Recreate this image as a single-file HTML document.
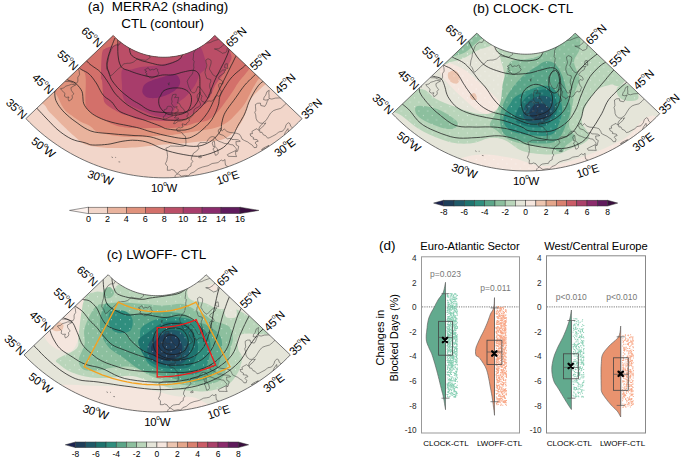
<!DOCTYPE html><html><head><meta charset="utf-8"><style>html,body{margin:0;padding:0;background:#fff;width:685px;height:461px;overflow:hidden}svg{display:block}</style></head><body>
<svg width="685" height="461" viewBox="0 0 685 461" style="font-family:'Liberation Sans',sans-serif">
<text x="158" y="10.5" text-anchor="middle" font-size="13.5" xml:space="preserve">(a)  MERRA2 (shading)</text>
<text x="162.7" y="27.6" text-anchor="middle" font-size="13.5">CTL (contour)</text>
<text x="523" y="13" text-anchor="middle" font-size="13.5">(b) CLOCK- CTL</text>
<text x="156.5" y="259.4" text-anchor="middle" font-size="13.5">(c) LWOFF- CTL</text>
<clipPath id="clipa"><path d="M113.21,35.47 L114.54,36.82 L115.90,38.14 L117.29,39.42 L118.72,40.66 L120.18,41.86 L121.68,43.02 L123.20,44.14 L124.75,45.23 L126.34,46.26 L127.95,47.26 L129.59,48.21 L131.25,49.12 L132.93,49.98 L134.64,50.79 L136.37,51.56 L138.12,52.28 L139.89,52.96 L141.68,53.59 L143.48,54.16 L145.30,54.69 L147.13,55.17 L148.97,55.60 L150.83,55.99 L152.69,56.32 L154.56,56.60 L156.44,56.83 L158.33,57.00 L160.22,57.13 L162.11,57.21 L164.00,57.23 L165.89,57.21 L167.78,57.13 L169.67,57.00 L171.56,56.83 L173.44,56.60 L175.31,56.32 L177.17,55.99 L179.03,55.60 L180.87,55.17 L182.70,54.69 L184.52,54.16 L186.32,53.59 L188.11,52.96 L189.88,52.28 L191.63,51.56 L193.36,50.79 L195.07,49.98 L196.75,49.12 L198.41,48.21 L200.05,47.26 L201.66,46.26 L203.25,45.23 L204.80,44.14 L206.32,43.02 L207.82,41.86 L209.28,40.66 L210.71,39.42 L212.10,38.14 L213.46,36.82 L214.79,35.47 L302.10,118.61 L298.50,122.29 L294.80,125.87 L291.01,129.35 L287.12,132.73 L283.15,136.00 L279.09,139.16 L274.94,142.21 L270.71,145.15 L266.41,147.97 L262.03,150.68 L257.58,153.26 L253.06,155.73 L248.47,158.07 L243.83,160.29 L239.12,162.38 L234.37,164.34 L229.56,166.18 L224.70,167.88 L219.80,169.45 L214.86,170.89 L209.88,172.20 L204.86,173.37 L199.82,174.41 L194.75,175.30 L189.66,176.07 L184.55,176.69 L179.43,177.18 L174.29,177.52 L169.15,177.73 L164.00,177.80 L158.85,177.73 L153.71,177.52 L148.57,177.18 L143.45,176.69 L138.34,176.07 L133.25,175.30 L128.18,174.41 L123.14,173.37 L118.12,172.20 L113.14,170.89 L108.20,169.45 L103.30,167.88 L98.44,166.18 L93.63,164.34 L88.88,162.38 L84.17,160.29 L79.53,158.07 L74.94,155.73 L70.42,153.26 L65.97,150.68 L61.59,147.97 L57.29,145.15 L53.06,142.21 L48.91,139.16 L44.85,136.00 L40.88,132.73 L36.99,129.35 L33.20,125.87 L29.50,122.29 L25.90,118.61Z"/></clipPath>
<g clip-path="url(#clipa)">
<path d="M113.21,35.47 L114.54,36.82 L115.90,38.14 L117.29,39.42 L118.72,40.66 L120.18,41.86 L121.68,43.02 L123.20,44.14 L124.75,45.23 L126.34,46.26 L127.95,47.26 L129.59,48.21 L131.25,49.12 L132.93,49.98 L134.64,50.79 L136.37,51.56 L138.12,52.28 L139.89,52.96 L141.68,53.59 L143.48,54.16 L145.30,54.69 L147.13,55.17 L148.97,55.60 L150.83,55.99 L152.69,56.32 L154.56,56.60 L156.44,56.83 L158.33,57.00 L160.22,57.13 L162.11,57.21 L164.00,57.23 L165.89,57.21 L167.78,57.13 L169.67,57.00 L171.56,56.83 L173.44,56.60 L175.31,56.32 L177.17,55.99 L179.03,55.60 L180.87,55.17 L182.70,54.69 L184.52,54.16 L186.32,53.59 L188.11,52.96 L189.88,52.28 L191.63,51.56 L193.36,50.79 L195.07,49.98 L196.75,49.12 L198.41,48.21 L200.05,47.26 L201.66,46.26 L203.25,45.23 L204.80,44.14 L206.32,43.02 L207.82,41.86 L209.28,40.66 L210.71,39.42 L212.10,38.14 L213.46,36.82 L214.79,35.47 L302.10,118.61 L298.50,122.29 L294.80,125.87 L291.01,129.35 L287.12,132.73 L283.15,136.00 L279.09,139.16 L274.94,142.21 L270.71,145.15 L266.41,147.97 L262.03,150.68 L257.58,153.26 L253.06,155.73 L248.47,158.07 L243.83,160.29 L239.12,162.38 L234.37,164.34 L229.56,166.18 L224.70,167.88 L219.80,169.45 L214.86,170.89 L209.88,172.20 L204.86,173.37 L199.82,174.41 L194.75,175.30 L189.66,176.07 L184.55,176.69 L179.43,177.18 L174.29,177.52 L169.15,177.73 L164.00,177.80 L158.85,177.73 L153.71,177.52 L148.57,177.18 L143.45,176.69 L138.34,176.07 L133.25,175.30 L128.18,174.41 L123.14,173.37 L118.12,172.20 L113.14,170.89 L108.20,169.45 L103.30,167.88 L98.44,166.18 L93.63,164.34 L88.88,162.38 L84.17,160.29 L79.53,158.07 L74.94,155.73 L70.42,153.26 L65.97,150.68 L61.59,147.97 L57.29,145.15 L53.06,142.21 L48.91,139.16 L44.85,136.00 L40.88,132.73 L36.99,129.35 L33.20,125.87 L29.50,122.29 L25.90,118.61Z" fill="#f2d6ca"/>
<path d="M20.0,90.0 L24.4,99.1 L28.7,103.3 L32.8,104.4 L36.6,103.7 L39.9,102.9 L42.6,103.5 L44.5,105.1 L45.8,106.5 L46.5,107.7 L47.1,108.8 L47.7,110.0 L48.7,111.3 L50.0,112.7 L51.4,114.1 L52.9,115.6 L54.4,117.1 L55.9,118.5 L57.4,120.0 L58.8,121.4 L60.3,122.9 L61.7,124.4 L63.1,125.8 L64.6,127.2 L66.0,128.6 L67.4,130.0 L68.8,131.3 L70.2,132.6 L71.7,133.9 L73.2,135.2 L74.7,136.5 L76.3,137.9 L77.8,139.3 L79.4,140.7 L81.1,142.1 L83.0,143.3 L85.0,144.3 L87.3,145.1 L89.7,145.7 L92.3,146.2 L95.0,146.6 L97.6,147.0 L100.2,147.3 L102.7,147.6 L105.1,147.8 L107.5,147.9 L109.9,148.0 L112.5,148.1 L115.3,148.1 L118.4,148.1 L121.8,148.0 L125.3,147.9 L128.8,147.7 L132.0,147.6 L135.0,147.4 L137.6,147.2 L139.9,147.0 L142.0,146.8 L144.0,146.6 L146.0,146.3 L148.1,146.1 L150.3,145.9 L152.5,145.7 L154.7,145.4 L156.9,145.2 L159.1,145.0 L161.3,144.8 L163.5,144.6 L165.7,144.5 L167.9,144.3 L170.0,144.2 L172.2,144.0 L174.4,143.9 L176.6,143.8 L178.8,143.6 L181.0,143.5 L183.2,143.3 L185.4,143.2 L187.5,143.0 L189.5,142.8 L191.4,142.5 L193.3,142.3 L195.2,142.0 L197.4,141.8 L200.0,141.5 L203.1,141.3 L206.7,141.2 L210.5,141.2 L214.3,141.0 L217.9,140.6 L221.0,140.0 L223.7,139.1 L226.1,137.9 L228.3,136.5 L230.3,135.1 L232.2,133.5 L234.0,131.9 L235.7,130.2 L237.2,128.4 L238.6,126.5 L239.8,124.6 L241.0,122.8 L242.0,121.0 L242.9,119.4 L243.6,117.8 L244.2,116.3 L244.8,114.7 L245.4,113.2 L246.0,111.5 L246.6,109.7 L247.2,107.8 L247.8,105.8 L248.4,103.9 L249.2,102.0 L250.0,100.3 L251.0,98.7 L252.0,97.3 L253.2,95.9 L254.4,94.6 L255.7,93.3 L257.0,92.0 L258.3,90.7 L259.5,89.5 L260.8,88.4 L262.2,87.1 L263.9,85.7 L266.0,84.0 L268.5,83.1 L271.2,83.3 L274.2,83.4 L277.5,82.0 L281.1,78.0 L285.0,70.0 L293.5,55.9 L307.3,36.4 L321.5,14.1 L330.9,-7.9 L330.4,-26.9 L315.0,-40.0 L277.3,-47.9 L219.8,-53.0 L152.5,-55.0 L85.2,-53.7 L27.7,-48.8 L-10.0,-40.0 L-25.5,-24.5 L-26.0,-2.0 L-16.7,24.2 L-2.6,50.5 L11.3,73.6Z" fill="#e9b39d"/>
<path d="M40.0,78.0 L43.4,86.3 L46.3,90.4 L48.7,91.5 L50.9,91.2 L52.8,90.8 L54.6,91.9 L56.2,94.2 L57.6,96.6 L58.8,99.0 L59.8,101.3 L60.8,103.4 L61.7,105.2 L62.5,106.6 L63.2,107.8 L63.9,108.8 L64.5,109.6 L65.2,110.4 L66.0,111.3 L67.0,112.2 L68.1,113.1 L69.3,114.0 L70.5,114.8 L71.8,115.6 L73.0,116.5 L74.2,117.4 L75.5,118.3 L76.8,119.2 L78.1,120.0 L79.4,120.9 L80.8,121.7 L82.3,122.5 L83.9,123.2 L85.5,123.8 L87.1,124.5 L88.6,125.2 L90.0,126.0 L91.2,126.9 L92.2,127.8 L93.1,128.8 L94.0,129.7 L95.1,130.6 L96.4,131.4 L98.0,132.1 L99.8,132.6 L101.8,133.1 L103.8,133.6 L105.8,134.0 L107.8,134.4 L109.6,134.8 L111.4,135.2 L113.2,135.5 L115.0,135.8 L117.0,136.1 L119.1,136.3 L121.5,136.5 L124.0,136.7 L126.7,136.8 L129.4,136.9 L132.2,136.9 L135.0,136.9 L137.8,136.8 L140.7,136.7 L143.7,136.5 L146.6,136.4 L149.6,136.2 L152.5,136.0 L155.5,135.9 L158.5,135.7 L161.5,135.6 L164.5,135.5 L167.3,135.3 L170.0,135.1 L172.4,134.9 L174.7,134.6 L176.8,134.3 L178.9,134.0 L181.0,133.7 L183.2,133.4 L185.4,133.0 L187.6,132.7 L189.8,132.3 L192.1,131.9 L194.5,131.4 L197.0,131.0 L199.8,130.6 L202.7,130.2 L205.8,129.7 L208.9,129.2 L211.8,128.7 L214.5,128.0 L217.0,127.2 L219.3,126.4 L221.5,125.4 L223.6,124.4 L225.6,123.3 L227.6,122.0 L229.5,120.5 L231.4,118.9 L233.2,117.1 L234.9,115.3 L236.5,113.6 L238.0,112.0 L239.3,110.6 L240.5,109.3 L241.6,108.0 L242.6,106.7 L243.5,105.4 L244.5,104.0 L245.5,102.4 L246.5,100.7 L247.5,98.9 L248.4,97.1 L249.2,95.5 L250.0,94.0 L250.6,92.8 L251.1,91.8 L251.5,90.9 L251.9,90.1 L252.4,89.1 L253.0,88.0 L253.7,86.7 L254.5,85.4 L255.3,84.0 L256.2,82.5 L257.3,80.8 L258.6,79.0 L259.9,78.0 L261.3,78.1 L262.8,78.0 L264.6,76.6 L267.0,72.7 L270.0,65.0 L277.6,51.6 L290.5,32.9 L303.8,11.6 L313.0,-9.4 L313.3,-27.5 L300.0,-40.0 L266.5,-47.4 L215.2,-52.1 L155.0,-53.9 L94.8,-52.6 L43.5,-48.0 L10.0,-40.0 L-3.3,-26.0 L-3.1,-5.6 L6.0,18.1 L19.3,42.0 L32.2,63.0Z" fill="#e0927c"/>
<path d="M68.0,55.0 L71.1,62.0 L73.5,65.6 L75.4,67.0 L76.9,67.2 L78.3,67.2 L79.7,68.1 L81.1,69.5 L82.3,70.4 L83.3,71.1 L84.2,72.1 L84.9,73.6 L85.5,76.0 L85.8,79.7 L85.8,84.6 L85.6,90.0 L85.4,95.4 L85.4,100.2 L85.5,103.9 L85.8,106.3 L86.3,107.8 L86.8,108.8 L87.4,109.5 L88.2,110.1 L89.1,111.0 L90.2,112.1 L91.6,113.2 L93.1,114.3 L94.6,115.3 L96.1,116.2 L97.4,117.0 L98.5,117.6 L99.6,118.1 L100.5,118.5 L101.5,118.9 L102.6,119.4 L104.0,120.0 L105.6,120.8 L107.4,121.7 L109.3,122.7 L111.4,123.7 L113.4,124.6 L115.3,125.3 L117.2,125.9 L119.2,126.4 L121.2,126.7 L123.1,127.1 L125.0,127.4 L126.7,127.6 L128.1,127.8 L129.2,127.9 L130.2,128.0 L131.3,128.0 L132.9,128.1 L135.0,128.1 L137.9,128.1 L141.5,128.2 L145.4,128.2 L149.4,128.1 L153.3,128.1 L156.9,128.1 L160.1,128.1 L163.2,128.1 L166.2,128.0 L169.1,128.0 L171.8,127.9 L174.4,127.7 L176.9,127.4 L179.3,127.1 L181.6,126.7 L183.7,126.3 L185.7,125.9 L187.5,125.5 L189.0,125.1 L190.2,124.7 L191.3,124.3 L192.3,123.9 L193.5,123.4 L195.0,123.0 L196.9,122.6 L199.0,122.3 L201.3,122.0 L203.7,121.6 L205.9,121.0 L208.0,120.2 L209.9,119.1 L211.8,117.7 L213.5,116.1 L215.2,114.4 L216.8,112.7 L218.4,111.0 L219.9,109.3 L221.3,107.6 L222.6,105.8 L223.8,104.1 L225.1,102.3 L226.3,100.6 L227.5,98.9 L228.7,97.3 L229.8,95.7 L230.9,94.1 L232.0,92.5 L233.0,91.0 L234.0,89.5 L234.9,88.0 L235.8,86.5 L236.6,85.1 L237.5,83.7 L238.4,82.4 L239.4,81.1 L240.3,79.9 L241.3,78.8 L242.3,77.6 L243.3,76.5 L244.3,75.3 L245.2,74.2 L246.1,73.1 L246.9,72.0 L247.8,70.9 L248.8,69.5 L250.0,68.0 L251.2,67.1 L252.3,67.1 L253.5,67.0 L255.0,65.6 L257.1,62.0 L260.0,55.0 L267.1,42.8 L279.0,25.9 L291.4,6.7 L300.1,-12.3 L301.1,-28.7 L290.0,-40.0 L261.1,-46.6 L216.4,-50.6 L164.0,-51.9 L111.6,-50.6 L66.9,-46.6 L38.0,-40.0 L26.9,-28.7 L27.8,-12.3 L36.5,6.7 L48.9,25.9 L60.8,42.8Z" fill="#d3706a"/>
<path d="M101.0,80.0 L100.9,79.0 L100.9,77.7 L100.9,76.1 L100.9,74.3 L100.9,72.2 L101.0,70.0 L101.1,67.3 L101.2,64.2 L101.4,60.8 L101.6,57.4 L101.9,54.5 L102.2,52.3 L102.6,50.9 L103.0,50.0 L103.5,49.5 L104.1,49.2 L104.7,49.0 L105.4,48.6 L106.2,48.1 L107.0,47.8 L107.9,47.4 L108.9,47.0 L109.9,46.7 L111.0,46.2 L112.2,45.8 L113.6,45.4 L115.0,45.0 L116.4,44.4 L117.8,43.6 L119.0,42.5 L119.1,40.8 L118.0,38.7 L116.9,36.3 L116.9,33.9 L119.2,31.8 L125.0,30.0 L136.0,28.3 L151.5,26.5 L169.4,25.0 L187.4,23.9 L203.3,23.8 L215.0,25.0 L222.1,28.0 L226.3,32.6 L228.5,38.1 L229.4,43.9 L229.9,49.1 L230.6,53.2 L231.4,56.0 L231.5,58.0 L231.1,59.6 L230.5,60.9 L229.7,62.2 L229.0,63.8 L228.3,65.6 L227.4,67.3 L226.4,69.1 L225.3,70.9 L224.1,72.6 L223.0,74.4 L221.8,76.2 L220.5,77.9 L219.2,79.6 L217.9,81.4 L216.6,83.2 L215.4,85.1 L214.3,87.2 L213.3,89.4 L212.3,91.7 L211.3,94.0 L210.3,96.1 L209.3,98.0 L208.3,99.6 L207.2,101.0 L206.2,102.3 L205.1,103.5 L204.0,104.6 L202.8,105.8 L201.6,107.0 L200.4,108.0 L199.2,109.1 L197.9,110.1 L196.5,111.2 L195.0,112.3 L193.3,113.5 L191.4,114.8 L189.4,116.2 L187.4,117.4 L185.3,118.5 L183.2,119.4 L181.1,120.0 L179.1,120.5 L177.0,120.7 L174.8,120.9 L172.5,121.0 L170.0,121.1 L167.3,121.1 L164.4,121.0 L161.3,120.9 L158.2,120.7 L155.3,120.5 L152.5,120.3 L149.9,120.2 L147.3,120.1 L144.9,120.1 L142.6,120.0 L140.4,119.8 L138.4,119.5 L136.7,119.1 L135.1,118.5 L133.8,117.8 L132.5,117.2 L131.3,116.5 L130.0,116.0 L128.7,115.6 L127.5,115.3 L126.2,115.0 L125.0,114.8 L123.8,114.4 L122.5,114.0 L121.2,113.4 L119.8,112.8 L118.4,112.1 L117.0,111.4 L115.6,110.6 L114.2,109.8 L112.7,108.9 L111.2,108.0 L109.6,107.0 L108.2,105.9 L106.9,104.9 L105.8,103.9 L105.0,103.0 L104.5,102.3 L104.2,101.7 L103.9,100.8 L103.7,99.6 L103.4,97.9 L103.1,95.4 L102.8,92.2 L102.6,88.6 L102.4,85.1 L102.2,82.1 L102.0,80.0 L101.8,79.1 L101.6,79.0 L101.4,79.5 L101.2,80.1 L101.1,80.4Z" fill="#bb4e67"/>
<path d="M122.0,70.0 L122.8,69.1 L124.0,68.9 L125.3,69.1 L126.8,69.5 L128.4,69.8 L130.0,69.8 L131.6,69.5 L133.2,69.0 L134.9,68.5 L136.8,68.0 L138.7,67.5 L140.9,67.1 L143.3,66.8 L146.0,66.5 L148.8,66.3 L151.7,66.0 L154.5,65.8 L157.1,65.4 L159.7,65.0 L162.2,64.4 L164.7,63.9 L167.1,63.3 L169.3,62.8 L171.3,62.2 L172.9,61.7 L174.2,61.3 L175.2,60.9 L176.3,60.4 L177.4,59.8 L178.9,59.0 L180.7,57.9 L182.8,56.5 L185.0,55.1 L187.2,53.5 L189.3,52.1 L191.1,50.8 L192.7,49.5 L194.1,48.0 L195.4,46.5 L196.7,45.4 L197.8,44.8 L199.0,45.0 L200.2,46.2 L201.3,48.4 L202.5,51.0 L203.5,53.9 L204.3,56.7 L205.0,59.0 L205.5,60.9 L205.8,62.6 L206.0,64.2 L206.0,65.7 L205.8,67.1 L205.5,68.4 L204.9,69.5 L204.1,70.4 L203.1,71.2 L202.0,72.0 L201.0,72.9 L200.0,74.1 L199.2,75.6 L198.5,77.4 L197.7,79.2 L197.0,81.2 L196.1,83.1 L195.1,85.0 L193.9,86.8 L192.5,88.7 L191.0,90.6 L189.5,92.4 L188.0,94.2 L186.5,95.8 L185.0,97.2 L183.6,98.4 L182.1,99.5 L180.6,100.6 L179.2,101.9 L177.8,103.4 L176.5,105.4 L175.3,107.7 L174.1,110.1 L172.9,112.5 L171.5,114.5 L170.0,116.0 L168.3,116.8 L166.4,117.3 L164.4,117.4 L162.3,117.2 L160.2,116.9 L158.0,116.5 L155.8,116.0 L153.6,115.3 L151.2,114.4 L148.9,113.4 L146.5,112.4 L144.0,111.3 L141.3,110.2 L138.4,109.0 L135.4,107.8 L132.6,106.5 L130.1,105.2 L128.0,104.0 L126.5,102.9 L125.4,101.8 L124.6,100.8 L124.0,99.7 L123.5,98.5 L123.0,97.0 L122.6,95.3 L122.3,93.5 L122.2,91.5 L122.1,89.4 L122.1,87.2 L122.0,85.0 L121.8,82.5 L121.6,79.7 L121.4,76.8 L121.4,74.0 L121.5,71.7Z" fill="#a83d6b"/>
<path d="M142.5,89.3 L142.7,88.4 L143.0,87.5 L143.3,86.6 L143.8,85.6 L144.4,84.7 L145.2,83.9 L146.2,83.2 L147.3,82.5 L148.6,81.8 L150.0,81.2 L151.4,80.7 L152.8,80.1 L154.2,79.6 L155.6,79.1 L157.1,78.7 L158.6,78.3 L160.0,77.8 L161.5,77.4 L163.0,76.9 L164.5,76.4 L166.0,75.9 L167.5,75.4 L168.9,75.0 L170.2,74.7 L171.4,74.5 L172.6,74.4 L173.8,74.4 L174.9,74.6 L175.8,74.8 L176.7,75.2 L177.5,75.8 L178.2,76.6 L178.8,77.6 L179.3,78.6 L179.7,79.6 L180.0,80.6 L180.1,81.5 L180.1,82.4 L180.0,83.3 L179.8,84.2 L179.4,85.1 L178.9,86.0 L178.3,86.9 L177.5,87.9 L176.6,88.8 L175.6,89.8 L174.6,90.7 L173.4,91.5 L172.1,92.3 L170.7,93.1 L169.2,93.9 L167.7,94.6 L166.2,95.2 L164.7,95.8 L163.3,96.3 L161.8,96.8 L160.4,97.2 L159.0,97.5 L157.5,97.8 L156.1,98.0 L154.6,98.1 L153.0,98.2 L151.5,98.1 L150.0,98.0 L148.6,97.8 L147.4,97.5 L146.4,97.1 L145.5,96.5 L144.7,95.8 L144.0,95.1 L143.5,94.4 L143.0,93.7 L142.7,93.0 L142.4,92.3 L142.3,91.6 L142.3,90.9 L142.4,90.1Z" fill="#8a2b6c"/>
<path d="M227.0,40.2 L225.9,41.4 L224.8,42.7 L224.0,44.0 L223.0,45.3 L222.0,46.5 L220.9,47.2 L219.8,48.0 L218.7,48.7 L217.0,48.8 L215.4,48.9 L214.4,48.9 L216.9,49.8 L221.1,52.3 L222.4,53.3 L225.1,52.7 L226.9,51.4 L227.0,48.5 L228.2,47.7 L225.3,43.6 L226.2,41.9 L227.0,40.2 M220.5,39.5 L218.4,39.3 L217.2,39.8 L215.9,40.2 L214.7,40.6 L213.4,41.0 L212.3,41.5 L211.2,42.1 L210.1,42.6 L208.8,42.8 L207.5,43.0 L205.9,42.7 L204.3,42.5 M199.7,43.6 L199.2,44.7 L198.6,45.8 L198.0,46.9 L197.3,48.1 L196.5,49.0 L195.7,49.9 L194.9,50.8 L194.2,52.0 L193.5,53.3 L193.5,56.2 L193.0,59.9 L194.2,61.2 L193.6,65.0 L193.9,67.7 L193.1,70.5 L192.7,73.1 L191.7,74.8 L190.0,76.7 L188.3,79.2 L187.2,81.2 L187.9,84.1 L188.9,87.3 L190.1,89.4 L190.8,91.3 L192.8,92.8 L194.6,92.7 L196.0,91.2 L197.0,88.4 L198.1,86.3 L198.7,87.2 L199.6,87.2 L201.5,89.3 L202.4,90.8 L204.9,94.2 L206.6,97.1 L207.4,97.5 L209.1,96.8 L208.9,94.7 L211.2,93.4 L211.3,91.5 L210.2,88.7 L209.6,86.4 L209.9,83.7 L210.8,81.7 L210.7,79.6 L206.9,78.5 L205.7,75.3 L205.0,72.7 L205.5,69.5 L206.5,67.1 L206.9,65.0 L206.2,62.8 L205.8,60.0 L208.0,58.7 L210.8,60.0 L211.2,61.7 L210.9,63.9 L210.0,66.7 L209.3,69.0 L211.8,72.9 L212.8,74.7 L215.7,76.5 L217.5,74.6 L218.7,73.5 L219.9,72.3 L221.2,71.3 L222.4,70.2 L225.9,69.7 L224.4,71.6 L224.3,72.9 L222.9,73.9 L221.5,74.8 L219.1,76.7 L218.5,77.9 L219.3,79.4 L221.1,79.9 L222.2,81.1 L223.2,82.9 L222.3,84.2 L219.8,83.3 L218.6,84.8 L218.9,86.9 L219.9,89.4 L221.5,91.6 L220.8,93.2 L220.1,95.5 L218.3,96.4 L217.4,95.3 L215.0,96.8 L214.0,99.2 L211.1,101.5 L209.9,100.9 L207.3,101.2 L205.8,102.8 L204.6,103.6 L204.2,101.9 L202.2,101.5 L201.0,99.5 L201.5,97.5 L202.1,95.9 L200.5,94.7 L200.2,92.0 L199.0,93.0 L197.4,95.0 L197.1,97.2 L197.9,100.1 L199.4,101.4 L200.5,103.9 L200.7,105.2 L198.2,107.1 L196.3,107.9 L194.2,109.5 L193.9,111.0 L193.5,113.9 L192.5,115.9 L190.7,117.6 L188.9,118.7 L189.4,121.0 L186.6,123.3 L186.3,124.4 L184.1,124.7 L183.3,123.8 L182.0,124.0 L183.1,127.0 L180.4,128.0 L178.8,127.5 L176.2,129.1 L177.2,130.4 L177.0,131.1 L180.4,131.8 L182.4,133.0 L183.4,135.0 L185.3,136.1 L185.7,138.9 L186.0,141.7 L185.8,145.3 L183.4,146.3 L179.5,146.4 L174.8,146.1 L170.4,146.0 L168.6,147.1 L165.8,148.2 L166.9,150.7 L167.2,152.8 L167.6,156.4 L166.8,160.8 L165.4,163.7 L166.3,165.2 L167.5,166.3 L167.3,170.3 L170.2,170.2 L171.7,169.4 L174.4,170.4 L175.4,172.2 L177.3,173.6 L178.4,172.4 L180.6,170.7 L184.7,170.1 L187.1,170.0 L188.3,167.6 L191.0,166.1 L191.2,163.5 L192.9,161.3 L191.2,159.4 L191.7,157.1 L193.5,153.1 L196.7,151.1 L198.9,148.4 L197.7,145.4 L199.8,142.7 L202.3,142.5 L206.4,142.6 L208.2,139.5 L210.4,137.0 L212.6,136.6 L214.7,137.1 L216.4,139.8 L218.9,141.3 L221.5,142.2 L224.9,143.6 L227.8,143.6 L230.9,144.7 L233.1,144.9 L234.7,147.0 L236.3,148.6 L236.3,151.5 L237.5,151.3 L238.1,149.1 L238.7,146.3 L236.3,145.1 L235.9,141.6 L238.6,141.6 L240.3,141.2 L238.1,139.8 L234.6,139.5 L231.9,139.5 L231.1,138.3 L227.3,138.8 L223.3,135.4 L219.6,134.2 L218.1,131.0 L219.2,129.0 L220.8,128.4 L221.2,130.1 L222.3,130.8 L224.2,128.9 L227.0,131.5 L230.0,132.5 L233.5,132.8 L236.7,133.3 L239.5,134.3 L241.2,137.0 L242.0,139.1 L244.6,140.6 L247.6,141.9 L249.8,143.6 L252.3,145.1 L254.0,147.6 L256.4,147.5 L257.0,145.0 L255.2,143.1 L255.8,141.8 L258.2,141.3 L257.2,139.7 L253.2,139.1 L253.6,137.6 L250.7,136.0 L250.1,133.8 L252.5,133.6 L251.9,131.5 L254.4,129.9 L256.9,128.7 L258.7,130.5 L259.1,128.1 L260.1,126.1 L263.1,123.3 L260.0,123.1 L257.3,121.1 L256.1,118.5 L255.7,114.8 L254.8,112.4 L255.8,110.4 L255.5,106.7 L255.4,104.5 L257.5,103.3 L260.4,103.1 L260.8,105.5 L264.8,106.4 L266.2,104.2 L267.2,101.5 L268.5,99.3 L266.0,100.2 L263.5,99.6 L264.2,97.1 L265.7,95.2 L266.9,91.7 L269.2,90.3 L268.8,93.2 L269.1,95.3 L269.0,98.4 L271.8,99.1 L275.3,98.1 L279.5,97.9 L285.9,98.4 L287.2,99.6 L286.7,102.8 L283.8,105.8 L280.7,108.4 L276.2,109.6 L273.5,110.6 L270.5,113.2 L268.3,116.8 L266.0,120.5 L263.2,122.6 L264.3,123.6 L265.8,122.9 L264.0,125.5 L261.3,127.9 L259.5,129.6 L259.9,132.3 L262.0,132.3 L263.4,134.9 L265.6,135.6 L267.7,138.2 L269.8,137.6 L272.5,136.2 L276.5,134.1 L278.6,132.0 L282.6,131.2 L285.1,128.1 L286.1,124.7 L288.3,122.7 L290.0,123.7 L290.6,126.2 L292.6,127.9 L293.7,131.0 L295.6,134.9 M173.5,123.6 L175.0,123.7 L176.7,122.3 L178.3,121.3 L181.4,120.9 L183.2,120.2 L186.0,119.7 L188.3,117.9 L187.1,117.1 L186.9,115.9 L188.1,114.7 L188.1,112.9 L187.0,111.9 L185.0,112.3 L184.3,110.5 L183.2,108.6 L181.2,107.2 L180.1,105.0 L179.0,103.1 L177.1,103.0 L177.8,101.9 L178.3,99.1 L178.7,97.4 L175.6,97.4 L174.6,97.8 L176.1,95.3 L176.1,94.2 L174.4,94.4 L172.7,94.7 L172.3,96.0 L171.6,99.1 L172.1,101.8 L171.5,103.5 L172.6,105.4 L173.7,107.0 L175.3,107.2 L177.2,106.5 L176.5,108.1 L178.1,109.7 L178.1,111.7 L176.0,112.4 L174.8,113.4 L176.4,115.0 L176.1,116.0 L174.3,117.7 L176.5,118.0 L178.9,118.1 L177.9,119.3 L176.4,119.8 L175.4,120.5 L173.5,123.6 M172.3,116.3 L172.0,113.6 L171.6,111.6 L172.9,109.1 L171.7,106.8 L170.2,106.3 L168.6,106.3 L167.3,106.7 L166.6,109.1 L164.0,109.8 L164.2,112.2 L166.0,113.2 L165.4,115.2 L163.2,116.9 L163.6,118.6 L165.1,119.0 L167.2,118.2 L169.2,117.2 L171.5,116.4 L172.3,116.3 M146.6,75.9 L145.8,74.9 L147.2,74.1 L145.2,72.0 L146.8,71.4 L144.6,69.9 L146.7,68.6 L148.2,67.6 L149.8,70.2 L152.3,69.3 L153.9,69.8 L156.1,68.4 L157.9,69.6 L157.4,70.9 L159.0,73.0 L157.6,75.5 L156.1,76.1 L154.2,77.0 L152.2,78.0 L150.0,78.0 L148.0,76.1 L146.6,75.9 M168.2,83.6 L169.2,82.6 L168.9,85.2 L168.2,83.6 M150.8,54.3 L149.4,55.7 L150.2,57.5 L148.8,58.5 L147.4,59.4 L145.9,60.3 L144.7,60.2 L143.5,60.0 L142.3,59.8 L141.1,59.6 L139.8,59.4 L138.7,59.1 L137.5,58.8 L135.5,60.5 L133.4,62.1 L131.8,62.7 L130.1,63.2 L128.6,63.3 L127.1,63.3 L125.4,63.6 L123.7,63.8 L121.5,66.4 L118.6,68.6 L114.8,72.2 L112.5,74.6 L110.6,75.8 L109.7,74.5 L108.7,71.5 L107.6,70.2 L106.5,68.8 L107.1,63.9 L108.3,59.9 L108.6,57.1 L109.8,53.4 L111.3,49.5 L113.1,46.7 L116.0,44.8 L117.5,45.0 L118.9,45.1 L121.5,40.8 M85.0,53.6 L83.1,57.7 L81.3,62.0 L79.8,65.3 L78.3,68.7 L79.2,71.1 L79.5,74.7 L77.8,77.3 L77.9,81.1 L76.8,83.2 L73.5,83.0 L70.1,81.6 L65.6,81.5 L63.1,79.3 L61.1,77.3 L59.2,75.4 M71.7,99.3 L68.9,101.1 L68.0,98.9 L69.0,97.0 L66.2,97.4 L64.4,96.2 L65.0,93.4 L63.3,91.8 L61.6,90.2 L60.5,88.6 L63.8,88.0 L65.5,86.2 L68.5,85.4 L71.4,84.3 L75.9,84.8 L73.4,86.2 L70.9,87.7 L71.3,90.3 L73.8,93.9 L72.1,95.6 L72.4,97.7 L71.7,99.3 M55.4,91.9 L56.5,88.5 L54.7,88.6 L51.6,89.8 L51.4,91.7 L49.2,90.3 M227.3,154.7 L229.6,153.4 L232.6,152.0 L235.6,150.6 L235.7,154.5 L236.6,156.6 L234.0,156.5 L228.3,156.3 L227.3,154.7 M215.4,155.3 L217.1,154.8 L218.3,153.2 L217.5,148.9 L215.4,147.0 L212.9,148.9 L214.1,150.8 L215.4,155.3 M213.4,146.8 L214.9,146.4 L214.4,141.3 L213.7,140.7 L212.2,143.1 L213.4,146.8 M261.5,149.7 L263.9,147.8 L269.0,145.4 L266.0,148.2 L261.5,149.7 M284.2,135.1 L285.4,132.2 L287.9,128.6 L288.5,132.1 L286.9,134.9 L284.2,135.1 M198.5,157.3 L200.7,155.8 L201.4,157.5 L199.8,157.8 L198.5,157.3 M174.5,178.3 L175.3,175.6 L176.4,174.4 L178.2,173.9 L181.4,176.2 L185.7,175.4 L188.5,175.8 L190.6,173.3 L194.1,172.0 L198.1,168.7 L202.3,167.1 L205.2,166.4 L208.1,165.7 L212.1,163.5 L215.0,163.1 L218.0,162.6 L221.2,160.0 L223.0,161.0 L225.0,159.5 L225.1,162.2 L225.5,165.2 L227.4,166.2 L226.3,170.5 M118.5,161.8 L120.2,162.0 M115.2,157.4 L116.1,157.5 M111.5,156.9 L113.0,157.7 M224.5,67.5 L225.0,64.2 L227.2,63.6 L227.9,68.6 L224.5,67.5" fill="none" stroke="#333" stroke-width="0.5" stroke-linejoin="round"/>
<path d="M28.0,100.0 L29.1,101.0 L30.7,102.4 L32.5,104.1 L34.4,105.9 L36.3,107.7 L38.1,109.6 L40.0,111.6 L41.9,113.6 L43.9,115.8 L46.0,118.0 L48.2,120.3 L50.6,122.8 L53.0,125.3 L55.5,127.8 L58.0,130.0 L60.6,132.1 L63.3,134.1 L66.0,135.9 L68.8,137.6 L71.5,139.0 L74.3,140.1 L77.2,141.0 L80.0,141.6 L82.7,142.2 L85.0,142.8 L86.8,143.4 L88.1,143.9 L89.3,144.4 L90.7,144.8 L92.6,145.0 L95.2,145.1 L98.1,145.0 L101.4,144.9 L104.6,144.6 L107.8,144.3 L110.9,143.8 L114.0,143.1 L117.1,142.4 L120.1,141.7 L122.9,141.2 L125.5,140.8 L127.9,140.5 L130.2,140.3 L132.6,140.2 L135.0,140.3 L137.5,140.4 L139.9,140.7 L142.4,141.0 L145.1,141.6 L148.1,142.5 L151.5,143.8 L155.1,145.5 L158.9,147.4 L163.1,149.2 L167.5,150.8 L172.5,152.2 L178.1,153.5 L183.8,154.6 L189.2,155.5 L193.8,156.1 L197.4,156.3 L200.2,156.1 L202.7,155.7 L205.1,155.1 L207.8,154.3 L211.0,153.3 L214.3,152.0 L217.7,150.6 L220.9,149.0 L223.6,147.3 L225.8,145.4 L227.8,143.4 L229.4,141.2 L230.9,139.0 L232.3,136.8 L233.6,134.7 L234.6,132.7 L235.5,130.6 L236.5,128.5 L237.6,126.3 L238.9,124.0 L240.4,121.6 L241.8,119.1 L243.3,116.6 L244.6,114.0 L245.7,111.3 L246.7,108.6 L247.6,105.7 L248.6,102.9 L249.9,100.0 L251.4,97.0 L253.1,93.8 L254.9,90.7 L256.8,87.8 L258.6,85.3 L260.6,83.2 L262.8,81.5 L264.9,80.0 L266.7,78.9 L268.0,78.0 M48.0,84.0 L48.9,84.7 L50.2,85.7 L51.6,86.9 L53.0,88.2 L54.0,89.8 L54.5,91.6 L54.8,93.7 L54.9,95.9 L55.2,98.1 L55.8,100.3 L56.8,102.4 L58.0,104.5 L59.4,106.6 L61.0,108.7 L62.8,110.8 L64.8,112.9 L67.1,115.0 L69.6,117.2 L72.2,119.3 L75.0,121.3 L77.9,123.4 L80.9,125.6 L84.1,127.7 L87.4,129.5 L90.8,131.0 L94.4,132.0 L98.2,132.6 L102.1,133.0 L106.1,133.3 L110.1,133.6 L114.2,134.0 L118.5,134.4 L122.8,134.7 L127.0,135.0 L131.1,135.3 L135.0,135.6 L138.9,135.7 L142.6,135.9 L146.3,136.3 L150.0,136.8 L153.4,137.6 L156.7,138.7 L159.9,139.8 L163.5,141.0 L167.5,142.0 L172.4,143.1 L177.9,144.2 L183.6,145.3 L189.1,146.1 L193.8,146.4 L197.7,146.2 L201.1,145.6 L204.2,144.6 L206.9,143.4 L209.6,142.0 L212.2,140.3 L214.6,138.2 L216.8,135.9 L218.6,133.6 L220.1,131.5 L221.0,129.7 L221.3,128.0 L221.4,126.3 L221.5,124.6 L221.8,122.8 L222.3,120.9 L222.7,118.9 L223.3,116.9 L224.1,114.7 L225.3,112.3 L227.0,109.6 L229.1,106.6 L231.4,103.5 L233.7,100.5 L235.8,97.6 L237.6,95.0 L239.4,92.4 L241.0,90.0 L242.8,87.6 L244.6,85.3 L246.6,83.0 L248.9,80.8 L251.1,78.6 L253.2,76.6 L255.1,74.8 L256.8,73.1 L258.5,71.5 L259.9,70.1 L261.1,68.9 L262.0,68.0 M62.0,76.0 L62.8,76.6 L63.9,77.4 L65.2,78.4 L66.6,79.3 L68.0,80.1 L69.3,80.6 L70.7,81.0 L72.2,81.4 L73.6,81.9 L75.0,82.8 L76.5,84.1 L78.0,85.7 L79.6,87.5 L80.9,89.4 L82.0,91.5 L82.6,93.8 L82.8,96.3 L83.0,99.0 L83.2,101.5 L83.8,103.8 L84.8,105.8 L86.1,107.7 L87.5,109.4 L89.1,111.1 L90.8,112.6 L92.6,114.0 L94.6,115.3 L96.7,116.5 L98.9,117.6 L101.3,118.7 L103.8,119.7 L106.3,120.6 L109.0,121.4 L112.0,122.3 L115.3,123.1 L119.2,124.0 L123.6,124.8 L128.2,125.7 L132.5,126.6 L136.4,127.4 L139.5,128.2 L142.2,129.0 L144.6,129.8 L147.2,130.7 L150.0,131.5 L153.3,132.4 L156.7,133.3 L160.3,134.3 L163.9,135.1 L167.5,135.9 L171.1,136.6 L174.8,137.4 L178.5,138.0 L181.9,138.4 L185.0,138.5 L187.5,138.3 L189.7,137.8 L191.6,137.1 L193.5,136.1 L195.5,135.0 L197.7,133.6 L199.9,131.9 L202.1,130.0 L204.2,128.1 L206.1,126.3 L207.8,124.6 L209.2,123.0 L210.6,121.3 L211.9,119.5 L213.1,117.5 L214.3,115.2 L215.5,112.7 L216.6,110.1 L217.5,107.6 L218.3,105.3 L218.8,103.3 L219.0,101.4 L219.2,99.7 L219.5,97.8 L220.1,95.8 L221.2,93.5 L222.5,90.9 L224.1,88.3 L225.6,85.8 L227.1,83.5 L228.4,81.5 L229.7,79.8 L231.0,78.1 L232.5,76.5 L234.1,74.8 L236.1,73.0 L238.3,71.2 L240.6,69.3 L242.8,67.6 L244.6,66.0 L246.1,64.5 L247.4,63.1 L248.5,61.8 L249.3,60.8 L250.0,60.0 M76.0,64.0 L76.5,64.6 L77.2,65.6 L78.0,66.6 L79.1,67.7 L80.3,68.8 L81.8,69.8 L83.6,70.7 L85.5,71.6 L87.4,72.7 L89.1,74.0 L90.6,75.5 L92.0,77.1 L93.4,78.9 L94.7,80.8 L96.1,82.8 L97.5,85.1 L98.8,87.7 L100.2,90.3 L101.6,92.8 L103.1,95.0 L104.8,96.7 L106.5,98.1 L108.4,99.3 L110.1,100.6 L111.8,102.0 L113.2,103.7 L114.5,105.6 L115.7,107.4 L117.1,109.2 L118.8,110.8 L120.9,112.1 L123.3,113.2 L125.8,114.2 L128.4,115.2 L131.1,116.1 L133.8,117.0 L136.5,117.8 L139.4,118.6 L142.2,119.5 L145.1,120.4 L148.1,121.5 L151.4,122.7 L154.5,123.9 L157.5,125.0 L160.0,126.0 L161.8,126.8 L163.1,127.5 L164.1,128.1 L165.5,128.6 L167.5,129.0 L170.4,129.4 L174.0,129.9 L177.9,130.2 L181.7,130.2 L185.0,130.0 L187.8,129.4 L190.4,128.6 L192.8,127.5 L195.0,126.1 L197.3,124.5 L199.6,122.5 L201.8,120.1 L204.0,117.5 L206.0,114.9 L207.8,112.3 L209.3,109.8 L210.6,107.3 L211.8,104.8 L212.9,102.3 L214.0,100.0 L215.1,97.9 L216.1,95.8 L217.1,93.9 L218.0,92.0 L219.0,90.0 L220.0,88.0 L221.0,86.0 L222.0,84.0 L223.0,82.0 L224.0,80.0 L225.0,78.0 L226.0,76.0 L227.0,74.0 L228.0,72.0 L229.0,70.0 L230.0,68.0 L231.0,65.9 L232.1,63.9 L233.1,61.9 L234.0,60.0 L234.9,58.1 L235.9,56.3 L236.7,54.5 L237.5,53.1 L238.0,52.0 M80.0,54.0 L80.7,54.7 L81.6,55.6 L82.8,56.7 L83.9,57.9 L85.0,59.0 L85.9,60.0 L86.7,61.0 L87.6,62.0 L88.7,63.1 L90.0,64.3 L91.8,65.6 L93.9,67.1 L96.2,68.6 L98.4,70.2 L100.4,72.0 L102.1,73.9 L103.8,76.0 L105.3,78.2 L106.8,80.4 L108.2,82.5 L109.5,84.6 L110.7,86.7 L111.9,88.8 L113.2,90.9 L114.7,93.0 L116.5,95.1 L118.5,97.2 L120.6,99.2 L122.8,101.2 L125.0,103.0 L127.1,104.6 L129.3,106.1 L131.5,107.4 L133.7,108.7 L136.0,110.0 L138.4,111.3 L141.0,112.6 L143.6,113.9 L146.1,115.0 L148.6,116.0 L151.0,116.7 L153.4,117.3 L155.8,117.7 L158.0,118.1 L160.0,118.5 L161.6,118.9 L162.8,119.3 L164.0,119.7 L165.4,119.9 L167.5,120.1 L170.5,120.2 L174.1,120.3 L178.0,120.2 L181.8,119.9 L185.0,119.3 L187.6,118.3 L189.9,116.9 L191.9,115.4 L193.7,113.8 L195.5,112.3 L197.2,110.9 L198.7,109.5 L200.1,108.1 L201.4,106.7 L202.6,105.3 L203.8,103.9 L204.9,102.4 L206.0,101.0 L206.9,99.5 L207.8,98.0 L208.6,96.5 L209.2,94.9 L209.8,93.4 L210.3,91.7 L211.0,90.0 L211.7,88.1 L212.5,86.1 L213.3,84.1 L214.1,82.0 L215.0,80.0 L215.9,78.0 L216.9,76.0 L218.0,74.0 L219.0,72.0 L220.0,70.0 L221.0,68.0 L222.0,66.0 L223.1,64.0 L224.1,62.0 L225.0,60.0 L225.9,58.0 L226.8,56.0 L227.6,54.0 L228.3,52.0 L229.0,50.0 L229.6,47.8 L230.0,45.5 L230.4,43.3 L230.8,41.4 L231.0,40.0 M118.0,36.0 L117.9,38.7 L117.8,42.6 L117.8,47.0 L117.8,51.4 L118.0,55.0 L118.4,58.0 L118.8,60.7 L119.5,63.1 L120.3,65.1 L121.3,66.9 L122.6,68.2 L124.2,69.1 L125.9,69.7 L127.7,70.2 L129.5,70.8 L131.2,71.5 L133.0,72.2 L134.8,72.8 L136.8,73.5 L138.9,74.1 L141.3,74.8 L144.0,75.5 L146.7,76.2 L149.4,76.7 L151.9,77.0 L154.1,76.9 L156.2,76.5 L158.3,75.9 L160.3,75.4 L162.3,75.0 L164.4,74.9 L166.5,74.9 L168.6,75.0 L170.7,75.0 L172.8,74.8 L174.9,74.4 L177.0,73.8 L179.1,73.2 L181.2,72.5 L183.3,72.0 L185.5,71.5 L187.7,71.0 L190.0,70.6 L192.0,70.3 L193.8,70.4 L195.3,70.8 L196.5,71.5 L197.6,72.4 L198.4,73.5 L199.1,74.8 L199.6,76.2 L199.8,77.8 L199.9,79.6 L199.9,81.5 L199.9,83.5 L199.9,85.8 L200.0,88.4 L199.9,91.0 L199.8,93.5 L199.5,95.8 L199.0,97.7 L198.4,99.5 L197.7,101.1 L196.9,102.6 L196.0,104.0 L195.0,105.4 L194.0,106.7 L192.8,107.9 L191.5,109.0 L190.0,110.0 L188.4,110.8 L186.6,111.6 L184.6,112.2 L182.4,112.7 L180.0,113.0 L177.2,113.1 L173.9,113.1 L170.5,113.0 L167.2,112.8 L164.0,112.5 L161.0,112.3 L158.1,112.0 L155.2,111.7 L152.5,111.2 L150.0,110.5 L147.7,109.5 L145.7,108.4 L143.7,107.1 L141.9,105.7 L140.0,104.5 L138.2,103.4 L136.4,102.4 L134.6,101.4 L132.8,100.3 L131.0,99.0 L129.0,97.6 L127.0,96.0 L124.9,94.4 L122.9,92.7 L121.0,91.0 L119.2,89.2 L117.4,87.4 L115.8,85.5 L114.3,83.7 L113.0,82.0 L112.0,80.5 L111.2,79.2 L110.6,77.9 L110.1,76.4 L109.5,74.7 L108.8,72.7 L108.1,70.5 L107.4,68.1 L107.0,65.6 L106.9,63.0 L107.3,60.2 L108.0,57.3 L108.9,54.2 L109.9,51.3 L110.8,48.6 L111.7,46.1 L112.7,43.6 L113.6,41.3 L114.4,39.4 L115.0,38.0 M129.1,45.0 L129.3,46.4 L129.4,48.3 L129.7,50.6 L130.2,52.7 L131.0,54.5 L132.2,55.9 L133.7,57.0 L135.4,58.0 L137.1,58.9 L138.9,59.7 L140.6,60.4 L142.3,60.9 L144.1,61.4 L146.0,61.8 L148.0,62.3 L150.2,62.9 L152.7,63.5 L155.2,64.2 L157.6,64.7 L159.7,65.0 L161.4,65.2 L162.9,65.2 L164.2,65.1 L165.7,64.8 L167.5,64.3 L169.8,63.6 L172.5,62.7 L175.2,61.6 L177.8,60.4 L179.8,59.0 L181.2,57.3 L182.3,55.2 L183.0,53.1 L183.6,51.3 L184.0,50.0 M160.5,95.8 L161.0,94.8 L161.5,93.7 L162.1,92.6 L162.9,91.5 L164.0,90.6 L165.4,89.9 L167.1,89.2 L168.9,88.7 L170.8,88.3 L172.8,88.0 L174.8,87.9 L177.0,87.9 L179.3,88.0 L181.4,88.3 L183.3,88.8 L185.0,89.5 L186.6,90.4 L188.1,91.5 L189.3,92.8 L190.3,94.1 L191.0,95.6 L191.4,97.3 L191.5,99.1 L191.5,101.0 L191.2,102.8 L190.8,104.6 L190.1,106.6 L189.3,108.5 L188.2,110.2 L186.8,111.6 L185.1,112.7 L183.0,113.6 L180.8,114.3 L178.5,114.8 L176.3,115.1 L174.1,115.2 L171.9,115.0 L169.7,114.6 L167.6,114.1 L165.8,113.3 L164.2,112.2 L162.8,110.9 L161.5,109.3 L160.4,107.8 L159.6,106.3 L159.1,104.8 L158.8,103.3 L158.7,101.8 L158.7,100.5 L158.8,99.3 L159.0,98.4 L159.2,97.7 L159.6,97.2 L160.0,96.6Z" fill="none" stroke="#1e1e1e" stroke-width="0.75" stroke-linejoin="round"/>

</g>
<path d="M113.21,35.47 L114.54,36.82 L115.90,38.14 L117.29,39.42 L118.72,40.66 L120.18,41.86 L121.68,43.02 L123.20,44.14 L124.75,45.23 L126.34,46.26 L127.95,47.26 L129.59,48.21 L131.25,49.12 L132.93,49.98 L134.64,50.79 L136.37,51.56 L138.12,52.28 L139.89,52.96 L141.68,53.59 L143.48,54.16 L145.30,54.69 L147.13,55.17 L148.97,55.60 L150.83,55.99 L152.69,56.32 L154.56,56.60 L156.44,56.83 L158.33,57.00 L160.22,57.13 L162.11,57.21 L164.00,57.23 L165.89,57.21 L167.78,57.13 L169.67,57.00 L171.56,56.83 L173.44,56.60 L175.31,56.32 L177.17,55.99 L179.03,55.60 L180.87,55.17 L182.70,54.69 L184.52,54.16 L186.32,53.59 L188.11,52.96 L189.88,52.28 L191.63,51.56 L193.36,50.79 L195.07,49.98 L196.75,49.12 L198.41,48.21 L200.05,47.26 L201.66,46.26 L203.25,45.23 L204.80,44.14 L206.32,43.02 L207.82,41.86 L209.28,40.66 L210.71,39.42 L212.10,38.14 L213.46,36.82 L214.79,35.47 L302.10,118.61 L298.50,122.29 L294.80,125.87 L291.01,129.35 L287.12,132.73 L283.15,136.00 L279.09,139.16 L274.94,142.21 L270.71,145.15 L266.41,147.97 L262.03,150.68 L257.58,153.26 L253.06,155.73 L248.47,158.07 L243.83,160.29 L239.12,162.38 L234.37,164.34 L229.56,166.18 L224.70,167.88 L219.80,169.45 L214.86,170.89 L209.88,172.20 L204.86,173.37 L199.82,174.41 L194.75,175.30 L189.66,176.07 L184.55,176.69 L179.43,177.18 L174.29,177.52 L169.15,177.73 L164.00,177.80 L158.85,177.73 L153.71,177.52 L148.57,177.18 L143.45,176.69 L138.34,176.07 L133.25,175.30 L128.18,174.41 L123.14,173.37 L118.12,172.20 L113.14,170.89 L108.20,169.45 L103.30,167.88 L98.44,166.18 L93.63,164.34 L88.88,162.38 L84.17,160.29 L79.53,158.07 L74.94,155.73 L70.42,153.26 L65.97,150.68 L61.59,147.97 L57.29,145.15 L53.06,142.21 L48.91,139.16 L44.85,136.00 L40.88,132.73 L36.99,129.35 L33.20,125.87 L29.50,122.29 L25.90,118.61Z" fill="none" stroke="#444" stroke-width="0.75"/>
<text x="16.6" y="108.8" transform="rotate(43.6 16.6 108.8)" text-anchor="middle" dominant-baseline="central" font-size="11.4" letter-spacing="-0.25">35<tspan font-size="6.5" dy="-4.6">o</tspan><tspan dy="4.6">N</tspan></text>
<text x="311.4" y="108.8" transform="rotate(-43.6 311.4 108.8)" text-anchor="middle" dominant-baseline="central" font-size="11.4" letter-spacing="-0.25">35<tspan font-size="6.5" dy="-4.6">o</tspan><tspan dy="4.6">N</tspan></text>
<text x="42.9" y="83.8" transform="rotate(43.6 42.9 83.8)" text-anchor="middle" dominant-baseline="central" font-size="11.4" letter-spacing="-0.25">45<tspan font-size="6.5" dy="-4.6">o</tspan><tspan dy="4.6">N</tspan></text>
<text x="285.1" y="83.8" transform="rotate(-43.6 285.1 83.8)" text-anchor="middle" dominant-baseline="central" font-size="11.4" letter-spacing="-0.25">45<tspan font-size="6.5" dy="-4.6">o</tspan><tspan dy="4.6">N</tspan></text>
<text x="67.8" y="60.1" transform="rotate(43.6 67.8 60.1)" text-anchor="middle" dominant-baseline="central" font-size="11.4" letter-spacing="-0.25">55<tspan font-size="6.5" dy="-4.6">o</tspan><tspan dy="4.6">N</tspan></text>
<text x="260.2" y="60.1" transform="rotate(-43.6 260.2 60.1)" text-anchor="middle" dominant-baseline="central" font-size="11.4" letter-spacing="-0.25">55<tspan font-size="6.5" dy="-4.6">o</tspan><tspan dy="4.6">N</tspan></text>
<text x="91.9" y="37.1" transform="rotate(43.6 91.9 37.1)" text-anchor="middle" dominant-baseline="central" font-size="11.4" letter-spacing="-0.25">65<tspan font-size="6.5" dy="-4.6">o</tspan><tspan dy="4.6">N</tspan></text>
<text x="236.1" y="37.1" transform="rotate(-43.6 236.1 37.1)" text-anchor="middle" dominant-baseline="central" font-size="11.4" letter-spacing="-0.25">65<tspan font-size="6.5" dy="-4.6">o</tspan><tspan dy="4.6">N</tspan></text>
<text x="43.3" y="147.5" transform="rotate(37.0 43.3 147.5)" text-anchor="middle" dominant-baseline="central" font-size="11.4" letter-spacing="-0.25">50<tspan font-size="6.5" dy="-4.6">o</tspan><tspan dy="4.6">W</tspan></text>
<text x="100.4" y="177.5" transform="rotate(18.5 100.4 177.5)" text-anchor="middle" dominant-baseline="central" font-size="11.4" letter-spacing="-0.25">30<tspan font-size="6.5" dy="-4.6">o</tspan><tspan dy="4.6">W</tspan></text>
<text x="164.0" y="187.8" transform="rotate(-0.0 164.0 187.8)" text-anchor="middle" dominant-baseline="central" font-size="11.4" letter-spacing="-0.25">10<tspan font-size="6.5" dy="-4.6">o</tspan><tspan dy="4.6">W</tspan></text>
<text x="227.6" y="177.5" transform="rotate(-18.5 227.6 177.5)" text-anchor="middle" dominant-baseline="central" font-size="11.4" letter-spacing="-0.25">10<tspan font-size="6.5" dy="-4.6">o</tspan><tspan dy="4.6">E</tspan></text>
<text x="284.7" y="147.5" transform="rotate(-37.0 284.7 147.5)" text-anchor="middle" dominant-baseline="central" font-size="11.4" letter-spacing="-0.25">30<tspan font-size="6.5" dy="-4.6">o</tspan><tspan dy="4.6">E</tspan></text>
<clipPath id="clipb"><path d="M476.81,33.14 L478.10,34.45 L479.41,35.73 L480.76,36.96 L482.15,38.17 L483.56,39.33 L485.01,40.46 L486.49,41.54 L487.99,42.59 L489.53,43.60 L491.09,44.56 L492.67,45.48 L494.28,46.36 L495.91,47.19 L497.57,47.98 L499.24,48.73 L500.94,49.43 L502.65,50.08 L504.38,50.69 L506.13,51.25 L507.89,51.76 L509.66,52.23 L511.45,52.64 L513.24,53.01 L515.05,53.33 L516.86,53.60 L518.68,53.82 L520.51,54.00 L522.33,54.12 L524.17,54.20 L526.00,54.22 L527.83,54.20 L529.67,54.12 L531.49,54.00 L533.32,53.82 L535.14,53.60 L536.95,53.33 L538.76,53.01 L540.55,52.64 L542.34,52.23 L544.11,51.76 L545.87,51.25 L547.62,50.69 L549.35,50.08 L551.06,49.43 L552.76,48.73 L554.43,47.98 L556.09,47.19 L557.72,46.36 L559.33,45.48 L560.91,44.56 L562.47,43.60 L564.01,42.59 L565.51,41.54 L566.99,40.46 L568.44,39.33 L569.85,38.17 L571.24,36.96 L572.59,35.73 L573.90,34.45 L575.19,33.14 L659.74,113.66 L656.26,117.22 L652.67,120.69 L649.00,124.06 L645.24,127.33 L641.39,130.50 L637.45,133.56 L633.44,136.52 L629.34,139.36 L625.18,142.09 L620.93,144.71 L616.62,147.22 L612.25,149.61 L607.81,151.88 L603.31,154.02 L598.75,156.05 L594.15,157.95 L589.49,159.73 L584.78,161.38 L580.04,162.90 L575.25,164.29 L570.43,165.56 L565.57,166.69 L560.69,167.70 L555.78,168.57 L550.85,169.30 L545.90,169.91 L540.94,170.38 L535.97,170.71 L530.98,170.92 L526.00,170.98 L521.02,170.92 L516.03,170.71 L511.06,170.38 L506.10,169.91 L501.15,169.30 L496.22,168.57 L491.31,167.70 L486.43,166.69 L481.57,165.56 L476.75,164.29 L471.96,162.90 L467.22,161.38 L462.51,159.73 L457.85,157.95 L453.25,156.05 L448.69,154.02 L444.19,151.88 L439.75,149.61 L435.38,147.22 L431.07,144.71 L426.82,142.09 L422.66,139.36 L418.56,136.52 L414.55,133.56 L410.61,130.50 L406.76,127.33 L403.00,124.06 L399.33,120.69 L395.74,117.22 L392.26,113.66Z"/></clipPath>
<g clip-path="url(#clipb)">
<path d="M476.81,33.14 L478.10,34.45 L479.41,35.73 L480.76,36.96 L482.15,38.17 L483.56,39.33 L485.01,40.46 L486.49,41.54 L487.99,42.59 L489.53,43.60 L491.09,44.56 L492.67,45.48 L494.28,46.36 L495.91,47.19 L497.57,47.98 L499.24,48.73 L500.94,49.43 L502.65,50.08 L504.38,50.69 L506.13,51.25 L507.89,51.76 L509.66,52.23 L511.45,52.64 L513.24,53.01 L515.05,53.33 L516.86,53.60 L518.68,53.82 L520.51,54.00 L522.33,54.12 L524.17,54.20 L526.00,54.22 L527.83,54.20 L529.67,54.12 L531.49,54.00 L533.32,53.82 L535.14,53.60 L536.95,53.33 L538.76,53.01 L540.55,52.64 L542.34,52.23 L544.11,51.76 L545.87,51.25 L547.62,50.69 L549.35,50.08 L551.06,49.43 L552.76,48.73 L554.43,47.98 L556.09,47.19 L557.72,46.36 L559.33,45.48 L560.91,44.56 L562.47,43.60 L564.01,42.59 L565.51,41.54 L566.99,40.46 L568.44,39.33 L569.85,38.17 L571.24,36.96 L572.59,35.73 L573.90,34.45 L575.19,33.14 L659.74,113.66 L656.26,117.22 L652.67,120.69 L649.00,124.06 L645.24,127.33 L641.39,130.50 L637.45,133.56 L633.44,136.52 L629.34,139.36 L625.18,142.09 L620.93,144.71 L616.62,147.22 L612.25,149.61 L607.81,151.88 L603.31,154.02 L598.75,156.05 L594.15,157.95 L589.49,159.73 L584.78,161.38 L580.04,162.90 L575.25,164.29 L570.43,165.56 L565.57,166.69 L560.69,167.70 L555.78,168.57 L550.85,169.30 L545.90,169.91 L540.94,170.38 L535.97,170.71 L530.98,170.92 L526.00,170.98 L521.02,170.92 L516.03,170.71 L511.06,170.38 L506.10,169.91 L501.15,169.30 L496.22,168.57 L491.31,167.70 L486.43,166.69 L481.57,165.56 L476.75,164.29 L471.96,162.90 L467.22,161.38 L462.51,159.73 L457.85,157.95 L453.25,156.05 L448.69,154.02 L444.19,151.88 L439.75,149.61 L435.38,147.22 L431.07,144.71 L426.82,142.09 L422.66,139.36 L418.56,136.52 L414.55,133.56 L410.61,130.50 L406.76,127.33 L403.00,124.06 L399.33,120.69 L395.74,117.22 L392.26,113.66Z" fill="#e5e5d9"/>
<path d="M440.3,72.3 L440.1,70.5 L440.1,68.4 L440.3,66.4 L440.9,64.6 L442.0,63.2 L443.6,62.5 L445.9,62.5 L448.9,63.1 L452.3,64.1 L456.0,65.5 L459.7,67.2 L463.1,69.0 L466.4,71.1 L469.7,73.7 L473.1,76.5 L476.3,79.5 L479.5,82.5 L482.6,85.3 L485.7,88.1 L489.0,90.9 L492.2,93.7 L495.0,96.4 L497.4,99.1 L498.9,101.6 L499.6,104.1 L499.7,106.8 L499.3,109.3 L498.4,111.6 L497.1,113.4 L495.6,114.6 L493.6,115.1 L491.2,115.1 L488.3,114.6 L485.3,113.8 L482.3,112.7 L479.4,111.4 L476.7,109.8 L474.0,107.9 L471.3,105.7 L468.5,103.3 L465.8,100.8 L463.1,98.3 L460.3,95.7 L457.3,92.9 L454.3,90.0 L451.5,87.1 L448.9,84.5 L446.8,82.1 L445.0,80.1 L443.5,78.4 L442.3,76.8 L441.4,75.3 L440.7,73.9Z" fill="#f5e6de"/>
<path d="M440.0,170.0 L446.1,165.3 L452.0,161.7 L457.7,159.2 L463.4,157.4 L469.1,156.1 L475.0,155.0 L481.1,154.4 L487.3,154.5 L493.6,155.1 L499.9,156.0 L506.0,157.0 L512.0,158.0 L517.7,159.3 L523.0,161.0 L528.3,162.8 L533.6,164.5 L539.1,165.7 L545.0,166.0 L551.3,165.5 L557.9,164.3 L564.6,162.6 L571.5,160.5 L578.3,158.3 L585.0,156.0 L591.6,153.6 L598.2,151.0 L604.8,148.2 L611.3,145.2 L617.7,142.1 L624.0,139.0 L629.9,134.5 L635.3,128.5 L640.7,122.3 L646.3,117.5 L652.6,115.6 L660.0,118.0 L673.0,126.4 L692.3,140.0 L712.2,156.4 L727.3,173.4 L731.7,188.7 L720.0,200.0 L684.5,207.7 L628.1,213.9 L561.2,218.2 L494.1,220.8 L436.9,221.4 L400.0,220.0 L385.9,215.3 L386.9,207.2 L397.8,197.2 L413.7,186.7 L429.5,177.1Z" fill="#f5e6de"/>
<path d="M449.0,72.0 L449.9,71.5 L451.0,71.1 L452.3,70.8 L453.7,70.6 L454.9,70.7 L456.0,71.0 L456.9,71.7 L457.8,72.8 L458.6,74.1 L459.3,75.5 L459.8,76.8 L460.0,78.0 L459.9,79.1 L459.6,80.2 L459.1,81.3 L458.5,82.2 L457.8,83.0 L457.0,83.5 L456.1,83.7 L455.1,83.6 L454.0,83.4 L452.9,83.0 L451.9,82.5 L451.0,82.0 L450.3,81.4 L449.6,80.6 L449.1,79.7 L448.6,78.8 L448.2,77.9 L448.0,77.0 L447.9,76.1 L447.8,75.2 L447.9,74.2 L448.1,73.4 L448.4,72.6Z" fill="#ecc5b0"/>
<path d="M471.0,94.0 L471.5,93.7 L472.2,93.4 L472.9,93.2 L473.7,93.1 L474.4,93.2 L475.0,93.5 L475.5,94.1 L476.0,95.1 L476.5,96.2 L476.9,97.3 L477.0,98.3 L477.0,99.0 L476.7,99.5 L476.1,99.8 L475.3,100.0 L474.5,100.1 L473.7,100.1 L473.0,100.0 L472.4,99.7 L471.8,99.3 L471.2,98.8 L470.7,98.1 L470.3,97.5 L470.0,97.0 L469.9,96.5 L469.9,95.9 L470.1,95.3 L470.3,94.8 L470.6,94.4Z" fill="#ecc5b0"/>
<path d="M385.0,105.0 L388.0,102.4 L393.4,99.1 L400.2,95.7 L407.5,92.6 L414.2,90.2 L419.5,89.0 L423.2,89.2 L425.9,90.4 L428.2,92.3 L430.4,94.6 L432.9,97.0 L436.1,99.0 L440.2,100.9 L444.9,102.9 L450.0,104.9 L455.0,106.8 L459.7,108.6 L463.8,110.0 L467.2,111.1 L470.2,112.1 L472.8,112.8 L475.2,113.4 L477.6,113.8 L480.0,114.0 L482.5,114.1 L484.9,114.1 L487.3,113.9 L489.5,113.6 L491.6,112.9 L493.5,112.0 L495.1,110.8 L496.6,109.4 L497.9,107.8 L499.0,105.9 L500.1,103.6 L501.0,100.9 L501.9,97.6 L502.8,93.7 L503.5,89.5 L504.1,85.2 L504.4,80.9 L504.5,77.0 L504.2,73.4 L503.5,69.9 L502.7,66.6 L501.7,63.3 L500.8,60.1 L500.0,57.0 L499.1,54.3 L497.9,52.0 L496.8,49.8 L496.0,47.3 L496.0,44.1 L497.0,40.0 L498.7,34.2 L500.6,26.9 L503.3,18.9 L507.1,11.2 L512.6,4.6 L520.0,0.0 L530.4,-2.7 L543.6,-4.1 L558.3,-4.4 L573.4,-3.7 L587.7,-2.2 L600.0,0.0 L610.9,3.0 L621.7,7.0 L631.6,11.8 L640.0,17.3 L646.4,23.4 L650.0,30.0 L650.0,37.9 L646.6,47.4 L641.2,57.5 L634.9,67.3 L628.9,75.7 L624.4,81.7 L621.4,85.0 L618.9,86.2 L616.7,86.1 L614.7,85.4 L612.7,84.6 L610.7,84.6 L608.6,85.2 L606.5,85.7 L604.4,86.3 L602.5,86.9 L600.7,87.6 L599.0,88.5 L597.6,89.5 L596.4,90.5 L595.3,91.6 L594.2,92.9 L593.2,94.3 L592.0,96.0 L590.7,97.9 L589.2,100.2 L587.7,102.6 L586.3,105.0 L585.0,107.5 L584.0,109.8 L583.2,112.0 L582.6,114.2 L582.1,116.3 L581.8,118.4 L581.8,120.6 L582.1,122.7 L582.9,124.9 L584.4,127.2 L586.0,129.5 L587.6,131.7 L588.9,133.8 L589.5,135.6 L589.4,137.2 L588.9,138.5 L588.0,139.8 L586.9,140.9 L585.5,141.9 L584.0,143.0 L582.3,144.0 L580.3,145.0 L578.0,145.9 L575.7,146.7 L573.3,147.6 L571.1,148.5 L569.0,149.5 L566.9,150.5 L564.9,151.6 L562.8,152.6 L560.5,153.4 L558.0,154.0 L555.2,154.4 L552.3,154.5 L549.1,154.6 L545.9,154.5 L542.7,154.3 L539.6,154.0 L536.5,153.7 L533.4,153.3 L530.2,152.9 L527.1,152.2 L524.1,151.4 L521.1,150.4 L518.2,149.0 L515.3,147.1 L512.6,145.1 L509.8,143.1 L507.1,141.3 L504.5,140.0 L502.0,139.1 L499.6,138.5 L497.3,138.0 L494.9,137.8 L492.5,137.8 L490.0,138.0 L487.3,138.5 L484.6,139.3 L481.7,140.4 L478.9,141.4 L475.9,142.4 L473.0,143.0 L470.0,143.4 L467.0,143.6 L463.9,143.7 L460.8,143.6 L457.7,143.4 L454.6,143.0 L451.5,142.4 L448.4,141.7 L445.4,140.8 L442.3,139.7 L439.2,138.6 L436.1,137.4 L433.0,136.1 L429.9,134.7 L426.8,133.3 L423.7,131.7 L420.7,130.0 L417.7,128.2 L414.8,126.2 L412.0,124.1 L409.2,121.8 L406.5,119.5 L403.7,117.3 L401.0,115.3 L397.7,113.5 L393.7,111.9 L389.8,110.3 L386.6,108.8 L384.7,107.0Z" fill="#b9d5ba"/>
<path d="M440.0,63.0 L442.3,64.3 L444.2,64.6 L445.9,64.2 L447.5,63.4 L449.1,62.6 L450.9,62.0 L452.9,61.6 L455.0,61.0 L457.1,60.4 L459.3,59.7 L461.5,58.9 L463.8,58.0 L466.2,56.9 L468.7,55.5 L471.3,54.0 L473.8,52.5 L476.3,51.1 L478.6,50.0 L480.7,49.1 L482.7,48.4 L484.6,47.9 L486.4,47.3 L488.2,46.7 L490.0,46.0 L492.2,45.3 L494.9,44.7 L497.6,44.0 L499.7,43.1 L500.7,41.8 L500.0,40.0 L497.5,37.0 L493.7,32.9 L488.8,28.4 L483.0,24.2 L476.6,21.2 L470.0,20.0 L462.0,21.0 L452.2,23.6 L441.9,27.3 L432.2,31.6 L424.5,36.0 L420.0,40.0 L419.4,43.9 L421.8,48.3 L426.2,52.8 L431.4,57.0 L436.4,60.5Z" fill="#b9d5ba"/>
<path d="M617.0,88.0 L617.9,86.9 L619.1,85.9 L620.8,85.1 L622.5,84.4 L624.3,84.0 L626.0,84.0 L627.7,84.4 L629.6,85.1 L631.4,86.2 L633.2,87.4 L634.8,88.7 L636.0,90.0 L636.9,91.4 L637.7,93.0 L638.2,94.8 L638.5,96.4 L638.5,97.9 L638.0,99.0 L637.0,99.8 L635.5,100.4 L633.7,100.8 L631.7,101.0 L629.7,101.1 L628.0,101.0 L626.4,100.7 L624.7,100.3 L623.0,99.7 L621.4,98.9 L620.1,98.0 L619.0,97.0 L618.1,95.7 L617.4,94.2 L616.9,92.5 L616.6,90.8 L616.6,89.3Z" fill="#b9d5ba"/>
<path d="M440.0,61.0 L440.6,62.9 L442.0,63.0 L444.1,61.8 L446.4,60.0 L448.8,58.2 L451.0,57.0 L453.1,56.4 L455.3,55.7 L457.6,55.1 L459.9,54.4 L462.0,53.8 L463.8,53.0 L465.3,52.2 L466.7,51.3 L467.8,50.4 L468.9,49.5 L470.0,48.5 L471.2,47.5 L472.4,46.5 L473.5,45.6 L474.6,44.6 L475.8,43.5 L477.1,42.4 L478.6,41.0 L480.9,39.4 L484.0,37.6 L487.3,35.7 L489.9,33.8 L491.0,31.8 L490.0,30.0 L486.0,27.7 L479.4,24.7 L471.3,21.8 L463.0,19.5 L455.5,18.7 L450.0,20.0 L446.4,24.4 L443.7,31.6 L441.8,40.1 L440.7,48.8 L440.1,56.2Z" fill="#8cbf9e"/>
<path d="M417.7,106.0 L419.9,105.8 L422.8,105.9 L426.2,106.3 L429.9,107.0 L433.6,107.9 L437.0,109.0 L440.5,110.5 L444.2,112.4 L448.0,114.6 L451.5,116.9 L454.4,119.0 L456.4,120.8 L457.4,122.4 L457.7,123.9 L457.4,125.2 L456.7,126.4 L455.7,127.4 L454.6,128.2 L453.4,128.7 L451.9,129.0 L450.1,129.1 L448.1,129.0 L445.9,128.7 L443.5,128.2 L440.7,127.4 L437.5,126.3 L434.1,125.1 L430.7,123.7 L427.6,122.3 L425.0,121.0 L422.8,119.8 L420.9,118.5 L419.2,117.3 L417.9,116.0 L416.8,114.8 L416.0,113.5 L415.5,112.1 L415.1,110.6 L415.1,109.1 L415.4,107.7 L416.3,106.6Z" fill="#8cbf9e"/>
<path d="M545.1,51.1 L545.8,48.2 L545.5,44.5 L544.8,40.4 L544.6,36.3 L545.4,32.7 L548.0,30.0 L553.3,28.1 L561.0,26.6 L569.7,25.6 L578.3,25.0 L585.5,24.8 L590.0,25.0 L591.4,25.6 L590.7,26.7 L588.5,28.2 L585.7,29.9 L583.1,31.9 L581.5,33.9 L580.8,36.1 L580.5,38.7 L580.3,41.5 L580.2,44.3 L580.0,47.0 L579.5,49.5 L578.7,51.7 L577.5,53.7 L576.3,55.7 L575.1,57.6 L574.3,59.7 L574.0,62.0 L574.4,64.6 L575.4,67.4 L576.7,70.4 L578.0,73.3 L579.0,76.2 L579.5,78.8 L579.3,81.1 L578.7,83.2 L577.8,85.1 L576.8,87.1 L575.8,89.4 L575.0,92.0 L574.3,95.2 L573.5,98.9 L572.8,102.8 L572.2,106.7 L571.5,110.3 L571.0,113.5 L570.5,116.2 L570.0,118.5 L569.5,120.6 L569.2,122.6 L569.0,124.5 L569.2,126.4 L569.9,128.4 L571.1,130.3 L572.5,132.2 L573.8,134.0 L574.6,135.7 L574.8,137.4 L574.0,139.0 L572.6,140.5 L570.7,142.0 L568.7,143.4 L566.9,144.7 L565.5,146.0 L564.7,147.3 L564.2,148.6 L563.8,149.9 L563.4,151.0 L562.8,151.8 L561.7,152.2 L560.2,152.0 L558.4,151.4 L556.4,150.5 L554.1,149.4 L551.6,148.4 L548.8,147.6 L545.6,147.1 L542.0,146.6 L538.1,146.3 L534.1,145.9 L530.3,145.4 L526.7,144.8 L523.3,144.1 L520.0,143.3 L516.8,142.5 L513.8,141.5 L510.9,140.5 L508.2,139.3 L505.7,137.9 L503.4,136.3 L501.3,134.6 L499.4,132.9 L497.6,131.3 L496.0,130.0 L494.5,129.0 L493.1,128.2 L491.8,127.6 L490.8,127.0 L490.1,126.1 L489.8,125.0 L490.0,123.5 L490.8,121.8 L491.8,119.9 L493.0,117.9 L494.2,115.8 L495.3,113.8 L496.3,111.8 L497.3,109.8 L498.3,107.7 L499.2,105.5 L500.1,103.3 L500.8,100.9 L501.3,98.3 L501.6,95.6 L501.8,92.7 L502.0,89.8 L502.3,87.0 L502.7,84.3 L503.3,81.7 L503.9,79.2 L504.7,76.7 L505.4,74.3 L506.2,72.0 L507.0,70.0 L507.6,68.1 L508.1,66.4 L508.6,64.8 L509.3,63.3 L510.4,62.1 L512.0,61.0 L514.3,60.3 L517.3,59.9 L520.6,59.6 L524.0,59.5 L527.4,59.1 L530.4,58.5 L533.2,57.7 L536.0,56.9 L538.7,56.0 L541.2,54.8 L543.4,53.2Z" fill="#8cbf9e"/>
<path d="M535.9,67.0 L537.6,65.9 L539.2,64.7 L540.7,63.6 L542.1,62.7 L543.6,62.0 L545.1,61.5 L546.7,61.3 L548.2,61.2 L549.8,61.4 L551.4,61.7 L552.9,62.4 L554.3,63.3 L555.7,64.6 L557.0,66.2 L558.3,68.1 L559.5,70.1 L560.7,72.2 L561.7,74.4 L562.6,76.6 L563.4,78.8 L564.0,81.2 L564.7,83.7 L565.3,86.3 L566.0,89.0 L566.8,92.0 L567.8,95.2 L568.8,98.6 L569.6,102.0 L570.3,105.2 L570.5,108.3 L570.3,111.1 L569.9,113.8 L569.1,116.4 L568.2,118.9 L567.3,121.3 L566.3,123.8 L565.3,126.3 L564.3,129.0 L563.1,131.5 L561.9,134.0 L560.6,136.2 L559.2,138.0 L557.8,139.5 L556.4,140.6 L555.0,141.5 L553.3,142.3 L551.3,142.8 L548.8,143.2 L545.7,143.5 L542.1,143.5 L538.1,143.4 L534.0,143.2 L530.0,142.8 L526.4,142.3 L522.9,141.7 L519.5,140.8 L516.1,139.9 L513.0,138.9 L510.2,137.8 L507.9,136.7 L506.1,135.7 L504.7,134.6 L503.7,133.6 L502.9,132.4 L502.2,131.0 L501.6,129.4 L501.0,127.4 L500.6,125.2 L500.2,122.8 L500.1,120.3 L500.0,117.7 L500.2,115.3 L500.5,113.0 L501.1,110.6 L501.7,108.2 L502.5,105.9 L503.5,103.5 L504.5,101.2 L505.6,98.8 L506.9,96.4 L508.3,94.0 L509.8,91.7 L511.4,89.3 L513.0,87.1 L514.7,84.9 L516.4,82.8 L518.3,80.7 L520.2,78.7 L522.1,76.8 L524.0,75.0 L526.0,73.4 L528.0,71.9 L530.1,70.6 L532.1,69.3 L534.1,68.1Z" fill="#5ba689"/>
<path d="M516.2,96.2 L518.7,94.8 L521.8,93.2 L525.2,91.6 L528.8,90.1 L532.3,88.7 L535.3,87.7 L538.0,86.9 L540.5,86.3 L542.9,85.8 L545.2,85.7 L547.4,85.8 L549.4,86.3 L551.4,87.2 L553.2,88.6 L555.0,90.3 L556.6,92.2 L558.0,94.2 L559.2,96.2 L560.1,98.3 L560.9,100.6 L561.4,103.1 L561.8,105.5 L562.0,108.0 L562.1,110.3 L562.0,112.5 L561.7,114.7 L561.3,116.8 L560.7,118.9 L560.0,121.0 L559.2,123.0 L558.4,125.1 L557.5,127.2 L556.6,129.3 L555.4,131.2 L554.0,132.9 L552.2,134.2 L550.0,135.1 L547.5,135.6 L544.8,135.9 L541.8,135.9 L538.6,135.8 L535.3,135.6 L531.6,135.3 L527.4,134.8 L523.1,134.2 L518.8,133.4 L515.0,132.5 L511.9,131.4 L509.5,130.1 L507.6,128.6 L506.1,126.9 L504.9,125.1 L504.1,123.3 L503.5,121.5 L503.3,119.7 L503.6,117.7 L504.1,115.7 L504.8,113.8 L505.6,111.9 L506.3,110.3 L506.9,108.9 L507.5,107.6 L508.2,106.5 L508.9,105.4 L509.7,104.3 L510.5,103.2 L511.2,102.0 L511.8,100.9 L512.4,99.8 L513.3,98.6 L514.5,97.5Z" fill="#2f8e7e"/>
<path d="M525.8,97.6 L527.7,96.0 L529.7,94.6 L531.9,93.3 L534.1,92.1 L536.3,91.2 L538.5,90.5 L540.7,89.9 L543.0,89.5 L545.3,89.3 L547.5,89.3 L549.5,89.7 L551.2,90.5 L552.6,91.9 L553.9,93.8 L554.9,96.1 L555.7,98.5 L556.4,100.9 L556.8,103.2 L557.1,105.3 L557.2,107.5 L557.1,109.7 L556.8,111.9 L556.2,113.9 L555.4,115.9 L554.3,117.8 L552.9,119.7 L551.2,121.6 L549.4,123.2 L547.5,124.7 L545.5,125.8 L543.4,126.6 L541.2,127.2 L538.8,127.5 L536.4,127.6 L533.9,127.5 L531.4,127.2 L528.7,126.7 L525.7,126.0 L522.7,125.1 L519.9,124.1 L517.5,122.9 L515.9,121.5 L515.1,120.0 L514.9,118.2 L515.1,116.3 L515.7,114.3 L516.5,112.3 L517.3,110.3 L518.3,108.2 L519.5,106.0 L520.8,103.7 L522.4,101.5 L524.1,99.4Z" fill="#1e746f"/>
<path d="M527.2,103.2 L528.7,101.8 L530.4,100.3 L532.4,99.0 L534.5,97.8 L536.5,96.8 L538.5,96.2 L540.5,95.8 L542.5,95.7 L544.6,95.8 L546.6,96.2 L548.3,96.8 L549.8,97.6 L551.0,98.7 L552.0,100.2 L552.8,102.0 L553.4,103.8 L553.8,105.7 L554.0,107.4 L554.0,109.1 L553.8,110.8 L553.5,112.6 L552.9,114.3 L552.2,115.9 L551.2,117.3 L550.0,118.6 L548.6,119.8 L547.0,120.9 L545.2,121.8 L543.3,122.5 L541.3,123.0 L539.1,123.2 L536.5,123.3 L533.9,123.1 L531.3,122.8 L529.0,122.2 L527.2,121.5 L525.8,120.5 L524.8,119.3 L524.0,117.8 L523.4,116.3 L523.1,114.7 L523.0,113.1 L523.1,111.5 L523.5,109.8 L524.1,108.1 L525.0,106.3 L526.0,104.7Z" fill="#1f5a69"/>
<path d="M530.0,109.9 L530.6,108.9 L531.4,107.8 L532.3,106.7 L533.4,105.7 L534.5,104.8 L535.7,104.2 L537.0,103.8 L538.4,103.5 L539.9,103.4 L541.4,103.5 L542.8,103.7 L544.1,104.2 L545.3,105.0 L546.6,106.0 L547.7,107.3 L548.7,108.7 L549.5,110.0 L549.8,111.3 L549.7,112.5 L549.3,113.8 L548.6,115.2 L547.7,116.4 L546.7,117.5 L545.5,118.3 L544.1,118.9 L542.5,119.4 L540.7,119.7 L538.9,119.9 L537.2,119.9 L535.7,119.7 L534.4,119.3 L533.3,118.8 L532.2,118.0 L531.3,117.2 L530.6,116.3 L530.0,115.5 L529.6,114.6 L529.4,113.7 L529.3,112.8 L529.4,111.8 L529.6,110.9Z" fill="#1e3e5a"/>
<pattern id="dotb" patternUnits="userSpaceOnUse" width="8.8" height="8.8" x="0.5" y="0.5"><rect x="0" y="0" width="0.85" height="1.1" fill="#fff" fill-opacity="0.55"/><rect x="4.4" y="4.4" width="0.85" height="1.1" fill="#fff" fill-opacity="0.55"/></pattern>
<path d="M385.0,105.0 L388.0,102.4 L393.4,99.1 L400.2,95.7 L407.5,92.6 L414.2,90.2 L419.5,89.0 L423.2,89.2 L425.9,90.4 L428.2,92.3 L430.4,94.6 L432.9,97.0 L436.1,99.0 L440.2,100.9 L444.9,102.9 L450.0,104.9 L455.0,106.8 L459.7,108.6 L463.8,110.0 L467.2,111.1 L470.2,112.1 L472.8,112.8 L475.2,113.4 L477.6,113.8 L480.0,114.0 L482.5,114.1 L484.9,114.1 L487.3,113.9 L489.5,113.6 L491.6,112.9 L493.5,112.0 L495.1,110.8 L496.6,109.4 L497.9,107.8 L499.0,105.9 L500.1,103.6 L501.0,100.9 L501.9,97.6 L502.8,93.7 L503.5,89.5 L504.1,85.2 L504.4,80.9 L504.5,77.0 L504.2,73.4 L503.5,69.9 L502.7,66.6 L501.7,63.3 L500.8,60.1 L500.0,57.0 L499.1,54.3 L497.9,52.0 L496.8,49.8 L496.0,47.3 L496.0,44.1 L497.0,40.0 L498.7,34.2 L500.6,26.9 L503.3,18.9 L507.1,11.2 L512.6,4.6 L520.0,0.0 L530.4,-2.7 L543.6,-4.1 L558.3,-4.4 L573.4,-3.7 L587.7,-2.2 L600.0,0.0 L610.9,3.0 L621.7,7.0 L631.6,11.8 L640.0,17.3 L646.4,23.4 L650.0,30.0 L650.0,37.9 L646.6,47.4 L641.2,57.5 L634.9,67.3 L628.9,75.7 L624.4,81.7 L621.4,85.0 L618.9,86.2 L616.7,86.1 L614.7,85.4 L612.7,84.6 L610.7,84.6 L608.6,85.2 L606.5,85.7 L604.4,86.3 L602.5,86.9 L600.7,87.6 L599.0,88.5 L597.6,89.5 L596.4,90.5 L595.3,91.6 L594.2,92.9 L593.2,94.3 L592.0,96.0 L590.7,97.9 L589.2,100.2 L587.7,102.6 L586.3,105.0 L585.0,107.5 L584.0,109.8 L583.2,112.0 L582.6,114.2 L582.1,116.3 L581.8,118.4 L581.8,120.6 L582.1,122.7 L582.9,124.9 L584.4,127.2 L586.0,129.5 L587.6,131.7 L588.9,133.8 L589.5,135.6 L589.4,137.2 L588.9,138.5 L588.0,139.8 L586.9,140.9 L585.5,141.9 L584.0,143.0 L582.3,144.0 L580.3,145.0 L578.0,145.9 L575.7,146.7 L573.3,147.6 L571.1,148.5 L569.0,149.5 L566.9,150.5 L564.9,151.6 L562.8,152.6 L560.5,153.4 L558.0,154.0 L555.2,154.4 L552.3,154.5 L549.1,154.6 L545.9,154.5 L542.7,154.3 L539.6,154.0 L536.5,153.7 L533.4,153.3 L530.2,152.9 L527.1,152.2 L524.1,151.4 L521.1,150.4 L518.2,149.0 L515.3,147.1 L512.6,145.1 L509.8,143.1 L507.1,141.3 L504.5,140.0 L502.0,139.1 L499.6,138.5 L497.3,138.0 L494.9,137.8 L492.5,137.8 L490.0,138.0 L487.3,138.5 L484.6,139.3 L481.7,140.4 L478.9,141.4 L475.9,142.4 L473.0,143.0 L470.0,143.4 L467.0,143.6 L463.9,143.7 L460.8,143.6 L457.7,143.4 L454.6,143.0 L451.5,142.4 L448.4,141.7 L445.4,140.8 L442.3,139.7 L439.2,138.6 L436.1,137.4 L433.0,136.1 L429.9,134.7 L426.8,133.3 L423.7,131.7 L420.7,130.0 L417.7,128.2 L414.8,126.2 L412.0,124.1 L409.2,121.8 L406.5,119.5 L403.7,117.3 L401.0,115.3 L397.7,113.5 L393.7,111.9 L389.8,110.3 L386.6,108.8 L384.7,107.0Z" fill="url(#dotb)"/>
<path d="M440.0,63.0 L442.3,64.3 L444.2,64.6 L445.9,64.2 L447.5,63.4 L449.1,62.6 L450.9,62.0 L452.9,61.6 L455.0,61.0 L457.1,60.4 L459.3,59.7 L461.5,58.9 L463.8,58.0 L466.2,56.9 L468.7,55.5 L471.3,54.0 L473.8,52.5 L476.3,51.1 L478.6,50.0 L480.7,49.1 L482.7,48.4 L484.6,47.9 L486.4,47.3 L488.2,46.7 L490.0,46.0 L492.2,45.3 L494.9,44.7 L497.6,44.0 L499.7,43.1 L500.7,41.8 L500.0,40.0 L497.5,37.0 L493.7,32.9 L488.8,28.4 L483.0,24.2 L476.6,21.2 L470.0,20.0 L462.0,21.0 L452.2,23.6 L441.9,27.3 L432.2,31.6 L424.5,36.0 L420.0,40.0 L419.4,43.9 L421.8,48.3 L426.2,52.8 L431.4,57.0 L436.4,60.5Z" fill="url(#dotb)"/>
<path d="M617.0,88.0 L617.9,86.9 L619.1,85.9 L620.8,85.1 L622.5,84.4 L624.3,84.0 L626.0,84.0 L627.7,84.4 L629.6,85.1 L631.4,86.2 L633.2,87.4 L634.8,88.7 L636.0,90.0 L636.9,91.4 L637.7,93.0 L638.2,94.8 L638.5,96.4 L638.5,97.9 L638.0,99.0 L637.0,99.8 L635.5,100.4 L633.7,100.8 L631.7,101.0 L629.7,101.1 L628.0,101.0 L626.4,100.7 L624.7,100.3 L623.0,99.7 L621.4,98.9 L620.1,98.0 L619.0,97.0 L618.1,95.7 L617.4,94.2 L616.9,92.5 L616.6,90.8 L616.6,89.3Z" fill="url(#dotb)"/>
<path d="M440.0,170.0 L446.1,165.3 L452.0,161.7 L457.7,159.2 L463.4,157.4 L469.1,156.1 L475.0,155.0 L481.1,154.4 L487.3,154.5 L493.6,155.1 L499.9,156.0 L506.0,157.0 L512.0,158.0 L517.7,159.3 L523.0,161.0 L528.3,162.8 L533.6,164.5 L539.1,165.7 L545.0,166.0 L551.3,165.5 L557.9,164.3 L564.6,162.6 L571.5,160.5 L578.3,158.3 L585.0,156.0 L591.6,153.6 L598.2,151.0 L604.8,148.2 L611.3,145.2 L617.7,142.1 L624.0,139.0 L629.9,134.5 L635.3,128.5 L640.7,122.3 L646.3,117.5 L652.6,115.6 L660.0,118.0 L673.0,126.4 L692.3,140.0 L712.2,156.4 L727.3,173.4 L731.7,188.7 L720.0,200.0 L684.5,207.7 L628.1,213.9 L561.2,218.2 L494.1,220.8 L436.9,221.4 L400.0,220.0 L385.9,215.3 L386.9,207.2 L397.8,197.2 L413.7,186.7 L429.5,177.1Z" fill="url(#dotb)"/>
<path d="M440.0,45.0 L444.1,42.2 L448.9,39.1 L454.1,35.9 L459.4,33.1 L464.8,31.1 L470.0,30.0 L475.3,29.9 L480.9,30.4 L486.6,31.6 L491.9,33.5 L496.4,36.3 L500.0,40.0 L502.4,45.0 L503.9,51.4 L504.7,58.6 L505.0,66.1 L505.0,73.4 L505.0,80.0 L504.9,86.2 L504.6,92.4 L504.1,98.4 L503.1,103.9 L501.8,108.6 L500.0,112.0 L497.6,114.1 L494.6,115.1 L491.2,115.3 L487.6,114.9 L483.8,114.0 L480.0,113.0 L476.1,111.7 L472.0,110.0 L467.7,107.9 L463.4,105.5 L459.1,102.8 L455.0,100.0 L450.9,96.8 L446.6,93.2 L442.4,89.3 L438.4,85.4 L434.9,81.5 L432.0,78.0 L429.7,74.7 L427.7,71.6 L426.1,68.6 L425.1,65.6 L424.7,62.8 L425.0,60.0 L426.1,57.3 L427.8,54.8 L430.2,52.3 L433.1,49.9 L436.4,47.5Z" fill="url(#dotb)"/>
<path d="M587.0,37.7 L586.0,38.9 L584.9,40.1 L584.1,41.4 L583.1,42.6 L582.2,43.8 L581.1,44.5 L580.0,45.3 L578.9,46.0 L577.3,46.1 L575.8,46.2 L574.8,46.1 L577.3,47.0 L581.3,49.4 L582.6,50.5 L585.2,49.8 L586.9,48.6 L587.0,45.8 L588.2,45.0 L585.3,41.0 L586.2,39.4 L587.0,37.7 M580.7,37.1 L578.7,36.9 L577.5,37.3 L576.3,37.7 L575.1,38.1 L573.8,38.5 L572.8,39.0 L571.7,39.5 L570.6,40.0 L569.4,40.2 L568.1,40.4 L566.5,40.2 L565.0,39.9 M560.6,41.0 L560.1,42.1 L559.5,43.2 L558.9,44.3 L558.3,45.3 L557.5,46.2 L556.7,47.1 L555.9,48.0 L555.3,49.2 L554.6,50.4 L554.5,53.2 L554.1,56.8 L555.3,58.1 L554.7,61.8 L554.9,64.4 L554.2,67.1 L553.8,69.5 L552.9,71.2 L551.2,73.1 L549.5,75.5 L548.5,77.4 L549.2,80.2 L550.1,83.3 L551.3,85.4 L551.9,87.2 L553.9,88.7 L555.6,88.5 L557.0,87.1 L557.9,84.4 L559.0,82.4 L559.6,83.2 L560.5,83.2 L562.3,85.3 L563.2,86.7 L565.6,90.0 L567.2,92.8 L568.0,93.2 L569.7,92.6 L569.5,90.5 L571.7,89.2 L571.8,87.4 L570.8,84.6 L570.2,82.4 L570.4,79.8 L571.4,77.9 L571.2,75.8 L567.5,74.8 L566.4,71.7 L565.7,69.2 L566.2,66.1 L567.2,63.8 L567.5,61.8 L566.8,59.6 L566.5,56.9 L568.6,55.6 L571.4,56.9 L571.8,58.6 L571.4,60.7 L570.6,63.4 L569.8,65.6 L572.3,69.4 L573.2,71.1 L576.0,72.9 L577.8,71.1 L579.0,70.0 L580.1,68.8 L581.4,67.8 L582.6,66.8 L586.0,66.3 L584.5,68.1 L584.4,69.4 L583.1,70.3 L581.7,71.2 L579.4,73.1 L578.8,74.3 L579.6,75.6 L581.3,76.1 L582.4,77.3 L583.3,79.1 L582.4,80.4 L580.1,79.5 L578.9,80.9 L579.2,83.0 L580.1,85.4 L581.7,87.5 L581.0,89.0 L580.3,91.3 L578.6,92.1 L577.7,91.1 L575.4,92.6 L574.4,94.8 L571.6,97.1 L570.5,96.5 L567.9,96.8 L566.5,98.4 L565.3,99.1 L565.0,97.5 L563.0,97.1 L561.8,95.1 L562.3,93.2 L562.9,91.7 L561.4,90.5 L561.0,87.8 L559.9,88.9 L558.3,90.8 L558.0,92.9 L558.9,95.7 L560.2,97.0 L561.4,99.4 L561.6,100.7 L559.1,102.5 L557.3,103.3 L555.2,104.8 L555.0,106.3 L554.6,109.1 L553.6,111.0 L551.8,112.7 L550.1,113.7 L550.6,116.0 L547.9,118.2 L547.6,119.2 L545.5,119.6 L544.7,118.7 L543.4,118.8 L544.5,121.7 L541.9,122.7 L540.3,122.2 L537.8,123.8 L538.8,125.1 L538.6,125.8 L541.9,126.5 L543.9,127.6 L544.8,129.5 L546.6,130.6 L547.0,133.3 L547.3,136.0 L547.1,139.5 L544.7,140.5 L541.0,140.6 L536.4,140.3 L532.2,140.2 L530.5,141.2 L527.8,142.3 L528.8,144.7 L529.1,146.8 L529.4,150.3 L528.7,154.5 L527.4,157.3 L528.2,158.8 L529.4,159.8 L529.1,163.7 L532.0,163.7 L533.4,162.9 L536.0,163.8 L537.0,165.6 L538.8,166.9 L539.9,165.7 L542.1,164.1 L546.1,163.5 L548.4,163.4 L549.5,161.1 L552.2,159.7 L552.4,157.1 L554.0,155.0 L552.3,153.2 L552.8,151.0 L554.6,147.1 L557.7,145.1 L559.8,142.5 L558.6,139.6 L560.6,137.0 L563.1,136.8 L567.0,136.8 L568.8,133.9 L570.9,131.4 L573.1,131.1 L575.1,131.5 L576.8,134.2 L579.1,135.6 L581.6,136.5 L584.9,137.9 L587.8,137.9 L590.8,138.9 L592.9,139.1 L594.4,141.1 L596.0,142.7 L596.0,145.5 L597.2,145.3 L597.7,143.1 L598.3,140.5 L596.0,139.3 L595.6,136.0 L598.2,135.9 L599.8,135.5 L597.7,134.2 L594.4,133.9 L591.8,133.9 L591.0,132.7 L587.3,133.2 L583.5,129.9 L579.8,128.7 L578.4,125.6 L579.5,123.8 L581.0,123.1 L581.4,124.8 L582.5,125.5 L584.3,123.6 L587.0,126.2 L589.9,127.2 L593.3,127.4 L596.4,127.9 L599.1,128.8 L600.8,131.5 L601.5,133.5 L604.1,134.9 L606.9,136.2 L609.1,137.8 L611.5,139.3 L613.2,141.7 L615.5,141.6 L616.0,139.2 L614.3,137.4 L614.9,136.2 L617.2,135.6 L616.3,134.1 L612.4,133.5 L612.8,132.1 L610.0,130.5 L609.4,128.4 L611.7,128.2 L611.1,126.1 L613.6,124.6 L616.0,123.4 L617.8,125.2 L618.1,122.9 L619.1,120.9 L622.0,118.2 L618.9,118.0 L616.3,116.1 L615.1,113.5 L614.8,110.0 L614.0,107.6 L614.9,105.7 L614.6,102.1 L614.5,100.0 L616.5,98.8 L619.4,98.7 L619.8,101.0 L623.6,101.8 L625.0,99.7 L625.9,97.1 L627.2,95.0 L624.8,95.8 L622.4,95.3 L623.0,92.8 L624.5,91.0 L625.6,87.6 L627.9,86.3 L627.5,89.1 L627.8,91.1 L627.7,94.1 L630.4,94.8 L633.8,93.8 L637.9,93.6 L644.0,94.1 L645.3,95.3 L644.8,98.4 L642.0,101.2 L639.0,103.8 L634.7,104.9 L632.1,105.9 L629.2,108.4 L627.0,111.9 L624.8,115.5 L622.1,117.5 L623.1,118.5 L624.6,117.8 L622.9,120.4 L620.3,122.7 L618.5,124.3 L618.9,127.0 L620.9,126.9 L622.2,129.4 L624.4,130.1 L626.4,132.6 L628.5,132.1 L631.0,130.7 L634.9,128.7 L637.0,126.6 L640.8,125.8 L643.3,122.8 L644.3,119.6 L646.4,117.7 L648.0,118.6 L648.6,121.0 L650.6,122.7 L651.6,125.6 L653.4,129.4 M535.2,118.5 L536.7,118.6 L538.3,117.2 L539.9,116.3 L542.8,115.9 L544.6,115.2 L547.3,114.7 L549.6,113.0 L548.4,112.2 L548.2,111.1 L549.4,109.8 L549.4,108.2 L548.3,107.2 L546.3,107.5 L545.6,105.8 L544.6,104.0 L542.6,102.6 L541.6,100.5 L540.6,98.6 L538.7,98.5 L539.3,97.5 L539.9,94.8 L540.2,93.1 L537.2,93.1 L536.2,93.6 L537.7,91.1 L537.8,90.0 L536.1,90.2 L534.4,90.5 L534.0,91.8 L533.4,94.8 L533.9,97.3 L533.3,99.0 L534.3,100.9 L535.4,102.5 L536.9,102.6 L538.7,102.0 L538.1,103.5 L539.7,105.0 L539.7,107.0 L537.6,107.7 L536.5,108.6 L538.0,110.1 L537.7,111.1 L536.0,112.8 L538.1,113.1 L540.4,113.2 L539.5,114.3 L538.1,114.8 L537.1,115.5 L535.2,118.5 M534.1,111.4 L533.7,108.8 L533.4,106.9 L534.6,104.5 L533.5,102.3 L532.0,101.7 L530.5,101.8 L529.2,102.1 L528.5,104.4 L526.0,105.1 L526.2,107.4 L528.0,108.4 L527.4,110.4 L525.2,112.0 L525.6,113.7 L527.0,114.0 L529.1,113.3 L531.1,112.3 L533.3,111.5 L534.1,111.4 M509.2,72.3 L508.3,71.3 L509.8,70.6 L507.8,68.6 L509.3,67.9 L507.2,66.4 L509.2,65.3 L510.7,64.3 L512.2,66.8 L514.6,65.9 L516.3,66.4 L518.4,65.1 L520.1,66.2 L519.6,67.4 L521.2,69.4 L519.8,71.9 L518.3,72.4 L516.5,73.4 L514.6,74.3 L512.4,74.3 L510.5,72.5 L509.2,72.3 M530.1,79.8 L531.1,78.7 L530.8,81.3 L530.1,79.8 M513.2,51.4 L511.9,52.7 L512.6,54.5 L511.3,55.4 L509.9,56.3 L508.5,57.2 L507.3,57.1 L506.1,56.9 L505.0,56.7 L503.8,56.6 L502.6,56.3 L501.4,56.0 L500.3,55.7 L498.4,57.4 L496.4,59.0 L494.8,59.5 L493.1,60.0 L491.7,60.1 L490.2,60.1 L488.6,60.4 L487.0,60.6 L484.9,63.1 L482.1,65.2 L478.4,68.7 L476.1,71.1 L474.3,72.2 L473.4,70.9 L472.4,68.0 L471.4,66.7 L470.3,65.5 L470.9,60.7 L472.1,56.8 L472.3,54.1 L473.5,50.5 L474.9,46.7 L476.7,44.1 L479.5,42.2 L480.9,42.3 L482.3,42.4 L484.9,38.3 M449.5,50.7 L447.6,54.7 L445.9,58.8 L444.4,62.0 L443.1,65.3 L443.9,67.6 L444.2,71.1 L442.5,73.6 L442.6,77.3 L441.5,79.4 L438.4,79.2 L435.1,77.8 L430.7,77.7 L428.3,75.6 L426.4,73.7 L424.5,71.8 M436.6,95.0 L433.9,96.7 L433.0,94.6 L434.0,92.8 L431.3,93.1 L429.5,91.9 L430.1,89.3 L428.4,87.7 L426.8,86.1 L425.8,84.6 L429.0,84.0 L430.6,82.3 L433.5,81.5 L436.3,80.4 L440.7,80.9 L438.3,82.3 L435.9,83.7 L436.2,86.2 L438.6,89.7 L437.0,91.3 L437.3,93.4 L436.6,95.0 M420.9,87.8 L421.9,84.5 L420.2,84.6 L417.1,85.8 L416.9,87.6 L414.8,86.3 M587.3,148.6 L589.6,147.4 L592.5,146.0 L595.3,144.6 L595.5,148.4 L596.3,150.4 L593.8,150.3 L588.2,150.2 L587.3,148.6 M575.8,149.2 L577.4,148.7 L578.6,147.2 L577.8,143.0 L575.8,141.1 L573.4,143.0 L574.5,144.8 L575.8,149.2 M573.8,141.0 L575.3,140.5 L574.8,135.6 L574.1,135.1 L572.7,137.4 L573.8,141.0 M620.4,143.7 L622.8,141.9 L627.6,139.6 L624.8,142.3 L620.4,143.7 M642.4,129.7 L643.6,126.8 L646.0,123.3 L646.6,126.7 L645.0,129.4 L642.4,129.7 M559.4,151.2 L561.6,149.6 L562.2,151.3 L560.6,151.6 L559.4,151.2 M536.2,171.4 L536.9,168.8 L538.0,167.7 L539.7,167.2 L542.9,169.5 L547.0,168.7 L549.7,169.1 L551.8,166.6 L555.1,165.4 L559.0,162.1 L563.1,160.6 L565.9,160.0 L568.7,159.3 L572.6,157.2 L575.4,156.7 L578.3,156.3 L581.4,153.8 L583.2,154.7 L585.1,153.3 L585.1,155.9 L585.5,158.8 L587.4,159.7 L586.3,163.9 M481.9,155.4 L483.6,155.7 M478.7,151.3 L479.6,151.3 M475.1,150.7 L476.6,151.6 M584.6,64.1 L585.0,60.9 L587.2,60.4 L587.8,65.3 L584.6,64.1" fill="none" stroke="#333" stroke-width="0.5" stroke-linejoin="round"/>
<path d="M398.0,100.0 L398.5,100.5 L399.3,101.2 L400.2,102.1 L401.2,103.0 L402.3,104.0 L403.5,105.0 L404.7,106.0 L406.1,107.1 L407.6,108.4 L409.3,110.1 L411.2,112.3 L413.2,114.9 L415.3,117.7 L417.6,120.4 L420.0,122.7 L422.5,124.6 L425.0,126.2 L427.7,127.7 L430.7,129.2 L434.0,130.6 L437.8,132.2 L441.9,133.8 L446.3,135.3 L450.7,136.7 L455.0,137.6 L459.2,138.1 L463.4,138.2 L467.5,138.1 L471.8,137.8 L476.1,137.6 L480.6,137.3 L485.3,136.8 L490.0,136.2 L494.6,135.8 L498.8,135.8 L502.7,136.1 L506.4,136.7 L509.9,137.5 L513.2,138.4 L516.4,139.3 L519.1,140.3 L521.3,141.5 L523.5,142.8 L526.2,144.0 L530.0,145.0 L535.3,146.0 L541.8,147.1 L548.8,148.0 L555.6,148.6 L561.5,148.6 L566.6,148.0 L571.2,146.9 L575.4,145.4 L579.2,143.6 L582.6,141.6 L585.4,139.2 L587.6,136.5 L589.5,133.5 L591.3,130.5 L593.1,127.6 L595.0,124.8 L596.8,122.0 L598.5,119.1 L600.2,116.3 L601.8,113.5 L603.2,110.7 L604.4,107.9 L605.6,105.1 L607.0,102.3 L608.8,99.5 L611.3,96.6 L614.3,93.5 L617.4,90.5 L620.4,87.8 L622.9,85.5 L624.9,83.8 L626.6,82.4 L628.0,81.4 L629.1,80.6 L630.0,80.0 M414.0,82.0 L414.7,82.6 L415.8,83.3 L417.0,84.3 L418.1,85.3 L418.9,86.4 L419.3,87.5 L419.3,88.7 L419.3,90.0 L419.5,91.4 L420.0,92.9 L421.0,94.6 L422.2,96.5 L423.7,98.4 L425.3,100.5 L427.0,102.5 L428.8,104.5 L430.6,106.5 L432.6,108.6 L434.9,110.8 L437.5,113.0 L440.6,115.5 L444.0,118.3 L447.7,121.1 L451.4,123.5 L455.0,125.3 L458.5,126.3 L461.9,126.8 L465.3,127.0 L468.9,126.9 L472.6,127.0 L476.6,127.1 L480.9,127.0 L485.3,126.9 L489.6,126.9 L493.6,127.0 L497.3,127.3 L500.9,127.8 L504.3,128.3 L507.7,129.0 L511.1,129.7 L514.7,130.6 L518.4,131.7 L522.0,132.8 L525.5,133.9 L528.6,134.9 L531.2,135.8 L533.4,136.6 L535.4,137.3 L537.5,138.0 L540.0,138.5 L543.0,139.0 L546.2,139.6 L549.6,140.0 L553.0,140.1 L556.3,139.8 L559.6,139.0 L563.0,137.9 L566.2,136.5 L569.3,134.8 L572.0,132.8 L574.3,130.4 L576.3,127.6 L578.0,124.6 L579.5,121.6 L580.8,118.8 L581.8,116.2 L582.3,113.8 L582.8,111.3 L583.3,108.9 L584.3,106.5 L585.7,104.1 L587.4,101.6 L589.2,99.2 L591.1,96.7 L593.1,94.3 L595.1,91.8 L597.3,89.3 L599.5,86.8 L601.6,84.3 L603.6,82.0 L605.5,79.8 L607.2,77.6 L608.9,75.6 L610.5,73.7 L612.0,72.0 L613.4,70.4 L614.9,69.0 L616.1,67.8 L617.2,66.8 L618.0,66.0 M428.0,72.0 L428.5,72.6 L429.1,73.3 L429.9,74.2 L430.8,75.1 L432.0,75.9 L433.5,76.4 L435.4,76.8 L437.4,77.2 L439.3,77.7 L440.8,78.5 L441.9,79.5 L442.6,80.7 L443.2,82.1 L443.8,83.6 L444.4,85.3 L445.0,87.3 L445.6,89.5 L446.1,91.9 L446.9,94.3 L447.9,96.6 L449.3,98.8 L450.9,101.1 L452.7,103.3 L454.6,105.4 L456.7,107.2 L458.9,108.7 L461.1,110.1 L463.5,111.2 L466.2,112.3 L469.0,113.3 L472.2,114.3 L475.6,115.2 L479.3,116.1 L482.9,116.8 L486.5,117.6 L490.0,118.2 L493.5,118.8 L497.0,119.3 L500.5,119.9 L504.0,120.7 L507.7,121.8 L511.5,123.1 L515.2,124.5 L518.7,125.8 L521.6,127.0 L523.7,128.0 L525.0,129.0 L526.2,129.8 L527.7,130.5 L530.0,131.0 L533.5,131.4 L537.7,131.7 L542.4,131.9 L546.9,131.7 L551.0,131.1 L554.6,130.0 L558.0,128.4 L561.2,126.5 L564.2,124.4 L566.8,122.3 L569.0,120.1 L571.0,117.7 L572.6,115.2 L574.1,112.6 L575.5,110.0 L576.8,107.3 L577.9,104.4 L578.8,101.6 L579.8,98.7 L580.8,96.0 L581.9,93.4 L582.9,90.8 L584.0,88.3 L585.0,86.0 L586.1,83.8 L587.1,81.8 L588.0,80.0 L589.0,78.4 L590.0,76.7 L591.3,75.0 L592.9,73.1 L594.7,71.2 L596.5,69.2 L598.4,67.5 L600.0,66.0 L601.5,64.8 L602.9,63.8 L604.2,63.1 L605.2,62.5 L606.0,62.0 M440.0,62.0 L440.5,62.5 L441.3,63.1 L442.2,63.9 L443.2,64.7 L444.3,65.4 L445.5,66.1 L446.9,66.7 L448.4,67.3 L449.9,68.0 L451.3,68.9 L452.7,69.9 L454.2,71.0 L455.6,72.2 L457.0,73.6 L458.3,75.0 L459.4,76.6 L460.5,78.3 L461.4,80.0 L462.5,81.9 L463.6,83.8 L464.9,85.7 L466.2,87.8 L467.7,89.8 L469.1,91.9 L470.7,94.0 L472.3,96.1 L474.0,98.3 L475.7,100.5 L477.6,102.6 L479.5,104.5 L481.6,106.2 L483.7,107.7 L486.0,109.1 L488.4,110.4 L490.8,111.5 L493.4,112.4 L496.1,113.2 L498.8,113.8 L501.5,114.4 L504.0,115.0 L506.2,115.7 L508.2,116.3 L510.1,117.0 L512.2,117.7 L514.6,118.5 L517.3,119.6 L520.3,120.9 L523.5,122.2 L526.7,123.3 L530.0,124.0 L533.4,124.2 L537.0,124.2 L540.7,123.8 L544.2,123.2 L547.5,122.3 L550.6,121.0 L553.7,119.5 L556.6,117.6 L559.2,115.6 L561.5,113.5 L563.4,111.3 L565.0,109.0 L566.3,106.6 L567.4,104.0 L568.5,101.3 L569.4,98.3 L570.1,95.0 L570.7,91.6 L571.3,88.4 L572.0,85.5 L572.7,83.1 L573.4,80.9 L574.1,78.9 L574.9,77.0 L576.0,75.0 L577.3,72.9 L578.9,70.8 L580.6,68.8 L582.3,66.8 L584.0,65.0 L585.6,63.4 L587.2,61.9 L588.8,60.6 L590.4,59.3 L592.0,58.0 L593.7,56.6 L595.6,55.2 L597.4,53.9 L598.9,52.8 L600.0,52.0 M450.0,54.0 L450.3,54.4 L450.7,55.1 L451.2,55.8 L452.0,56.6 L453.1,57.5 L454.8,58.4 L456.9,59.3 L459.2,60.3 L461.5,61.5 L463.6,62.8 L465.5,64.3 L467.4,66.1 L469.1,67.9 L470.8,69.8 L472.3,71.5 L473.6,73.1 L474.7,74.5 L475.7,75.9 L476.8,77.4 L478.0,79.0 L479.5,80.7 L481.1,82.4 L482.7,84.2 L484.4,86.0 L486.0,88.0 L487.5,90.1 L489.0,92.3 L490.4,94.6 L491.9,96.9 L493.5,99.0 L495.1,101.0 L496.8,102.8 L498.5,104.7 L500.5,106.5 L502.7,108.3 L505.3,110.3 L508.3,112.3 L511.4,114.3 L514.5,116.1 L517.4,117.5 L520.0,118.5 L522.5,119.2 L524.9,119.7 L527.4,119.9 L530.0,120.0 L533.0,119.9 L536.1,119.5 L539.4,119.0 L542.4,118.3 L545.1,117.5 L547.4,116.7 L549.4,115.8 L551.2,114.7 L552.8,113.5 L554.3,112.0 L555.7,110.2 L557.0,108.1 L558.2,105.9 L559.1,103.4 L559.9,100.9 L560.4,98.1 L560.7,95.2 L560.9,92.1 L560.9,89.0 L560.8,86.1 L560.7,83.3 L560.5,80.4 L560.2,77.7 L559.7,75.3 L559.0,73.2 L558.1,71.5 L557.0,70.1 L555.8,69.0 L554.3,68.2 L552.5,67.7 L550.3,67.7 L547.7,68.2 L544.9,68.9 L542.2,69.7 L539.6,70.4 L537.4,71.0 L535.3,71.6 L533.2,72.2 L531.0,72.8 L528.5,73.2 L525.5,73.6 L522.1,73.9 L518.6,74.1 L515.2,74.2 L512.0,74.1 L509.2,73.8 L506.5,73.4 L504.0,72.8 L501.5,72.2 L499.0,71.4 L496.3,70.5 L493.6,69.6 L490.8,68.5 L488.3,67.3 L486.0,66.0 L484.0,64.6 L482.3,63.1 L480.8,61.5 L479.4,59.8 L478.0,58.0 L476.6,56.1 L475.4,54.0 L474.2,52.0 L473.0,49.9 L472.0,48.0 L471.0,46.1 L470.1,44.3 L469.2,42.5 L468.5,41.1 L468.0,40.0 M494.0,44.0 L494.4,45.1 L494.8,46.8 L495.4,48.6 L496.3,50.4 L497.5,52.0 L499.1,53.3 L500.9,54.4 L503.1,55.4 L505.4,56.4 L508.0,57.3 L510.8,58.2 L514.0,59.1 L517.4,59.9 L520.7,60.5 L523.8,60.8 L526.9,60.9 L529.9,60.7 L532.9,60.3 L535.6,59.8 L537.8,59.0 L539.5,57.9 L540.7,56.6 L541.6,55.1 L542.4,53.5 L543.1,52.0 L543.7,50.3 L544.2,48.5 L544.5,46.7 L544.8,45.1 L545.0,44.0 M521.1,100.9 L521.2,98.5 L521.7,96.1 L522.4,93.8 L523.5,91.6 L524.8,89.8 L526.5,88.2 L528.6,86.7 L531.0,85.4 L533.4,84.6 L535.9,84.3 L538.5,84.6 L541.4,85.5 L544.2,86.8 L546.8,88.3 L548.8,89.8 L550.2,91.4 L551.3,93.1 L552.0,95.0 L552.4,97.0 L552.5,99.0 L552.4,101.2 L552.0,103.6 L551.3,106.0 L550.2,108.2 L548.8,110.1 L546.8,111.7 L544.2,113.1 L541.4,114.2 L538.5,115.1 L535.9,115.6 L533.4,115.9 L531.0,115.9 L528.6,115.7 L526.5,115.0 L524.8,113.8 L523.5,111.9 L522.4,109.4 L521.7,106.5 L521.2,103.5Z M549.0,80.0 L549.3,78.2 L549.9,76.4 L550.5,74.6 L551.2,73.1 L552.0,72.0 L552.9,71.3 L554.0,70.8 L555.1,70.7 L556.1,70.9 L557.0,71.5 L557.7,72.6 L558.3,74.2 L558.9,76.1 L559.3,78.1 L559.5,80.0 L559.6,82.0 L559.5,84.2 L559.3,86.4 L559.0,88.4 L558.5,90.0 L557.8,91.2 L557.0,92.0 L556.0,92.6 L555.0,93.0 L554.0,93.0 L553.0,92.7 L552.0,92.1 L551.0,91.3 L550.1,90.2 L549.5,89.0 L549.1,87.5 L548.8,85.7 L548.8,83.8 L548.8,81.8Z" fill="none" stroke="#1e1e1e" stroke-width="0.75" stroke-linejoin="round"/>

</g>
<path d="M476.81,33.14 L478.10,34.45 L479.41,35.73 L480.76,36.96 L482.15,38.17 L483.56,39.33 L485.01,40.46 L486.49,41.54 L487.99,42.59 L489.53,43.60 L491.09,44.56 L492.67,45.48 L494.28,46.36 L495.91,47.19 L497.57,47.98 L499.24,48.73 L500.94,49.43 L502.65,50.08 L504.38,50.69 L506.13,51.25 L507.89,51.76 L509.66,52.23 L511.45,52.64 L513.24,53.01 L515.05,53.33 L516.86,53.60 L518.68,53.82 L520.51,54.00 L522.33,54.12 L524.17,54.20 L526.00,54.22 L527.83,54.20 L529.67,54.12 L531.49,54.00 L533.32,53.82 L535.14,53.60 L536.95,53.33 L538.76,53.01 L540.55,52.64 L542.34,52.23 L544.11,51.76 L545.87,51.25 L547.62,50.69 L549.35,50.08 L551.06,49.43 L552.76,48.73 L554.43,47.98 L556.09,47.19 L557.72,46.36 L559.33,45.48 L560.91,44.56 L562.47,43.60 L564.01,42.59 L565.51,41.54 L566.99,40.46 L568.44,39.33 L569.85,38.17 L571.24,36.96 L572.59,35.73 L573.90,34.45 L575.19,33.14 L659.74,113.66 L656.26,117.22 L652.67,120.69 L649.00,124.06 L645.24,127.33 L641.39,130.50 L637.45,133.56 L633.44,136.52 L629.34,139.36 L625.18,142.09 L620.93,144.71 L616.62,147.22 L612.25,149.61 L607.81,151.88 L603.31,154.02 L598.75,156.05 L594.15,157.95 L589.49,159.73 L584.78,161.38 L580.04,162.90 L575.25,164.29 L570.43,165.56 L565.57,166.69 L560.69,167.70 L555.78,168.57 L550.85,169.30 L545.90,169.91 L540.94,170.38 L535.97,170.71 L530.98,170.92 L526.00,170.98 L521.02,170.92 L516.03,170.71 L511.06,170.38 L506.10,169.91 L501.15,169.30 L496.22,168.57 L491.31,167.70 L486.43,166.69 L481.57,165.56 L476.75,164.29 L471.96,162.90 L467.22,161.38 L462.51,159.73 L457.85,157.95 L453.25,156.05 L448.69,154.02 L444.19,151.88 L439.75,149.61 L435.38,147.22 L431.07,144.71 L426.82,142.09 L422.66,139.36 L418.56,136.52 L414.55,133.56 L410.61,130.50 L406.76,127.33 L403.00,124.06 L399.33,120.69 L395.74,117.22 L392.26,113.66Z" fill="none" stroke="#444" stroke-width="0.75"/>
<text x="382.9" y="103.9" transform="rotate(43.6 382.9 103.9)" text-anchor="middle" dominant-baseline="central" font-size="11.4" letter-spacing="-0.25">35<tspan font-size="6.5" dy="-4.6">o</tspan><tspan dy="4.6">N</tspan></text>
<text x="669.1" y="103.9" transform="rotate(-43.6 669.1 103.9)" text-anchor="middle" dominant-baseline="central" font-size="11.4" letter-spacing="-0.25">35<tspan font-size="6.5" dy="-4.6">o</tspan><tspan dy="4.6">N</tspan></text>
<text x="408.4" y="79.6" transform="rotate(43.6 408.4 79.6)" text-anchor="middle" dominant-baseline="central" font-size="11.4" letter-spacing="-0.25">45<tspan font-size="6.5" dy="-4.6">o</tspan><tspan dy="4.6">N</tspan></text>
<text x="643.6" y="79.6" transform="rotate(-43.6 643.6 79.6)" text-anchor="middle" dominant-baseline="central" font-size="11.4" letter-spacing="-0.25">45<tspan font-size="6.5" dy="-4.6">o</tspan><tspan dy="4.6">N</tspan></text>
<text x="432.5" y="56.7" transform="rotate(43.6 432.5 56.7)" text-anchor="middle" dominant-baseline="central" font-size="11.4" letter-spacing="-0.25">55<tspan font-size="6.5" dy="-4.6">o</tspan><tspan dy="4.6">N</tspan></text>
<text x="619.5" y="56.7" transform="rotate(-43.6 619.5 56.7)" text-anchor="middle" dominant-baseline="central" font-size="11.4" letter-spacing="-0.25">55<tspan font-size="6.5" dy="-4.6">o</tspan><tspan dy="4.6">N</tspan></text>
<text x="455.9" y="34.4" transform="rotate(43.6 455.9 34.4)" text-anchor="middle" dominant-baseline="central" font-size="11.4" letter-spacing="-0.25">65<tspan font-size="6.5" dy="-4.6">o</tspan><tspan dy="4.6">N</tspan></text>
<text x="596.1" y="34.4" transform="rotate(-43.6 596.1 34.4)" text-anchor="middle" dominant-baseline="central" font-size="11.4" letter-spacing="-0.25">65<tspan font-size="6.5" dy="-4.6">o</tspan><tspan dy="4.6">N</tspan></text>
<text x="408.9" y="141.9" transform="rotate(37.0 408.9 141.9)" text-anchor="middle" dominant-baseline="central" font-size="11.4" letter-spacing="-0.25">50<tspan font-size="6.5" dy="-4.6">o</tspan><tspan dy="4.6">W</tspan></text>
<text x="464.3" y="170.9" transform="rotate(18.5 464.3 170.9)" text-anchor="middle" dominant-baseline="central" font-size="11.4" letter-spacing="-0.25">30<tspan font-size="6.5" dy="-4.6">o</tspan><tspan dy="4.6">W</tspan></text>
<text x="526.0" y="181.0" transform="rotate(-0.0 526.0 181.0)" text-anchor="middle" dominant-baseline="central" font-size="11.4" letter-spacing="-0.25">10<tspan font-size="6.5" dy="-4.6">o</tspan><tspan dy="4.6">W</tspan></text>
<text x="587.7" y="170.9" transform="rotate(-18.5 587.7 170.9)" text-anchor="middle" dominant-baseline="central" font-size="11.4" letter-spacing="-0.25">10<tspan font-size="6.5" dy="-4.6">o</tspan><tspan dy="4.6">E</tspan></text>
<text x="643.1" y="141.9" transform="rotate(-37.0 643.1 141.9)" text-anchor="middle" dominant-baseline="central" font-size="11.4" letter-spacing="-0.25">30<tspan font-size="6.5" dy="-4.6">o</tspan><tspan dy="4.6">E</tspan></text>
<clipPath id="clipc"><path d="M108.18,274.73 L109.46,276.04 L110.77,277.31 L112.12,278.54 L113.49,279.74 L114.90,280.90 L116.34,282.02 L117.81,283.10 L119.31,284.14 L120.84,285.14 L122.39,286.10 L123.97,287.02 L125.57,287.89 L127.20,288.72 L128.84,289.51 L130.51,290.25 L132.20,290.95 L133.90,291.60 L135.63,292.20 L137.37,292.76 L139.12,293.27 L140.88,293.73 L142.66,294.15 L144.45,294.52 L146.25,294.83 L148.05,295.10 L149.86,295.32 L151.68,295.50 L153.50,295.62 L155.32,295.69 L157.15,295.72 L158.98,295.69 L160.80,295.62 L162.62,295.50 L164.44,295.32 L166.25,295.10 L168.05,294.83 L169.85,294.52 L171.64,294.15 L173.42,293.73 L175.18,293.27 L176.93,292.76 L178.67,292.20 L180.40,291.60 L182.10,290.95 L183.79,290.25 L185.46,289.51 L187.10,288.72 L188.73,287.89 L190.33,287.02 L191.91,286.10 L193.46,285.14 L194.99,284.14 L196.49,283.10 L197.96,282.02 L199.40,280.90 L200.81,279.74 L202.18,278.54 L203.53,277.31 L204.84,276.04 L206.12,274.73 L290.30,354.90 L286.83,358.44 L283.26,361.90 L279.60,365.25 L275.86,368.51 L272.03,371.66 L268.11,374.71 L264.11,377.65 L260.04,380.48 L255.89,383.20 L251.66,385.81 L247.37,388.30 L243.01,390.68 L238.59,392.94 L234.12,395.08 L229.58,397.09 L224.99,398.99 L220.36,400.76 L215.67,402.40 L210.95,403.92 L206.18,405.30 L201.38,406.56 L196.55,407.69 L191.69,408.69 L186.80,409.56 L181.89,410.29 L176.96,410.89 L172.02,411.36 L167.07,411.69 L162.11,411.90 L157.15,411.96 L152.19,411.90 L147.23,411.69 L142.28,411.36 L137.34,410.89 L132.41,410.29 L127.50,409.56 L122.61,408.69 L117.75,407.69 L112.92,406.56 L108.12,405.30 L103.35,403.92 L98.63,402.40 L93.94,400.76 L89.31,398.99 L84.72,397.09 L80.18,395.08 L75.71,392.94 L71.29,390.68 L66.93,388.30 L62.64,385.81 L58.41,383.20 L54.26,380.48 L50.19,377.65 L46.19,374.71 L42.27,371.66 L38.44,368.51 L34.70,365.25 L31.04,361.90 L27.47,358.44 L24.00,354.90Z"/></clipPath>
<g clip-path="url(#clipc)">
<path d="M108.18,274.73 L109.46,276.04 L110.77,277.31 L112.12,278.54 L113.49,279.74 L114.90,280.90 L116.34,282.02 L117.81,283.10 L119.31,284.14 L120.84,285.14 L122.39,286.10 L123.97,287.02 L125.57,287.89 L127.20,288.72 L128.84,289.51 L130.51,290.25 L132.20,290.95 L133.90,291.60 L135.63,292.20 L137.37,292.76 L139.12,293.27 L140.88,293.73 L142.66,294.15 L144.45,294.52 L146.25,294.83 L148.05,295.10 L149.86,295.32 L151.68,295.50 L153.50,295.62 L155.32,295.69 L157.15,295.72 L158.98,295.69 L160.80,295.62 L162.62,295.50 L164.44,295.32 L166.25,295.10 L168.05,294.83 L169.85,294.52 L171.64,294.15 L173.42,293.73 L175.18,293.27 L176.93,292.76 L178.67,292.20 L180.40,291.60 L182.10,290.95 L183.79,290.25 L185.46,289.51 L187.10,288.72 L188.73,287.89 L190.33,287.02 L191.91,286.10 L193.46,285.14 L194.99,284.14 L196.49,283.10 L197.96,282.02 L199.40,280.90 L200.81,279.74 L202.18,278.54 L203.53,277.31 L204.84,276.04 L206.12,274.73 L290.30,354.90 L286.83,358.44 L283.26,361.90 L279.60,365.25 L275.86,368.51 L272.03,371.66 L268.11,374.71 L264.11,377.65 L260.04,380.48 L255.89,383.20 L251.66,385.81 L247.37,388.30 L243.01,390.68 L238.59,392.94 L234.12,395.08 L229.58,397.09 L224.99,398.99 L220.36,400.76 L215.67,402.40 L210.95,403.92 L206.18,405.30 L201.38,406.56 L196.55,407.69 L191.69,408.69 L186.80,409.56 L181.89,410.29 L176.96,410.89 L172.02,411.36 L167.07,411.69 L162.11,411.90 L157.15,411.96 L152.19,411.90 L147.23,411.69 L142.28,411.36 L137.34,410.89 L132.41,410.29 L127.50,409.56 L122.61,408.69 L117.75,407.69 L112.92,406.56 L108.12,405.30 L103.35,403.92 L98.63,402.40 L93.94,400.76 L89.31,398.99 L84.72,397.09 L80.18,395.08 L75.71,392.94 L71.29,390.68 L66.93,388.30 L62.64,385.81 L58.41,383.20 L54.26,380.48 L50.19,377.65 L46.19,374.71 L42.27,371.66 L38.44,368.51 L34.70,365.25 L31.04,361.90 L27.47,358.44 L24.00,354.90Z" fill="#e5e5d9"/>
<path d="M40.0,320.0 L41.8,317.3 L44.6,314.6 L48.2,311.9 L52.1,309.4 L56.1,307.1 L60.0,305.0 L64.0,303.0 L68.5,301.1 L73.2,299.3 L77.6,297.8 L81.5,296.7 L84.5,296.0 L86.7,295.8 L88.2,295.9 L89.3,296.3 L89.9,297.1 L90.1,298.4 L90.0,300.0 L89.4,302.1 L88.2,304.8 L86.6,307.9 L84.9,311.2 L83.3,314.6 L82.0,318.0 L81.1,321.6 L80.5,325.4 L80.0,329.4 L79.5,333.3 L78.9,336.9 L78.0,340.0 L77.0,342.8 L75.9,345.3 L74.7,347.6 L73.3,349.6 L71.8,351.0 L70.0,352.0 L67.8,352.3 L65.3,352.1 L62.6,351.4 L59.9,350.4 L57.3,349.2 L55.0,348.0 L53.0,346.8 L51.1,345.4 L49.4,343.9 L47.8,342.1 L46.3,340.2 L45.0,338.0 L43.6,335.4 L42.0,332.5 L40.6,329.3 L39.6,326.1 L39.3,322.9Z" fill="#f5e6de"/>
<path d="M40.0,392.0 L43.0,388.9 L45.6,387.1 L48.2,386.1 L51.1,385.6 L54.6,385.3 L59.0,385.0 L64.7,384.7 L71.3,384.7 L78.6,385.0 L86.1,385.4 L93.4,385.7 L100.0,386.0 L106.1,386.1 L111.9,386.2 L117.5,386.3 L122.9,386.4 L128.0,386.7 L132.7,387.0 L137.0,387.5 L140.9,388.1 L144.5,388.8 L148.0,389.5 L151.3,390.2 L154.8,391.0 L158.2,391.8 L161.5,392.6 L164.7,393.5 L168.0,394.4 L171.4,395.2 L175.0,396.0 L178.9,396.5 L183.2,396.6 L187.5,396.8 L191.9,397.1 L196.1,398.1 L200.0,400.0 L206.2,403.2 L215.2,407.5 L224.1,412.4 L229.8,417.4 L229.5,421.7 L220.0,425.0 L196.9,427.5 L161.5,429.7 L120.0,431.4 L78.5,432.3 L43.1,431.9 L20.0,430.0 L10.6,425.8 L10.4,419.4 L16.3,411.8 L25.3,404.0 L34.2,397.0Z" fill="#f5e6de"/>
<path d="M208.0,286.0 L208.4,285.4 L209.3,284.9 L210.4,284.4 L211.7,284.1 L213.0,284.0 L214.0,284.0 L214.9,284.3 L215.8,284.9 L216.7,285.7 L217.4,286.5 L217.9,287.3 L218.0,288.0 L217.7,288.7 L217.0,289.4 L216.1,290.1 L215.0,290.6 L213.9,291.0 L213.0,291.0 L212.0,290.6 L210.9,289.8 L209.8,288.8 L208.9,287.7 L208.2,286.8Z" fill="#f5e6de"/>
<path d="M50.0,327.0 L50.4,326.1 L51.1,325.1 L52.2,324.1 L53.5,323.2 L54.8,322.4 L56.0,322.0 L57.2,321.9 L58.6,322.0 L59.9,322.3 L61.2,322.8 L62.3,323.4 L63.0,324.0 L63.4,324.8 L63.5,325.9 L63.4,327.1 L63.1,328.2 L62.6,329.2 L62.0,330.0 L61.2,330.5 L60.0,330.9 L58.8,331.1 L57.4,331.2 L56.1,331.2 L55.0,331.0 L53.9,330.6 L52.8,330.1 L51.7,329.4 L50.8,328.6 L50.2,327.8Z" fill="#ecc5b0"/>
<path d="M84.0,300.0 L85.5,297.0 L87.1,295.1 L88.9,293.8 L90.8,293.1 L92.9,292.6 L95.0,292.0 L97.3,291.6 L100.0,291.7 L102.7,291.9 L105.4,292.2 L107.9,292.3 L110.0,292.0 L111.6,291.3 L112.7,290.5 L113.6,289.4 L114.6,288.2 L115.9,286.7 L118.0,285.0 L120.6,282.8 L123.4,280.0 L126.7,277.1 L130.4,274.2 L134.8,271.7 L140.0,270.0 L146.7,268.8 L154.9,267.9 L163.7,267.4 L172.3,267.4 L179.7,268.3 L185.0,270.0 L187.8,273.2 L188.6,277.8 L188.2,283.1 L187.5,288.6 L187.2,293.4 L188.0,297.0 L190.1,299.2 L192.7,300.6 L195.8,301.3 L199.0,301.8 L202.2,302.2 L205.0,303.0 L207.5,304.1 L209.9,305.2 L212.2,306.4 L214.5,307.4 L216.9,308.3 L219.3,309.0 L221.8,309.2 L224.3,309.1 L226.9,308.8 L229.5,308.5 L232.2,308.5 L234.9,309.0 L237.8,310.1 L240.8,311.5 L243.9,313.3 L247.0,315.2 L249.9,317.1 L252.5,318.8 L254.9,320.5 L257.1,322.2 L259.2,323.9 L261.1,325.6 L262.8,327.1 L264.2,328.5 L265.7,329.8 L267.2,331.0 L268.5,332.1 L269.3,333.0 L269.3,333.8 L268.0,334.4 L265.0,334.6 L260.3,334.3 L254.8,333.9 L249.1,333.6 L244.2,333.7 L240.7,334.4 L238.7,335.9 L237.7,338.1 L237.4,340.6 L237.5,343.3 L237.8,345.9 L238.0,348.1 L238.4,349.9 L239.1,351.4 L240.1,352.8 L241.0,354.3 L241.7,355.9 L242.0,357.7 L241.9,359.9 L241.5,362.3 L240.9,364.8 L240.2,367.4 L239.2,370.0 L238.0,372.4 L236.6,374.8 L235.1,377.1 L233.4,379.5 L231.4,381.7 L229.3,383.7 L226.9,385.4 L224.2,386.8 L221.2,388.0 L218.1,389.0 L214.8,389.8 L211.6,390.4 L208.5,390.9 L205.6,391.2 L202.8,391.4 L200.0,391.4 L197.2,391.2 L194.5,391.1 L191.7,390.9 L189.0,390.7 L186.3,390.5 L183.6,390.3 L180.9,390.0 L178.1,389.5 L175.1,389.0 L172.0,388.3 L168.7,387.5 L165.3,386.6 L161.8,385.6 L158.3,384.6 L154.8,383.5 L151.3,382.3 L147.7,380.8 L144.0,379.3 L140.3,377.9 L136.6,376.7 L132.7,376.0 L128.7,375.8 L124.4,376.1 L120.1,376.6 L115.9,377.2 L111.8,377.7 L107.9,378.0 L104.3,378.1 L100.9,378.0 L97.7,377.9 L94.6,377.7 L91.5,377.4 L88.4,377.0 L85.3,376.4 L82.2,375.7 L79.1,374.9 L76.2,374.0 L73.4,373.1 L70.8,372.0 L68.4,370.8 L66.1,369.4 L63.9,368.0 L62.0,366.5 L60.3,365.2 L59.0,364.0 L57.9,363.1 L56.8,362.4 L56.1,361.8 L55.8,361.1 L56.1,360.3 L57.1,359.2 L59.3,357.8 L62.7,356.1 L66.6,354.3 L70.6,352.4 L74.1,350.4 L76.6,348.4 L77.9,346.5 L78.4,344.9 L78.5,343.1 L78.3,341.0 L78.3,338.3 L78.6,334.8 L79.2,329.9 L79.9,323.8 L80.7,317.1 L81.7,310.4 L82.7,304.5Z" fill="#b9d5ba"/>
<path d="M225.0,307.0 L226.1,306.3 L227.9,305.9 L229.9,305.8 L231.9,305.9 L233.7,306.3 L235.0,307.0 L235.8,308.2 L236.4,310.0 L236.8,312.0 L236.8,314.0 L236.6,315.8 L236.0,317.0 L234.9,317.7 L233.1,318.1 L231.1,318.2 L229.1,318.1 L227.3,317.7 L226.0,317.0 L225.2,315.8 L224.6,314.0 L224.2,312.0 L224.2,310.0 L224.4,308.2Z" fill="#e5e5d9"/>
<path d="M92.3,311.0 L93.4,309.3 L94.3,308.0 L95.2,307.0 L96.1,306.2 L97.0,305.6 L98.0,305.0 L99.0,304.5 L99.9,304.3 L100.9,304.2 L102.0,304.2 L103.3,304.1 L105.0,304.0 L107.0,303.7 L109.3,303.4 L111.8,303.1 L114.5,302.8 L117.4,302.6 L120.6,302.5 L124.1,302.6 L128.0,302.8 L132.1,303.1 L136.2,303.4 L140.2,303.7 L144.0,304.0 L147.5,304.3 L150.8,304.6 L154.0,304.9 L157.2,305.2 L160.4,305.4 L163.6,305.5 L166.9,305.3 L170.3,304.9 L173.7,304.4 L177.0,304.0 L180.2,303.8 L183.1,304.0 L185.8,304.7 L188.3,305.8 L190.7,307.2 L192.9,308.6 L194.9,309.9 L196.8,311.0 L198.5,311.8 L199.9,312.5 L201.2,313.1 L202.5,313.7 L203.7,314.3 L205.0,315.0 L206.3,315.8 L207.5,316.8 L208.7,317.7 L210.1,318.7 L211.6,319.7 L213.4,320.7 L215.7,321.6 L218.5,322.4 L221.5,323.3 L224.4,324.2 L227.0,325.3 L229.0,326.6 L230.4,328.2 L231.4,330.1 L232.1,332.2 L232.5,334.3 L232.7,336.4 L232.9,338.3 L232.9,340.0 L232.6,341.5 L232.2,343.0 L231.7,344.5 L231.1,346.3 L230.6,348.5 L230.1,351.1 L229.7,354.2 L229.2,357.4 L228.6,360.7 L227.9,363.9 L226.9,366.9 L225.9,369.7 L224.9,372.5 L223.8,375.2 L222.3,377.7 L220.4,379.9 L217.7,381.7 L214.1,383.0 L209.6,384.0 L204.5,384.7 L199.4,385.1 L194.4,385.3 L190.0,385.4 L186.2,385.2 L182.6,384.8 L179.2,384.1 L176.0,383.3 L172.8,382.5 L169.6,381.7 L166.4,380.9 L163.3,380.1 L160.2,379.2 L157.2,378.3 L154.2,377.3 L151.1,376.1 L148.1,374.7 L145.1,372.9 L142.2,371.1 L139.1,369.3 L136.0,367.9 L132.7,366.9 L129.0,366.5 L124.9,366.5 L120.7,366.7 L116.6,367.2 L113.0,367.6 L110.0,368.0 L107.9,368.3 L106.6,368.7 L105.7,369.1 L104.8,369.5 L103.7,369.8 L102.0,370.0 L99.5,370.2 L96.4,370.5 L93.1,370.7 L89.8,370.7 L86.9,370.5 L84.5,369.9 L82.7,368.9 L81.2,367.6 L80.1,366.0 L79.3,364.2 L78.8,362.3 L78.6,360.2 L79.0,357.9 L79.9,355.4 L81.2,352.7 L82.5,350.0 L83.7,347.2 L84.5,344.5 L84.8,341.9 L84.6,339.3 L84.4,336.7 L84.1,334.0 L84.1,331.4 L84.5,328.6 L85.4,325.6 L86.6,322.4 L88.0,319.2 L89.6,316.1 L91.0,313.3Z" fill="#8cbf9e"/>
<path d="M104.0,290.0 L104.7,289.2 L105.6,288.4 L106.8,287.7 L107.9,287.2 L109.0,286.9 L110.0,287.0 L110.9,287.5 L111.8,288.4 L112.6,289.5 L113.3,290.7 L113.8,292.0 L114.0,293.0 L113.8,294.0 L113.3,295.0 L112.6,295.9 L111.8,296.8 L110.9,297.5 L110.0,298.0 L109.0,298.2 L107.9,298.3 L106.8,298.2 L105.6,298.0 L104.7,297.6 L104.0,297.0 L103.6,296.1 L103.3,295.0 L103.2,293.6 L103.3,292.3 L103.6,291.0Z" fill="#8cbf9e"/>
<path d="M105.9,303.2 L107.3,303.1 L108.9,304.2 L110.6,305.9 L112.4,307.8 L114.4,309.7 L116.7,311.0 L119.1,311.8 L121.6,312.5 L124.3,313.1 L127.3,313.5 L130.6,313.8 L134.3,314.0 L138.6,313.9 L143.6,313.6 L148.8,313.1 L154.1,312.6 L159.1,312.2 L163.6,312.0 L167.5,312.0 L171.0,312.1 L174.3,312.4 L177.4,312.7 L180.3,313.3 L183.1,314.0 L185.8,315.0 L188.3,316.4 L190.6,318.0 L192.8,319.5 L194.9,320.9 L196.8,322.0 L198.5,322.7 L199.9,323.0 L201.2,323.2 L202.5,323.4 L203.9,323.8 L205.6,324.6 L207.7,325.8 L210.2,327.2 L212.8,328.8 L215.4,330.6 L217.6,332.5 L219.3,334.4 L220.5,336.4 L221.3,338.5 L221.8,340.7 L222.0,343.0 L222.1,345.5 L222.0,348.1 L221.7,351.0 L221.3,354.3 L220.6,357.7 L219.8,361.0 L218.8,364.2 L217.7,366.9 L216.6,369.3 L215.3,371.4 L214.0,373.4 L212.4,375.1 L210.6,376.7 L208.5,378.0 L206.0,379.2 L203.3,380.1 L200.3,380.9 L197.1,381.4 L193.6,381.7 L190.0,381.7 L186.1,381.3 L181.7,380.5 L177.2,379.5 L172.7,378.3 L168.2,377.1 L164.0,376.1 L160.0,375.3 L156.2,374.5 L152.5,373.8 L148.8,373.0 L145.3,371.9 L141.9,370.6 L138.6,368.8 L135.3,366.7 L132.2,364.4 L129.1,362.0 L126.3,359.7 L123.5,357.7 L120.9,356.0 L118.4,354.4 L116.0,353.0 L113.8,351.6 L111.7,350.1 L109.8,348.4 L108.1,346.6 L106.5,344.6 L105.2,342.6 L103.9,340.5 L102.9,338.3 L102.0,336.0 L101.3,333.6 L100.6,331.0 L100.2,328.3 L99.9,325.5 L99.9,322.8 L100.1,320.0 L100.6,317.0 L101.3,313.5 L102.2,310.1 L103.3,307.0 L104.6,304.6Z" fill="#5ba689"/>
<path d="M110.0,312.0 L111.7,310.9 L114.0,310.3 L116.8,310.1 L119.6,310.2 L122.3,310.5 L124.5,311.0 L126.3,311.7 L128.0,312.8 L129.4,314.1 L130.7,315.6 L131.6,317.2 L132.3,318.8 L132.7,320.6 L132.7,322.8 L132.6,325.0 L132.1,327.1 L131.4,329.0 L130.4,330.5 L129.0,331.5 L127.1,332.3 L125.0,332.9 L122.7,333.1 L120.6,333.2 L118.7,333.0 L117.0,332.6 L115.3,332.0 L113.6,331.1 L112.1,330.0 L110.9,328.6 L110.0,327.0 L109.3,324.9 L108.8,322.1 L108.5,319.2 L108.6,316.3 L109.1,313.8Z" fill="#2f8e7e"/>
<path d="M140.0,332.0 L140.5,329.5 L141.6,327.6 L142.9,326.2 L144.6,325.0 L146.3,324.0 L148.0,323.0 L149.8,322.0 L151.7,321.1 L153.7,320.3 L155.7,319.6 L157.9,319.0 L160.0,318.5 L162.1,318.0 L164.2,317.6 L166.4,317.3 L168.6,317.0 L170.9,316.9 L173.4,316.9 L176.2,317.0 L179.3,317.3 L182.5,317.7 L185.6,318.2 L188.5,318.8 L191.0,319.5 L193.0,320.3 L194.7,321.3 L196.1,322.4 L197.4,323.5 L198.7,324.8 L200.0,326.0 L201.4,327.2 L202.8,328.5 L204.2,329.8 L205.5,331.1 L206.6,332.7 L207.6,334.4 L208.4,336.3 L209.2,338.4 L209.8,340.6 L210.3,343.0 L210.5,345.5 L210.5,348.1 L210.2,351.1 L209.8,354.4 L209.1,357.9 L208.2,361.3 L207.2,364.4 L206.0,366.9 L204.6,368.8 L203.0,370.4 L201.2,371.6 L199.4,372.6 L197.6,373.3 L196.0,374.0 L194.7,374.5 L193.6,374.7 L192.5,374.7 L191.4,374.6 L189.9,374.5 L188.0,374.3 L185.5,374.1 L182.5,373.9 L179.2,373.6 L175.8,373.3 L172.6,372.9 L169.6,372.4 L166.9,371.9 L164.3,371.3 L161.8,370.7 L159.4,370.0 L157.1,369.1 L155.0,368.0 L153.0,366.8 L151.1,365.7 L149.4,364.4 L147.8,362.7 L146.3,360.7 L145.0,358.0 L143.7,354.4 L142.5,349.9 L141.4,344.9 L140.5,340.0 L140.0,335.5Z" fill="#2f8e7e"/>
<path d="M138.2,341.1 L138.8,339.2 L140.0,337.7 L141.7,336.4 L143.7,335.2 L145.8,333.9 L148.0,332.5 L150.2,330.8 L152.6,329.0 L155.2,327.1 L157.9,325.3 L160.7,323.8 L163.6,322.7 L166.7,322.0 L170.2,321.6 L173.7,321.5 L177.2,321.6 L180.4,322.0 L183.1,322.7 L185.3,323.7 L187.3,325.0 L188.9,326.6 L190.3,328.4 L191.7,330.4 L192.9,332.5 L194.2,334.7 L195.4,337.2 L196.5,339.8 L197.3,342.6 L197.9,345.4 L198.0,348.1 L197.7,351.0 L197.0,354.2 L196.0,357.4 L194.7,360.4 L193.3,363.0 L191.7,365.1 L190.0,366.5 L188.1,367.5 L186.0,368.1 L183.8,368.4 L181.3,368.6 L178.8,368.7 L176.0,368.8 L172.9,368.8 L169.7,368.6 L166.5,368.2 L163.3,367.7 L160.4,366.9 L157.6,365.9 L154.9,364.7 L152.3,363.2 L149.9,361.6 L147.6,359.7 L145.6,357.7 L143.7,355.3 L141.9,352.4 L140.4,349.4 L139.1,346.3 L138.4,343.5Z" fill="#1e746f"/>
<path d="M151.8,338.9 L153.3,337.3 L155.0,335.7 L157.0,334.2 L159.0,333.0 L161.2,331.9 L163.5,331.1 L166.0,330.5 L168.7,330.2 L171.6,330.0 L174.4,330.1 L177.0,330.4 L179.2,331.1 L181.0,332.2 L182.6,333.6 L183.9,335.4 L185.1,337.2 L186.1,339.1 L187.0,340.9 L187.8,342.6 L188.6,344.2 L189.2,345.9 L189.6,347.6 L189.8,349.3 L189.7,351.0 L189.3,352.9 L188.7,354.9 L187.9,356.9 L186.9,358.8 L185.6,360.6 L184.2,362.0 L182.5,363.1 L180.6,364.0 L178.4,364.8 L176.1,365.3 L173.7,365.6 L171.3,365.7 L168.6,365.6 L165.7,365.3 L162.7,364.8 L159.7,364.0 L157.0,363.1 L154.7,362.0 L152.8,360.6 L151.1,358.9 L149.7,357.0 L148.5,355.0 L147.7,353.0 L147.3,351.0 L147.3,349.0 L147.7,346.9 L148.4,344.8 L149.3,342.7 L150.5,340.7Z" fill="#1f5a69"/>
<path d="M156.7,339.4 L158.1,338.2 L159.7,336.9 L161.3,335.8 L163.1,334.8 L164.8,334.0 L166.5,333.5 L168.2,333.3 L169.9,333.3 L171.6,333.5 L173.3,334.0 L174.8,334.6 L176.2,335.5 L177.5,336.7 L178.7,338.2 L179.9,339.9 L180.9,341.7 L181.6,343.6 L182.1,345.3 L182.3,347.0 L182.4,348.7 L182.2,350.5 L181.8,352.1 L181.1,353.7 L180.1,355.1 L178.7,356.4 L177.0,357.6 L174.9,358.7 L172.7,359.7 L170.5,360.4 L168.4,360.7 L166.2,360.7 L163.9,360.4 L161.5,359.8 L159.2,359.0 L157.2,358.0 L155.5,357.0 L154.1,355.8 L153.0,354.4 L152.1,352.8 L151.4,351.2 L151.1,349.5 L151.0,348.0 L151.3,346.5 L152.0,345.0 L153.0,343.5 L154.1,342.1 L155.4,340.7Z" fill="#1e3e5a"/>
<pattern id="dotc" patternUnits="userSpaceOnUse" width="9.2" height="9.1" x="0.5" y="0.5"><rect x="0" y="0" width="0.85" height="1.1" fill="#fff" fill-opacity="0.55"/><rect x="4.6" y="4.55" width="0.85" height="1.1" fill="#fff" fill-opacity="0.55"/></pattern>
<path d="M84.0,300.0 L85.5,297.0 L87.1,295.1 L88.9,293.8 L90.8,293.1 L92.9,292.6 L95.0,292.0 L97.3,291.6 L100.0,291.7 L102.7,291.9 L105.4,292.2 L107.9,292.3 L110.0,292.0 L111.6,291.3 L112.7,290.5 L113.6,289.4 L114.6,288.2 L115.9,286.7 L118.0,285.0 L120.6,282.8 L123.4,280.0 L126.7,277.1 L130.4,274.2 L134.8,271.7 L140.0,270.0 L146.7,268.8 L154.9,267.9 L163.7,267.4 L172.3,267.4 L179.7,268.3 L185.0,270.0 L187.8,273.2 L188.6,277.8 L188.2,283.1 L187.5,288.6 L187.2,293.4 L188.0,297.0 L190.1,299.2 L192.7,300.6 L195.8,301.3 L199.0,301.8 L202.2,302.2 L205.0,303.0 L207.5,304.1 L209.9,305.2 L212.2,306.4 L214.5,307.4 L216.9,308.3 L219.3,309.0 L221.8,309.2 L224.3,309.1 L226.9,308.8 L229.5,308.5 L232.2,308.5 L234.9,309.0 L237.8,310.1 L240.8,311.5 L243.9,313.3 L247.0,315.2 L249.9,317.1 L252.5,318.8 L254.9,320.5 L257.1,322.2 L259.2,323.9 L261.1,325.6 L262.8,327.1 L264.2,328.5 L265.7,329.8 L267.2,331.0 L268.5,332.1 L269.3,333.0 L269.3,333.8 L268.0,334.4 L265.0,334.6 L260.3,334.3 L254.8,333.9 L249.1,333.6 L244.2,333.7 L240.7,334.4 L238.7,335.9 L237.7,338.1 L237.4,340.6 L237.5,343.3 L237.8,345.9 L238.0,348.1 L238.4,349.9 L239.1,351.4 L240.1,352.8 L241.0,354.3 L241.7,355.9 L242.0,357.7 L241.9,359.9 L241.5,362.3 L240.9,364.8 L240.2,367.4 L239.2,370.0 L238.0,372.4 L236.6,374.8 L235.1,377.1 L233.4,379.5 L231.4,381.7 L229.3,383.7 L226.9,385.4 L224.2,386.8 L221.2,388.0 L218.1,389.0 L214.8,389.8 L211.6,390.4 L208.5,390.9 L205.6,391.2 L202.8,391.4 L200.0,391.4 L197.2,391.2 L194.5,391.1 L191.7,390.9 L189.0,390.7 L186.3,390.5 L183.6,390.3 L180.9,390.0 L178.1,389.5 L175.1,389.0 L172.0,388.3 L168.7,387.5 L165.3,386.6 L161.8,385.6 L158.3,384.6 L154.8,383.5 L151.3,382.3 L147.7,380.8 L144.0,379.3 L140.3,377.9 L136.6,376.7 L132.7,376.0 L128.7,375.8 L124.4,376.1 L120.1,376.6 L115.9,377.2 L111.8,377.7 L107.9,378.0 L104.3,378.1 L100.9,378.0 L97.7,377.9 L94.6,377.7 L91.5,377.4 L88.4,377.0 L85.3,376.4 L82.2,375.7 L79.1,374.9 L76.2,374.0 L73.4,373.1 L70.8,372.0 L68.4,370.8 L66.1,369.4 L63.9,368.0 L62.0,366.5 L60.3,365.2 L59.0,364.0 L57.9,363.1 L56.8,362.4 L56.1,361.8 L55.8,361.1 L56.1,360.3 L57.1,359.2 L59.3,357.8 L62.7,356.1 L66.6,354.3 L70.6,352.4 L74.1,350.4 L76.6,348.4 L77.9,346.5 L78.4,344.9 L78.5,343.1 L78.3,341.0 L78.3,338.3 L78.6,334.8 L79.2,329.9 L79.9,323.8 L80.7,317.1 L81.7,310.4 L82.7,304.5Z" fill="url(#dotc)"/>
<path d="M217.9,279.3 L216.8,280.5 L215.8,281.7 L215.0,283.0 L214.0,284.2 L213.1,285.3 L212.0,286.1 L210.9,286.8 L209.8,287.5 L208.3,287.6 L206.7,287.7 L205.7,287.7 L208.2,288.5 L212.2,291.0 L213.5,292.0 L216.1,291.3 L217.8,290.1 L217.9,287.3 L219.1,286.5 L216.2,282.6 L217.1,280.9 L217.9,279.3 M211.6,278.7 L209.6,278.4 L208.4,278.9 L207.2,279.3 L206.0,279.7 L204.8,280.1 L203.7,280.6 L202.7,281.1 L201.6,281.6 L200.3,281.8 L199.1,282.0 L197.5,281.7 L196.0,281.5 M191.6,282.5 L191.1,283.6 L190.5,284.7 L189.9,285.8 L189.3,286.9 L188.5,287.8 L187.7,288.6 L186.9,289.5 L186.3,290.7 L185.6,291.9 L185.6,294.7 L185.1,298.3 L186.3,299.6 L185.7,303.2 L186.0,305.8 L185.2,308.5 L184.8,311.0 L183.9,312.6 L182.2,314.5 L180.6,316.9 L179.5,318.8 L180.2,321.6 L181.2,324.7 L182.3,326.7 L183.0,328.6 L184.9,330.0 L186.7,329.9 L188.0,328.5 L188.9,325.8 L190.0,323.8 L190.6,324.6 L191.5,324.6 L193.3,326.7 L194.2,328.1 L196.5,331.3 L198.2,334.2 L199.0,334.6 L200.7,333.9 L200.4,331.9 L202.6,330.6 L202.8,328.7 L201.7,326.0 L201.1,323.8 L201.4,321.2 L202.3,319.3 L202.2,317.2 L198.5,316.2 L197.4,313.2 L196.7,310.6 L197.1,307.6 L198.2,305.3 L198.5,303.3 L197.8,301.1 L197.5,298.4 L199.6,297.1 L202.3,298.4 L202.7,300.0 L202.4,302.1 L201.5,304.9 L200.8,307.1 L203.2,310.9 L204.2,312.5 L207.0,314.3 L208.7,312.5 L209.9,311.4 L211.0,310.3 L212.3,309.2 L213.5,308.2 L216.9,307.7 L215.4,309.6 L215.3,310.8 L214.0,311.8 L212.6,312.7 L210.3,314.5 L209.7,315.7 L210.5,317.0 L212.2,317.5 L213.3,318.7 L214.2,320.5 L213.3,321.7 L211.0,320.9 L209.8,322.3 L210.1,324.3 L211.1,326.8 L212.6,328.9 L211.9,330.4 L211.2,332.6 L209.5,333.4 L208.6,332.4 L206.4,333.9 L205.3,336.1 L202.5,338.4 L201.4,337.8 L198.9,338.1 L197.5,339.7 L196.3,340.4 L195.9,338.8 L194.0,338.4 L192.8,336.5 L193.3,334.6 L193.9,333.0 L192.4,331.8 L192.0,329.2 L190.9,330.2 L189.3,332.1 L189.0,334.2 L189.9,337.0 L191.2,338.3 L192.4,340.7 L192.6,342.0 L190.1,343.8 L188.3,344.6 L186.3,346.1 L186.0,347.5 L185.6,350.3 L184.6,352.2 L182.9,354.0 L181.2,355.0 L181.6,357.2 L178.9,359.4 L178.7,360.4 L176.5,360.8 L175.8,359.9 L174.5,360.1 L175.5,362.9 L173.0,363.9 L171.4,363.4 L168.9,365.0 L169.9,366.3 L169.7,367.0 L173.0,367.6 L174.9,368.8 L175.9,370.7 L177.7,371.8 L178.1,374.5 L178.3,377.2 L178.2,380.6 L175.8,381.6 L172.1,381.7 L167.5,381.4 L163.3,381.3 L161.6,382.4 L158.9,383.4 L159.9,385.8 L160.2,387.9 L160.6,391.4 L159.9,395.6 L158.5,398.4 L159.4,399.8 L160.5,400.8 L160.3,404.7 L163.1,404.7 L164.5,403.9 L167.1,404.9 L168.1,406.6 L169.9,407.9 L171.0,406.7 L173.2,405.1 L177.2,404.5 L179.4,404.4 L180.6,402.1 L183.2,400.7 L183.4,398.1 L185.0,396.1 L183.4,394.2 L183.8,392.0 L185.6,388.2 L188.7,386.2 L190.8,383.6 L189.6,380.7 L191.6,378.2 L194.1,377.9 L198.0,378.0 L199.7,375.0 L201.8,372.6 L204.0,372.3 L206.0,372.7 L207.7,375.4 L210.0,376.7 L212.6,377.6 L215.8,379.0 L218.7,379.0 L221.7,380.0 L223.8,380.2 L225.3,382.3 L226.9,383.9 L226.9,386.6 L228.0,386.4 L228.6,384.2 L229.2,381.6 L226.8,380.4 L226.5,377.1 L229.1,377.0 L230.7,376.6 L228.6,375.3 L225.2,375.0 L222.6,375.0 L221.8,373.9 L218.1,374.3 L214.3,371.1 L210.7,369.9 L209.3,366.8 L210.4,364.9 L211.9,364.3 L212.3,366.0 L213.4,366.7 L215.2,364.8 L217.9,367.4 L220.7,368.3 L224.2,368.6 L227.2,369.1 L230.0,370.0 L231.6,372.6 L232.3,374.6 L234.9,376.1 L237.7,377.3 L239.9,379.0 L242.3,380.5 L243.9,382.8 L246.2,382.8 L246.8,380.3 L245.0,378.5 L245.7,377.3 L247.9,376.7 L247.0,375.2 L243.1,374.7 L243.5,373.2 L240.7,371.6 L240.1,369.5 L242.5,369.4 L241.9,367.3 L244.3,365.8 L246.7,364.6 L248.5,366.4 L248.9,364.0 L249.8,362.1 L252.7,359.4 L249.7,359.3 L247.1,357.3 L245.9,354.8 L245.5,351.3 L244.7,348.9 L245.7,346.9 L245.3,343.4 L245.2,341.3 L247.3,340.1 L250.1,340.0 L250.5,342.3 L254.3,343.1 L255.7,341.0 L256.6,338.4 L257.9,336.3 L255.5,337.1 L253.1,336.6 L253.7,334.2 L255.2,332.4 L256.3,328.9 L258.6,327.6 L258.2,330.4 L258.5,332.5 L258.4,335.4 L261.1,336.1 L264.5,335.1 L268.5,334.9 L274.6,335.4 L275.9,336.6 L275.4,339.7 L272.7,342.5 L269.6,345.0 L265.4,346.2 L262.8,347.1 L259.9,349.7 L257.7,353.2 L255.5,356.7 L252.8,358.7 L253.9,359.7 L255.3,359.0 L253.6,361.6 L251.0,363.9 L249.2,365.5 L249.7,368.1 L251.6,368.1 L252.9,370.6 L255.1,371.3 L257.1,373.8 L259.2,373.2 L261.7,371.8 L265.6,369.8 L267.6,367.8 L271.5,367.0 L273.9,364.0 L274.9,360.8 L277.0,358.9 L278.6,359.8 L279.2,362.2 L281.2,363.8 L282.2,366.8 L284.0,370.6 M166.3,359.7 L167.8,359.8 L169.4,358.5 L171.0,357.5 L173.9,357.1 L175.7,356.4 L178.4,356.0 L180.6,354.2 L179.4,353.4 L179.2,352.3 L180.4,351.1 L180.4,349.4 L179.3,348.5 L177.4,348.8 L176.7,347.1 L175.6,345.3 L173.7,343.9 L172.6,341.8 L171.7,339.9 L169.8,339.8 L170.4,338.8 L171.0,336.1 L171.3,334.4 L168.3,334.5 L167.3,334.9 L168.8,332.5 L168.9,331.3 L167.2,331.6 L165.5,331.8 L165.1,333.1 L164.5,336.1 L165.0,338.6 L164.4,340.3 L165.4,342.2 L166.5,343.7 L168.0,343.9 L169.8,343.3 L169.2,344.8 L170.7,346.3 L170.8,348.2 L168.7,348.9 L167.6,349.9 L169.1,351.4 L168.8,352.4 L167.1,354.0 L169.2,354.3 L171.5,354.4 L170.6,355.5 L169.1,356.0 L168.2,356.7 L166.3,359.7 M165.2,352.7 L164.8,350.1 L164.5,348.1 L165.7,345.8 L164.6,343.5 L163.1,343.0 L161.6,343.1 L160.3,343.4 L159.6,345.7 L157.2,346.4 L157.3,348.7 L159.1,349.6 L158.5,351.6 L156.3,353.3 L156.7,354.9 L158.2,355.2 L160.2,354.5 L162.2,353.5 L164.4,352.7 L165.2,352.7 M140.4,313.7 L139.6,312.7 L141.0,312.0 L139.0,310.0 L140.5,309.3 L138.4,307.9 L140.4,306.7 L141.9,305.7 L143.4,308.3 L145.8,307.3 L147.5,307.9 L149.5,306.5 L151.2,307.6 L150.8,308.8 L152.3,310.9 L151.0,313.3 L149.5,313.9 L147.7,314.8 L145.8,315.7 L143.6,315.7 L141.8,313.9 L140.4,313.7 M161.2,321.1 L162.2,320.1 L161.9,322.7 L161.2,321.1 M144.5,292.9 L143.1,294.2 L143.8,296.0 L142.5,296.9 L141.1,297.8 L139.7,298.7 L138.6,298.6 L137.4,298.4 L136.2,298.2 L135.0,298.0 L133.9,297.8 L132.7,297.5 L131.6,297.2 L129.6,298.8 L127.7,300.5 L126.1,301.0 L124.4,301.5 L123.0,301.5 L121.5,301.6 L119.9,301.8 L118.3,302.1 L116.2,304.6 L113.4,306.7 L109.7,310.1 L107.5,312.5 L105.6,313.7 L104.8,312.4 L103.8,309.5 L102.8,308.2 L101.7,306.9 L102.3,302.2 L103.5,298.3 L103.7,295.6 L104.9,292.0 L106.3,288.3 L108.1,285.6 L110.9,283.8 L112.3,283.9 L113.7,284.0 L116.2,279.9 M81.0,292.2 L79.1,296.2 L77.4,300.3 L75.9,303.5 L74.6,306.8 L75.4,309.1 L75.7,312.5 L74.1,315.0 L74.1,318.7 L73.0,320.8 L69.9,320.6 L66.6,319.2 L62.3,319.1 L59.9,317.0 L58.0,315.1 L56.1,313.2 M68.1,336.3 L65.5,338.0 L64.6,335.9 L65.5,334.1 L62.8,334.4 L61.1,333.3 L61.7,330.6 L60.0,329.1 L58.4,327.5 L57.4,326.0 L60.5,325.3 L62.2,323.7 L65.1,322.9 L67.9,321.8 L72.2,322.3 L69.8,323.7 L67.4,325.1 L67.7,327.6 L70.2,331.0 L68.5,332.7 L68.8,334.7 L68.1,336.3 M52.5,329.1 L53.5,325.9 L51.8,325.9 L48.7,327.1 L48.6,328.9 L46.4,327.6 M218.2,389.7 L220.4,388.5 L223.3,387.1 L226.2,385.7 L226.3,389.5 L227.2,391.5 L224.6,391.4 L219.1,391.3 L218.2,389.7 M206.7,390.3 L208.3,389.8 L209.5,388.3 L208.7,384.1 L206.7,382.2 L204.3,384.1 L205.4,385.9 L206.7,390.3 M204.8,382.1 L206.3,381.6 L205.8,376.7 L205.1,376.2 L203.7,378.5 L204.8,382.1 M251.2,384.8 L253.5,383.0 L258.3,380.7 L255.5,383.4 L251.2,384.8 M273.1,370.8 L274.2,368.0 L276.6,364.5 L277.2,367.9 L275.6,370.6 L273.1,370.8 M190.4,392.2 L192.6,390.7 L193.2,392.4 L191.6,392.7 L190.4,392.2 M167.3,412.4 L168.0,409.8 L169.1,408.7 L170.8,408.2 L174.0,410.5 L178.0,409.7 L180.8,410.1 L182.8,407.6 L186.2,406.4 L190.0,403.2 L194.1,401.6 L196.9,401.0 L199.6,400.3 L203.5,398.2 L206.4,397.8 L209.2,397.3 L212.3,394.8 L214.1,395.7 L216.0,394.3 L216.0,397.0 L216.4,399.9 L218.3,400.7 L217.2,404.9 M113.3,396.5 L115.0,396.7 M110.1,392.3 L111.0,392.4 M106.5,391.8 L108.0,392.6 M215.5,305.6 L215.9,302.4 L218.1,301.9 L218.7,306.7 L215.5,305.6" fill="none" stroke="#333" stroke-width="0.5" stroke-linejoin="round"/>
<path d="M28.0,340.0 L28.6,340.6 L29.5,341.4 L30.6,342.4 L32.0,343.8 L33.7,345.5 L35.9,347.7 L38.5,350.4 L41.3,353.4 L44.3,356.4 L47.3,359.2 L50.3,361.9 L53.4,364.6 L56.6,367.2 L59.8,369.7 L63.0,371.9 L66.1,373.9 L69.1,375.6 L72.1,377.2 L75.2,378.6 L78.6,379.7 L82.1,380.5 L85.8,380.9 L89.6,381.2 L93.7,381.5 L98.1,382.0 L102.8,382.7 L107.9,383.5 L113.2,384.3 L118.7,385.2 L124.6,386.0 L130.9,386.8 L137.5,387.8 L144.4,388.6 L151.3,389.3 L158.1,389.6 L164.9,389.6 L171.8,389.4 L178.6,388.9 L185.3,388.2 L191.6,387.1 L197.6,385.7 L203.3,383.9 L208.8,381.9 L214.0,379.6 L218.9,377.2 L223.5,374.6 L227.8,371.7 L231.8,368.7 L235.5,365.5 L238.8,362.3 L241.6,359.0 L243.9,355.4 L245.9,351.9 L247.8,348.4 L250.0,345.0 L252.3,341.7 L254.7,338.5 L257.1,335.4 L259.5,332.5 L262.0,330.0 L264.7,327.8 L267.8,325.9 L270.7,324.3 L273.2,323.0 L275.0,322.0 M46.0,326.0 L46.4,326.3 L47.1,326.7 L47.8,327.2 L48.6,328.0 L49.3,329.0 L49.9,330.4 L50.5,332.0 L51.1,333.9 L51.9,335.8 L52.8,337.8 L53.9,339.8 L55.2,342.0 L56.5,344.2 L58.1,346.4 L59.8,348.3 L61.7,350.0 L63.8,351.6 L66.0,353.0 L68.4,354.5 L70.8,356.0 L73.3,357.6 L75.9,359.3 L78.6,361.0 L81.5,362.6 L84.5,364.0 L87.7,365.0 L91.0,365.8 L94.5,366.5 L98.1,367.3 L102.0,368.5 L106.0,370.2 L110.1,372.4 L114.5,374.7 L119.3,376.8 L124.6,378.5 L130.7,379.7 L137.5,380.7 L144.5,381.5 L151.5,382.0 L158.1,382.2 L164.2,382.2 L170.0,382.0 L175.6,381.5 L181.1,380.8 L186.7,379.7 L192.4,378.3 L198.2,376.5 L203.8,374.5 L209.2,372.2 L214.0,369.8 L218.4,367.2 L222.3,364.4 L226.0,361.5 L229.2,358.3 L232.0,354.9 L234.2,351.2 L235.9,347.2 L237.3,343.0 L238.6,338.9 L240.0,335.0 L241.6,331.4 L243.2,327.8 L244.8,324.4 L246.4,321.1 L248.0,318.0 L249.7,314.9 L251.6,311.9 L253.4,309.1 L254.9,306.7 L256.0,305.0 M60.0,315.0 L60.4,315.3 L60.8,315.8 L61.4,316.4 L62.2,317.0 L63.3,317.7 L64.7,318.4 L66.6,319.0 L68.5,319.7 L70.4,320.7 L72.0,322.0 L73.3,323.7 L74.4,325.7 L75.3,327.9 L76.3,330.3 L77.3,332.6 L78.3,335.0 L79.3,337.5 L80.2,340.1 L81.3,342.6 L82.6,344.8 L84.1,346.8 L85.8,348.7 L87.6,350.4 L89.5,352.0 L91.3,353.6 L93.0,355.1 L94.7,356.4 L96.4,357.7 L98.1,358.8 L100.1,360.0 L102.2,361.1 L104.3,362.1 L106.7,363.1 L109.2,364.0 L112.0,365.0 L115.1,366.0 L118.3,367.1 L121.8,368.2 L125.7,369.2 L130.0,370.0 L134.8,370.6 L140.1,371.1 L145.7,371.5 L151.5,371.8 L157.5,372.0 L163.8,372.2 L170.6,372.4 L177.5,372.5 L184.1,372.4 L190.0,371.8 L195.2,370.8 L199.9,369.5 L204.3,367.9 L208.3,366.1 L212.0,364.0 L215.4,361.6 L218.6,359.0 L221.4,356.1 L223.8,353.1 L226.0,350.0 L227.7,346.8 L229.0,343.5 L230.0,340.0 L230.9,336.5 L232.0,333.0 L233.2,329.4 L234.3,325.7 L235.5,322.0 L236.7,318.4 L238.0,315.0 L239.6,311.6 L241.4,308.1 L243.3,304.8 L244.9,302.0 L246.0,300.0 M72.0,303.0 L72.4,303.4 L73.0,304.0 L73.7,304.7 L74.5,305.5 L75.5,306.3 L76.7,307.2 L78.1,308.1 L79.6,309.1 L81.1,310.2 L82.6,311.5 L84.0,313.1 L85.4,314.8 L86.8,316.7 L88.2,318.6 L89.6,320.3 L91.0,321.8 L92.4,323.1 L93.8,324.5 L95.2,325.8 L96.6,327.3 L98.0,328.9 L99.3,330.7 L100.7,332.5 L102.1,334.3 L103.6,336.1 L105.2,337.9 L106.8,339.8 L108.5,341.6 L110.3,343.3 L112.3,344.8 L114.5,346.1 L116.9,347.2 L119.4,348.2 L122.0,349.1 L124.6,350.1 L127.3,351.2 L130.2,352.3 L133.1,353.3 L135.9,354.4 L138.6,355.3 L140.9,356.1 L143.0,356.7 L145.1,357.3 L147.3,358.0 L150.0,358.8 L153.1,360.0 L156.5,361.5 L160.2,363.0 L164.1,364.2 L168.4,365.0 L173.3,365.3 L178.8,365.2 L184.5,364.8 L189.8,364.0 L194.4,363.0 L198.2,361.6 L201.4,359.9 L204.2,357.8 L206.7,355.5 L209.0,353.0 L211.1,350.2 L212.8,347.2 L214.3,343.9 L215.7,340.5 L217.0,337.0 L218.2,333.4 L219.2,329.6 L220.1,325.7 L221.0,321.8 L222.0,318.0 L223.1,314.2 L224.3,310.4 L225.6,306.7 L226.8,303.2 L228.0,300.0 L229.3,297.0 L230.7,294.2 L232.0,291.6 L233.2,289.5 L234.0,288.0 M80.0,296.0 L80.3,296.5 L80.6,297.2 L81.1,297.9 L81.8,298.7 L82.6,299.3 L83.7,299.7 L85.1,299.8 L86.6,300.0 L88.1,300.3 L89.6,301.0 L91.0,302.0 L92.5,303.3 L93.9,304.7 L95.3,306.3 L96.6,308.0 L97.8,309.9 L98.8,312.1 L99.8,314.4 L100.8,316.6 L101.8,318.5 L102.8,320.2 L103.8,321.7 L104.9,323.1 L105.9,324.4 L107.1,325.5 L108.3,326.4 L109.6,327.1 L111.0,327.8 L112.4,328.3 L114.1,329.0 L116.0,329.6 L118.2,330.2 L120.5,330.8 L122.7,331.6 L124.6,332.6 L126.2,334.0 L127.5,335.7 L128.7,337.6 L130.0,339.5 L131.6,341.3 L133.5,343.1 L135.7,345.1 L137.9,347.0 L140.1,348.7 L142.1,350.1 L143.7,351.1 L144.9,351.7 L146.2,352.2 L147.8,352.8 L150.0,353.6 L153.0,354.8 L156.5,356.4 L160.3,357.9 L164.3,359.2 L168.4,360.0 L172.7,360.3 L177.2,360.2 L181.8,359.8 L186.2,359.0 L190.0,358.0 L193.2,356.6 L196.1,355.0 L198.6,353.0 L200.9,350.6 L203.0,348.0 L204.8,344.9 L206.4,341.5 L207.7,337.7 L208.9,333.9 L210.0,330.0 L211.0,326.1 L211.8,322.0 L212.5,318.0 L213.2,313.9 L214.0,310.0 L214.8,306.2 L215.6,302.4 L216.4,298.7 L217.2,295.2 L218.0,292.0 L218.9,289.0 L219.8,286.2 L220.7,283.6 L221.5,281.5 L222.0,280.0 M112.0,276.0 L112.0,276.8 L112.0,277.8 L112.1,279.1 L112.1,280.5 L112.3,281.8 L112.5,283.2 L112.8,284.6 L113.2,286.1 L113.6,287.5 L114.1,288.8 L114.6,290.0 L115.0,291.1 L115.6,292.1 L116.4,293.1 L117.6,294.0 L119.2,294.8 L121.1,295.6 L123.3,296.3 L125.7,296.9 L128.1,297.5 L130.8,298.0 L133.7,298.5 L136.8,298.9 L139.6,299.2 L142.1,299.3 L144.0,299.2 L145.4,299.0 L146.6,298.7 L148.1,298.4 L150.0,298.0 L152.5,297.7 L155.5,297.3 L158.7,296.9 L161.9,296.5 L165.0,296.0 L168.1,295.5 L171.2,295.1 L174.4,294.6 L177.3,293.9 L180.0,293.0 L182.4,291.7 L184.6,290.2 L186.6,288.5 L188.4,286.7 L190.0,285.0 L191.4,283.1 L192.6,281.0 L193.6,279.0 L194.4,277.2 L195.0,276.0 M103.0,278.0 L103.1,279.6 L103.2,281.8 L103.4,284.5 L103.6,287.3 L104.0,290.0 L104.4,292.8 L104.7,295.8 L105.2,298.8 L106.0,301.6 L107.1,304.0 L108.7,306.0 L110.8,307.7 L113.0,309.1 L115.4,310.4 L117.6,311.5 L119.6,312.5 L121.6,313.4 L123.6,314.1 L125.8,314.7 L128.1,315.0 L130.6,315.0 L133.2,314.7 L136.0,314.3 L139.0,314.0 L142.4,314.0 L146.3,314.5 L150.7,315.4 L155.3,316.3 L159.8,317.1 L164.0,317.5 L167.8,317.3 L171.5,316.6 L175.0,315.7 L178.3,315.1 L181.4,315.0 L184.3,315.4 L187.0,316.2 L189.5,317.3 L191.9,318.6 L194.0,320.0 L196.0,321.6 L197.8,323.5 L199.5,325.6 L200.9,327.8 L202.0,330.0 L202.8,332.5 L203.3,335.2 L203.6,338.0 L203.8,340.3 L204.0,342.0 M153.0,341.0 L153.2,338.7 L153.8,336.4 L154.6,334.0 L155.6,331.9 L157.0,330.0 L158.7,328.4 L160.7,326.9 L163.0,325.7 L165.4,324.7 L168.0,324.0 L170.8,323.6 L174.0,323.4 L177.2,323.5 L180.3,323.8 L183.0,324.5 L185.3,325.5 L187.3,326.9 L189.2,328.5 L190.7,330.2 L192.0,332.0 L193.0,333.8 L193.8,335.8 L194.2,337.8 L194.5,339.9 L194.4,342.0 L194.0,344.2 L193.4,346.6 L192.5,348.9 L191.3,351.1 L190.0,353.0 L188.4,354.6 L186.6,356.0 L184.6,357.2 L182.3,358.1 L180.0,358.8 L177.4,359.1 L174.5,359.2 L171.5,359.0 L168.6,358.6 L166.0,358.0 L163.6,357.2 L161.4,356.2 L159.3,355.0 L157.5,353.6 L156.0,352.0 L154.8,350.1 L154.0,348.0 L153.4,345.6 L153.0,343.3Z M158.0,341.0 L158.4,339.4 L159.0,337.6 L159.9,335.7 L160.9,334.0 L162.0,332.5 L163.3,331.3 L164.8,330.3 L166.4,329.5 L168.1,328.8 L170.0,328.4 L172.1,328.1 L174.4,328.0 L176.8,328.1 L179.1,328.4 L181.0,329.0 L182.6,330.0 L184.0,331.3 L185.2,332.8 L186.2,334.4 L187.0,336.0 L187.6,337.6 L188.0,339.2 L188.2,340.8 L188.2,342.4 L188.0,344.0 L187.6,345.5 L187.0,347.0 L186.2,348.5 L185.2,349.8 L184.0,351.0 L182.5,352.0 L180.8,352.8 L178.9,353.6 L176.9,354.1 L175.0,354.4 L173.0,354.5 L170.9,354.4 L168.8,354.1 L166.8,353.7 L165.0,353.0 L163.5,352.1 L162.1,350.9 L160.8,349.6 L159.8,348.3 L159.0,347.0 L158.4,345.8 L158.0,344.7 L157.8,343.6 L157.8,342.4Z M163.0,342.0 L163.3,340.9 L163.8,339.6 L164.4,338.4 L165.2,337.4 L166.0,336.5 L167.0,335.9 L168.2,335.4 L169.5,335.1 L170.8,334.9 L172.0,335.0 L173.3,335.3 L174.6,335.7 L176.0,336.4 L177.1,337.1 L178.0,338.0 L178.6,339.0 L179.0,340.2 L179.2,341.5 L179.2,342.8 L179.0,344.0 L178.6,345.1 L177.9,346.3 L177.1,347.3 L176.1,348.3 L175.0,349.0 L173.8,349.5 L172.3,349.9 L170.8,350.1 L169.3,350.1 L168.0,350.0 L166.9,349.7 L165.8,349.2 L164.9,348.5 L164.1,347.8 L163.5,347.0 L163.1,346.1 L162.8,345.2 L162.8,344.1 L162.8,343.1Z" fill="none" stroke="#1e1e1e" stroke-width="0.75" stroke-linejoin="round"/>
<path d="M118.3,302.1 L120.7,303.3 L123.1,304.4 L125.6,305.5 L128.1,306.4 L130.7,307.3 L133.2,308.2 L135.8,308.9 L138.4,309.5 L141.1,310.1 L143.7,310.6 L146.4,311.0 L149.1,311.3 L151.8,311.5 L154.5,311.6 L157.2,311.6 L159.8,311.6 L162.5,311.5 L165.2,311.3 L167.9,311.0 L170.6,310.6 L173.2,310.1 L175.9,309.5 L178.5,308.9 L181.1,308.2 L183.6,307.3 L186.2,306.4 L188.7,305.5 L191.2,304.4 L193.6,303.3 L196.0,302.1 L230.0,366.8 L225.5,369.1 L221.0,371.2 L216.3,373.2 L211.6,375.1 L206.8,376.7 L202.0,378.3 L197.1,379.6 L192.2,380.8 L187.3,381.9 L182.3,382.8 L177.3,383.5 L172.3,384.1 L167.3,384.5 L162.2,384.7 L157.2,384.8 L152.1,384.7 L147.0,384.5 L142.0,384.1 L137.0,383.5 L132.0,382.8 L127.0,381.9 L122.1,380.8 L117.2,379.6 L112.3,378.3 L107.5,376.7 L102.7,375.1 L98.0,373.2 L93.3,371.2 L88.8,369.1 L84.3,366.8Z" fill="none" stroke="#f5a11f" stroke-width="1.35" stroke-linejoin="miter"/><path d="M157.2,327.6 L158.5,327.6 L159.8,327.6 L161.2,327.6 L162.5,327.5 L163.8,327.4 L165.2,327.3 L166.5,327.2 L167.8,327.1 L169.2,326.9 L170.5,326.7 L171.8,326.6 L173.1,326.3 L174.5,326.1 L175.8,325.9 L177.1,325.6 L178.4,325.3 L179.7,325.1 L181.0,324.7 L182.3,324.4 L183.6,324.1 L184.9,323.7 L186.2,323.3 L187.4,322.9 L188.7,322.5 L190.0,322.1 L191.2,321.6 L192.5,321.2 L193.7,320.7 L195.0,320.2 L196.2,319.7 L215.6,365.0 L213.7,365.8 L211.9,366.5 L210.0,367.3 L208.1,368.0 L206.2,368.6 L204.3,369.3 L202.4,369.9 L200.5,370.5 L198.6,371.1 L196.7,371.6 L194.7,372.1 L192.8,372.6 L190.9,373.1 L188.9,373.5 L187.0,373.9 L185.0,374.3 L183.0,374.7 L181.1,375.0 L179.1,375.3 L177.1,375.6 L175.1,375.9 L173.1,376.1 L171.1,376.3 L169.1,376.5 L167.1,376.6 L165.1,376.7 L163.2,376.8 L161.2,376.9 L159.2,376.9 L157.2,377.0Z" fill="none" stroke="#ee1c1c" stroke-width="1.35" stroke-linejoin="miter"/>
</g>
<path d="M108.18,274.73 L109.46,276.04 L110.77,277.31 L112.12,278.54 L113.49,279.74 L114.90,280.90 L116.34,282.02 L117.81,283.10 L119.31,284.14 L120.84,285.14 L122.39,286.10 L123.97,287.02 L125.57,287.89 L127.20,288.72 L128.84,289.51 L130.51,290.25 L132.20,290.95 L133.90,291.60 L135.63,292.20 L137.37,292.76 L139.12,293.27 L140.88,293.73 L142.66,294.15 L144.45,294.52 L146.25,294.83 L148.05,295.10 L149.86,295.32 L151.68,295.50 L153.50,295.62 L155.32,295.69 L157.15,295.72 L158.98,295.69 L160.80,295.62 L162.62,295.50 L164.44,295.32 L166.25,295.10 L168.05,294.83 L169.85,294.52 L171.64,294.15 L173.42,293.73 L175.18,293.27 L176.93,292.76 L178.67,292.20 L180.40,291.60 L182.10,290.95 L183.79,290.25 L185.46,289.51 L187.10,288.72 L188.73,287.89 L190.33,287.02 L191.91,286.10 L193.46,285.14 L194.99,284.14 L196.49,283.10 L197.96,282.02 L199.40,280.90 L200.81,279.74 L202.18,278.54 L203.53,277.31 L204.84,276.04 L206.12,274.73 L290.30,354.90 L286.83,358.44 L283.26,361.90 L279.60,365.25 L275.86,368.51 L272.03,371.66 L268.11,374.71 L264.11,377.65 L260.04,380.48 L255.89,383.20 L251.66,385.81 L247.37,388.30 L243.01,390.68 L238.59,392.94 L234.12,395.08 L229.58,397.09 L224.99,398.99 L220.36,400.76 L215.67,402.40 L210.95,403.92 L206.18,405.30 L201.38,406.56 L196.55,407.69 L191.69,408.69 L186.80,409.56 L181.89,410.29 L176.96,410.89 L172.02,411.36 L167.07,411.69 L162.11,411.90 L157.15,411.96 L152.19,411.90 L147.23,411.69 L142.28,411.36 L137.34,410.89 L132.41,410.29 L127.50,409.56 L122.61,408.69 L117.75,407.69 L112.92,406.56 L108.12,405.30 L103.35,403.92 L98.63,402.40 L93.94,400.76 L89.31,398.99 L84.72,397.09 L80.18,395.08 L75.71,392.94 L71.29,390.68 L66.93,388.30 L62.64,385.81 L58.41,383.20 L54.26,380.48 L50.19,377.65 L46.19,374.71 L42.27,371.66 L38.44,368.51 L34.70,365.25 L31.04,361.90 L27.47,358.44 L24.00,354.90Z" fill="none" stroke="#444" stroke-width="0.75"/>
<text x="14.7" y="345.1" transform="rotate(43.6 14.7 345.1)" text-anchor="middle" dominant-baseline="central" font-size="11.4" letter-spacing="-0.25">35<tspan font-size="6.5" dy="-4.6">o</tspan><tspan dy="4.6">N</tspan></text>
<text x="299.6" y="345.1" transform="rotate(-43.6 299.6 345.1)" text-anchor="middle" dominant-baseline="central" font-size="11.4" letter-spacing="-0.25">35<tspan font-size="6.5" dy="-4.6">o</tspan><tspan dy="4.6">N</tspan></text>
<text x="40.0" y="321.0" transform="rotate(43.6 40.0 321.0)" text-anchor="middle" dominant-baseline="central" font-size="11.4" letter-spacing="-0.25">45<tspan font-size="6.5" dy="-4.6">o</tspan><tspan dy="4.6">N</tspan></text>
<text x="274.3" y="321.0" transform="rotate(-43.6 274.3 321.0)" text-anchor="middle" dominant-baseline="central" font-size="11.4" letter-spacing="-0.25">45<tspan font-size="6.5" dy="-4.6">o</tspan><tspan dy="4.6">N</tspan></text>
<text x="64.1" y="298.1" transform="rotate(43.6 64.1 298.1)" text-anchor="middle" dominant-baseline="central" font-size="11.4" letter-spacing="-0.25">55<tspan font-size="6.5" dy="-4.6">o</tspan><tspan dy="4.6">N</tspan></text>
<text x="250.2" y="298.1" transform="rotate(-43.6 250.2 298.1)" text-anchor="middle" dominant-baseline="central" font-size="11.4" letter-spacing="-0.25">55<tspan font-size="6.5" dy="-4.6">o</tspan><tspan dy="4.6">N</tspan></text>
<text x="87.3" y="275.9" transform="rotate(43.6 87.3 275.9)" text-anchor="middle" dominant-baseline="central" font-size="11.4" letter-spacing="-0.25">65<tspan font-size="6.5" dy="-4.6">o</tspan><tspan dy="4.6">N</tspan></text>
<text x="227.0" y="275.9" transform="rotate(-43.6 227.0 275.9)" text-anchor="middle" dominant-baseline="central" font-size="11.4" letter-spacing="-0.25">65<tspan font-size="6.5" dy="-4.6">o</tspan><tspan dy="4.6">N</tspan></text>
<text x="40.6" y="383.0" transform="rotate(37.0 40.6 383.0)" text-anchor="middle" dominant-baseline="central" font-size="11.4" letter-spacing="-0.25">50<tspan font-size="6.5" dy="-4.6">o</tspan><tspan dy="4.6">W</tspan></text>
<text x="95.7" y="412.0" transform="rotate(18.5 95.7 412.0)" text-anchor="middle" dominant-baseline="central" font-size="11.4" letter-spacing="-0.25">30<tspan font-size="6.5" dy="-4.6">o</tspan><tspan dy="4.6">W</tspan></text>
<text x="157.2" y="422.0" transform="rotate(-0.0 157.2 422.0)" text-anchor="middle" dominant-baseline="central" font-size="11.4" letter-spacing="-0.25">10<tspan font-size="6.5" dy="-4.6">o</tspan><tspan dy="4.6">W</tspan></text>
<text x="218.6" y="412.0" transform="rotate(-18.5 218.6 412.0)" text-anchor="middle" dominant-baseline="central" font-size="11.4" letter-spacing="-0.25">10<tspan font-size="6.5" dy="-4.6">o</tspan><tspan dy="4.6">E</tspan></text>
<text x="273.7" y="383.0" transform="rotate(-37.0 273.7 383.0)" text-anchor="middle" dominant-baseline="central" font-size="11.4" letter-spacing="-0.25">30<tspan font-size="6.5" dy="-4.6">o</tspan><tspan dy="4.6">E</tspan></text>
<path d="M69.5,210.4 L88.4,207.2 L88.4,213.6Z" fill="#fdf2ee" stroke="#333" stroke-width="0.5"/>
<rect x="88.40" y="207.2" width="18.95" height="6.40" fill="#f2d6ca" stroke="#333" stroke-width="0.5"/>
<rect x="107.35" y="207.2" width="18.95" height="6.40" fill="#e9b39d" stroke="#333" stroke-width="0.5"/>
<rect x="126.30" y="207.2" width="18.95" height="6.40" fill="#e0927c" stroke="#333" stroke-width="0.5"/>
<rect x="145.25" y="207.2" width="18.95" height="6.40" fill="#d3706a" stroke="#333" stroke-width="0.5"/>
<rect x="164.20" y="207.2" width="18.95" height="6.40" fill="#bb4e67" stroke="#333" stroke-width="0.5"/>
<rect x="183.15" y="207.2" width="18.95" height="6.40" fill="#a83d6b" stroke="#333" stroke-width="0.5"/>
<rect x="202.10" y="207.2" width="18.95" height="6.40" fill="#8a2b6c" stroke="#333" stroke-width="0.5"/>
<rect x="221.05" y="207.2" width="18.95" height="6.40" fill="#601b5d" stroke="#333" stroke-width="0.5"/>
<path d="M258.9,210.4 L240.0,207.2 L240.0,213.6Z" fill="#3c0e40" stroke="#333" stroke-width="0.5"/>
<text x="88.4" y="219.2" text-anchor="middle" dominant-baseline="central" font-size="9">0</text>
<text x="107.4" y="219.2" text-anchor="middle" dominant-baseline="central" font-size="9">2</text>
<text x="126.3" y="219.2" text-anchor="middle" dominant-baseline="central" font-size="9">4</text>
<text x="145.2" y="219.2" text-anchor="middle" dominant-baseline="central" font-size="9">6</text>
<text x="164.2" y="219.2" text-anchor="middle" dominant-baseline="central" font-size="9">8</text>
<text x="183.2" y="219.2" text-anchor="middle" dominant-baseline="central" font-size="9">10</text>
<text x="202.1" y="219.2" text-anchor="middle" dominant-baseline="central" font-size="9">12</text>
<text x="221.1" y="219.2" text-anchor="middle" dominant-baseline="central" font-size="9">14</text>
<text x="240.0" y="219.2" text-anchor="middle" dominant-baseline="central" font-size="9">16</text>
<path d="M433.6,203.1 L443.8,200.2 L443.8,206.0Z" fill="#1b2350" stroke="#333" stroke-width="0.5"/>
<rect x="443.80" y="200.2" width="10.23" height="5.80" fill="#1e3e5a" stroke="#333" stroke-width="0.5"/>
<rect x="454.03" y="200.2" width="10.23" height="5.80" fill="#1f5a69" stroke="#333" stroke-width="0.5"/>
<rect x="464.26" y="200.2" width="10.23" height="5.80" fill="#1e746f" stroke="#333" stroke-width="0.5"/>
<rect x="474.49" y="200.2" width="10.23" height="5.80" fill="#2f8e7e" stroke="#333" stroke-width="0.5"/>
<rect x="484.72" y="200.2" width="10.23" height="5.80" fill="#5ba689" stroke="#333" stroke-width="0.5"/>
<rect x="494.95" y="200.2" width="10.23" height="5.80" fill="#8cbf9e" stroke="#333" stroke-width="0.5"/>
<rect x="505.18" y="200.2" width="10.23" height="5.80" fill="#b9d5ba" stroke="#333" stroke-width="0.5"/>
<rect x="515.41" y="200.2" width="10.23" height="5.80" fill="#e5e5d9" stroke="#333" stroke-width="0.5"/>
<rect x="525.64" y="200.2" width="10.23" height="5.80" fill="#f5e6de" stroke="#333" stroke-width="0.5"/>
<rect x="535.87" y="200.2" width="10.23" height="5.80" fill="#ecc5b0" stroke="#333" stroke-width="0.5"/>
<rect x="546.10" y="200.2" width="10.23" height="5.80" fill="#e4a68b" stroke="#333" stroke-width="0.5"/>
<rect x="556.33" y="200.2" width="10.23" height="5.80" fill="#d9806f" stroke="#333" stroke-width="0.5"/>
<rect x="566.56" y="200.2" width="10.23" height="5.80" fill="#ca5c67" stroke="#333" stroke-width="0.5"/>
<rect x="576.79" y="200.2" width="10.23" height="5.80" fill="#aa416a" stroke="#333" stroke-width="0.5"/>
<rect x="587.02" y="200.2" width="10.23" height="5.80" fill="#8b2b6c" stroke="#333" stroke-width="0.5"/>
<rect x="597.25" y="200.2" width="10.23" height="5.80" fill="#5f1b5c" stroke="#333" stroke-width="0.5"/>
<path d="M617.7,203.1 L607.5,200.2 L607.5,206.0Z" fill="#3a0e3e" stroke="#333" stroke-width="0.5"/>
<text x="443.8" y="211.7" text-anchor="middle" dominant-baseline="central" font-size="8.5">-8</text>
<text x="464.3" y="211.7" text-anchor="middle" dominant-baseline="central" font-size="8.5">-6</text>
<text x="484.7" y="211.7" text-anchor="middle" dominant-baseline="central" font-size="8.5">-4</text>
<text x="505.2" y="211.7" text-anchor="middle" dominant-baseline="central" font-size="8.5">-2</text>
<text x="525.6" y="211.7" text-anchor="middle" dominant-baseline="central" font-size="8.5">0</text>
<text x="546.1" y="211.7" text-anchor="middle" dominant-baseline="central" font-size="8.5">2</text>
<text x="566.6" y="211.7" text-anchor="middle" dominant-baseline="central" font-size="8.5">4</text>
<text x="587.0" y="211.7" text-anchor="middle" dominant-baseline="central" font-size="8.5">6</text>
<text x="607.5" y="211.7" text-anchor="middle" dominant-baseline="central" font-size="8.5">8</text>
<path d="M65.3,444.8 L75.5,442.0 L75.5,447.6Z" fill="#1b2350" stroke="#333" stroke-width="0.5"/>
<rect x="75.50" y="442.0" width="10.18" height="5.60" fill="#1e3e5a" stroke="#333" stroke-width="0.5"/>
<rect x="85.68" y="442.0" width="10.18" height="5.60" fill="#1f5a69" stroke="#333" stroke-width="0.5"/>
<rect x="95.86" y="442.0" width="10.18" height="5.60" fill="#1e746f" stroke="#333" stroke-width="0.5"/>
<rect x="106.04" y="442.0" width="10.18" height="5.60" fill="#2f8e7e" stroke="#333" stroke-width="0.5"/>
<rect x="116.22" y="442.0" width="10.18" height="5.60" fill="#5ba689" stroke="#333" stroke-width="0.5"/>
<rect x="126.40" y="442.0" width="10.18" height="5.60" fill="#8cbf9e" stroke="#333" stroke-width="0.5"/>
<rect x="136.58" y="442.0" width="10.18" height="5.60" fill="#b9d5ba" stroke="#333" stroke-width="0.5"/>
<rect x="146.76" y="442.0" width="10.18" height="5.60" fill="#e5e5d9" stroke="#333" stroke-width="0.5"/>
<rect x="156.94" y="442.0" width="10.18" height="5.60" fill="#f5e6de" stroke="#333" stroke-width="0.5"/>
<rect x="167.12" y="442.0" width="10.18" height="5.60" fill="#ecc5b0" stroke="#333" stroke-width="0.5"/>
<rect x="177.30" y="442.0" width="10.18" height="5.60" fill="#e4a68b" stroke="#333" stroke-width="0.5"/>
<rect x="187.48" y="442.0" width="10.18" height="5.60" fill="#d9806f" stroke="#333" stroke-width="0.5"/>
<rect x="197.66" y="442.0" width="10.18" height="5.60" fill="#ca5c67" stroke="#333" stroke-width="0.5"/>
<rect x="207.84" y="442.0" width="10.18" height="5.60" fill="#aa416a" stroke="#333" stroke-width="0.5"/>
<rect x="218.02" y="442.0" width="10.18" height="5.60" fill="#8b2b6c" stroke="#333" stroke-width="0.5"/>
<rect x="228.20" y="442.0" width="10.18" height="5.60" fill="#5f1b5c" stroke="#333" stroke-width="0.5"/>
<path d="M248.6,444.8 L238.4,442.0 L238.4,447.6Z" fill="#3a0e3e" stroke="#333" stroke-width="0.5"/>
<text x="75.5" y="453.9" text-anchor="middle" dominant-baseline="central" font-size="8.5">-8</text>
<text x="95.9" y="453.9" text-anchor="middle" dominant-baseline="central" font-size="8.5">-6</text>
<text x="116.2" y="453.9" text-anchor="middle" dominant-baseline="central" font-size="8.5">-4</text>
<text x="136.6" y="453.9" text-anchor="middle" dominant-baseline="central" font-size="8.5">-2</text>
<text x="156.9" y="453.9" text-anchor="middle" dominant-baseline="central" font-size="8.5">0</text>
<text x="177.3" y="453.9" text-anchor="middle" dominant-baseline="central" font-size="8.5">2</text>
<text x="197.7" y="453.9" text-anchor="middle" dominant-baseline="central" font-size="8.5">4</text>
<text x="218.0" y="453.9" text-anchor="middle" dominant-baseline="central" font-size="8.5">6</text>
<text x="238.4" y="453.9" text-anchor="middle" dominant-baseline="central" font-size="8.5">8</text>
<text x="379" y="250" font-size="13.5">(d)</text>
<text x="470" y="249.5" text-anchor="middle" font-size="11.2">Euro-Atlantic Sector</text>
<text x="596" y="249.5" text-anchor="middle" font-size="11.2">West/Central Europe</text>
<rect x="421.5" y="256.8" width="98" height="176.2" fill="none" stroke="#999" stroke-width="1"/>
<rect x="546.5" y="255.8" width="99" height="177.2" fill="none" stroke="#888" stroke-width="1"/>
<text x="416.5" y="258.5" text-anchor="end" dominant-baseline="central" font-size="8.2" fill="#2a2a2a">4</text>
<text x="416.5" y="283.1" text-anchor="end" dominant-baseline="central" font-size="8.2" fill="#2a2a2a">2</text>
<text x="416.5" y="307.7" text-anchor="end" dominant-baseline="central" font-size="8.2" fill="#2a2a2a">0</text>
<text x="416.5" y="332.3" text-anchor="end" dominant-baseline="central" font-size="8.2" fill="#2a2a2a">-2</text>
<text x="416.5" y="356.9" text-anchor="end" dominant-baseline="central" font-size="8.2" fill="#2a2a2a">-4</text>
<text x="416.5" y="381.4" text-anchor="end" dominant-baseline="central" font-size="8.2" fill="#2a2a2a">-6</text>
<text x="416.5" y="406.0" text-anchor="end" dominant-baseline="central" font-size="8.2" fill="#2a2a2a">-8</text>
<text x="416.5" y="430.6" text-anchor="end" dominant-baseline="central" font-size="8.2" fill="#2a2a2a">-10</text>
<text x="541.5" y="258.5" text-anchor="end" dominant-baseline="central" font-size="8.2" fill="#2a2a2a">4</text>
<text x="541.5" y="283.1" text-anchor="end" dominant-baseline="central" font-size="8.2" fill="#2a2a2a">2</text>
<text x="541.5" y="307.7" text-anchor="end" dominant-baseline="central" font-size="8.2" fill="#2a2a2a">0</text>
<text x="541.5" y="332.3" text-anchor="end" dominant-baseline="central" font-size="8.2" fill="#2a2a2a">-2</text>
<text x="541.5" y="356.9" text-anchor="end" dominant-baseline="central" font-size="8.2" fill="#2a2a2a">-4</text>
<text x="541.5" y="381.4" text-anchor="end" dominant-baseline="central" font-size="8.2" fill="#2a2a2a">-6</text>
<text x="541.5" y="406.0" text-anchor="end" dominant-baseline="central" font-size="8.2" fill="#2a2a2a">-8</text>
<text x="541.5" y="430.6" text-anchor="end" dominant-baseline="central" font-size="8.2" fill="#2a2a2a">-10</text>
<line x1="422" y1="306.9" x2="519" y2="306.9" stroke="#222" stroke-width="0.6" stroke-dasharray="1.2 1.1"/>
<line x1="547" y1="306.9" x2="645" y2="306.9" stroke="#222" stroke-width="0.6" stroke-dasharray="1.2 1.1"/>
<text x="445.5" y="274" text-anchor="middle" dominant-baseline="central" font-size="8.5" fill="#777">p=0.023</text>
<text x="495.5" y="288" text-anchor="middle" dominant-baseline="central" font-size="8.5" fill="#777">p=0.011</text>
<text x="571.3" y="296.7" text-anchor="middle" dominant-baseline="central" font-size="8.5" fill="#777">p&lt;0.010</text>
<text x="621.7" y="296.7" text-anchor="middle" dominant-baseline="central" font-size="8.5" fill="#777">p&lt;0.010</text>
<text x="446" y="443.5" text-anchor="middle" dominant-baseline="central" font-size="8">CLOCK-CTL</text>
<text x="499.5" y="443.5" text-anchor="middle" dominant-baseline="central" font-size="8">LWOFF-CTL</text>
<text x="569.4" y="443.5" text-anchor="middle" dominant-baseline="central" font-size="8">CLOCK-CTL</text>
<text x="622.5" y="443.5" text-anchor="middle" dominant-baseline="central" font-size="8">LWOFF-CTL</text>
<text transform="translate(380.2 337.7) rotate(-90)" text-anchor="middle" dominant-baseline="central" font-size="11">Changes in</text>
<text transform="translate(393.9 337.7) rotate(-90)" text-anchor="middle" dominant-baseline="central" font-size="11">Blocked Days (%)</text>
<path d="M445.5,282.3 L445.3,283.4 L445.0,285.0 L444.7,286.8 L444.3,288.6 L444.0,290.0 L443.7,291.0 L443.5,291.6 L443.3,292.2 L443.0,292.9 L442.5,293.7 L441.8,294.8 L440.9,296.0 L439.9,297.3 L438.9,298.6 L438.0,300.0 L437.2,301.4 L436.5,302.7 L435.7,304.2 L435.0,305.7 L434.1,307.4 L433.1,309.3 L431.9,311.3 L430.7,313.5 L429.7,315.7 L428.8,318.0 L428.2,320.3 L427.7,322.8 L427.3,325.3 L427.1,327.7 L426.8,330.0 L426.6,332.2 L426.3,334.2 L426.2,336.2 L426.2,338.2 L426.3,340.0 L426.6,341.7 L427.1,343.4 L427.7,345.0 L428.4,346.5 L429.0,348.0 L429.6,349.4 L430.2,350.6 L430.8,351.8 L431.5,353.3 L432.2,355.2 L433.0,357.7 L433.9,360.7 L434.9,363.9 L435.8,367.2 L436.7,370.4 L437.5,373.5 L438.3,376.6 L439.1,379.7 L439.8,382.7 L440.5,385.6 L441.2,388.3 L441.8,390.9 L442.5,393.4 L443.1,395.8 L443.6,398.2 L444.1,400.8 L444.5,403.4 L444.9,406.0 L445.3,408.2 L445.5,409.7Z" fill="#62aa8e" stroke="#555" stroke-width="0.6"/>
<path d="M453.3,308.7h1v1h-1zM450.3,348.7h1v1h-1zM446.9,345.8h1v1h-1zM447.5,300.3h1v1h-1zM447.8,379.0h1v1h-1zM456.5,358.3h1v1h-1zM456.8,334.3h1v1h-1zM449.5,382.3h1v1h-1zM449.7,305.3h1v1h-1zM453.2,351.9h1v1h-1zM447.2,350.0h1v1h-1zM453.6,314.4h1v1h-1zM452.6,325.7h1v1h-1zM454.8,324.2h1v1h-1zM449.1,368.5h1v1h-1zM455.7,347.6h1v1h-1zM447.7,320.2h1v1h-1zM448.1,371.7h1v1h-1zM453.5,297.1h1v1h-1zM449.8,384.0h1v1h-1zM451.3,309.0h1v1h-1zM456.4,318.3h1v1h-1zM447.1,362.1h1v1h-1zM453.5,333.1h1v1h-1zM448.3,341.0h1v1h-1zM454.6,299.1h1v1h-1zM450.6,318.8h1v1h-1zM452.3,362.2h1v1h-1zM455.1,351.2h1v1h-1zM450.3,332.6h1v1h-1zM456.6,363.9h1v1h-1zM448.9,311.3h1v1h-1zM452.7,343.4h1v1h-1zM450.9,293.4h1v1h-1zM456.5,351.9h1v1h-1zM453.6,301.5h1v1h-1zM454.7,386.6h1v1h-1zM454.9,333.9h1v1h-1zM447.6,334.5h1v1h-1zM448.7,346.4h1v1h-1zM447.1,328.4h1v1h-1zM447.6,308.7h1v1h-1zM455.7,295.7h1v1h-1zM448.1,341.1h1v1h-1zM450.3,329.1h1v1h-1zM456.9,381.3h1v1h-1zM447.4,343.3h1v1h-1zM449.3,328.6h1v1h-1zM456.5,340.4h1v1h-1zM452.2,308.2h1v1h-1zM456.8,347.9h1v1h-1zM453.8,342.2h1v1h-1zM448.3,331.1h1v1h-1zM450.0,293.2h1v1h-1zM456.8,377.4h1v1h-1zM455.0,328.2h1v1h-1zM451.9,336.2h1v1h-1zM446.8,296.0h1v1h-1zM453.8,320.0h1v1h-1zM451.2,318.8h1v1h-1zM448.9,315.9h1v1h-1zM453.1,314.3h1v1h-1zM455.3,332.5h1v1h-1zM454.9,360.9h1v1h-1zM456.1,361.7h1v1h-1zM448.4,337.4h1v1h-1zM450.0,307.8h1v1h-1zM450.7,363.1h1v1h-1zM454.1,332.8h1v1h-1zM448.1,306.2h1v1h-1zM455.2,342.5h1v1h-1zM453.4,323.7h1v1h-1zM447.9,350.1h1v1h-1zM453.3,394.0h1v1h-1zM451.1,390.1h1v1h-1zM449.1,345.6h1v1h-1zM452.7,318.0h1v1h-1zM447.9,336.6h1v1h-1zM450.2,321.5h1v1h-1zM456.0,353.7h1v1h-1zM451.8,388.4h1v1h-1zM446.7,347.4h1v1h-1zM446.5,312.0h1v1h-1zM454.1,351.2h1v1h-1zM451.9,326.9h1v1h-1zM447.6,374.6h1v1h-1zM449.4,318.8h1v1h-1zM451.8,363.4h1v1h-1zM456.1,372.0h1v1h-1zM451.8,356.7h1v1h-1zM451.2,365.0h1v1h-1zM456.4,342.7h1v1h-1zM449.2,381.7h1v1h-1zM455.3,391.1h1v1h-1zM451.1,305.6h1v1h-1zM447.3,318.0h1v1h-1zM454.7,293.9h1v1h-1zM453.4,360.7h1v1h-1zM456.7,384.8h1v1h-1zM450.7,392.1h1v1h-1zM455.2,395.9h1v1h-1zM451.9,337.9h1v1h-1zM449.8,313.4h1v1h-1zM446.7,371.4h1v1h-1zM446.7,338.8h1v1h-1zM451.9,357.9h1v1h-1zM454.8,395.4h1v1h-1zM446.9,353.6h1v1h-1zM449.3,349.9h1v1h-1zM456.1,336.9h1v1h-1zM456.2,336.6h1v1h-1zM447.4,365.8h1v1h-1zM451.0,364.6h1v1h-1zM453.2,390.6h1v1h-1zM447.4,352.2h1v1h-1zM451.3,384.7h1v1h-1zM456.2,350.5h1v1h-1zM452.0,306.4h1v1h-1zM448.2,304.4h1v1h-1zM449.8,314.0h1v1h-1zM449.5,372.0h1v1h-1zM450.1,311.5h1v1h-1zM446.7,319.0h1v1h-1zM452.3,358.5h1v1h-1zM456.3,342.4h1v1h-1zM451.0,378.2h1v1h-1zM450.6,379.8h1v1h-1zM456.8,364.5h1v1h-1zM453.9,379.6h1v1h-1zM447.1,317.6h1v1h-1zM454.3,300.4h1v1h-1zM447.4,310.0h1v1h-1zM455.6,350.9h1v1h-1zM449.6,333.5h1v1h-1zM451.2,309.4h1v1h-1zM456.7,393.0h1v1h-1zM456.6,318.4h1v1h-1zM446.5,330.1h1v1h-1zM451.8,342.4h1v1h-1zM446.6,345.5h1v1h-1zM450.7,302.3h1v1h-1zM449.7,295.3h1v1h-1zM452.1,353.9h1v1h-1zM453.4,356.4h1v1h-1zM449.9,356.1h1v1h-1zM448.1,319.6h1v1h-1zM455.3,332.6h1v1h-1zM453.1,331.3h1v1h-1zM452.0,342.8h1v1h-1zM454.9,379.8h1v1h-1zM452.6,324.2h1v1h-1zM448.9,321.0h1v1h-1zM450.3,306.8h1v1h-1zM452.4,379.9h1v1h-1zM453.1,300.9h1v1h-1zM454.9,335.3h1v1h-1zM451.8,337.5h1v1h-1zM447.2,361.6h1v1h-1zM449.3,337.3h1v1h-1zM448.7,347.6h1v1h-1zM450.5,367.4h1v1h-1zM454.6,364.1h1v1h-1zM453.2,332.8h1v1h-1zM449.2,308.3h1v1h-1zM446.6,326.1h1v1h-1zM453.6,321.0h1v1h-1zM453.6,369.1h1v1h-1zM451.4,346.7h1v1h-1zM455.9,305.3h1v1h-1zM456.3,394.7h1v1h-1zM455.1,340.7h1v1h-1zM448.7,317.9h1v1h-1zM448.7,343.8h1v1h-1zM452.0,307.7h1v1h-1zM451.8,369.8h1v1h-1zM453.9,373.0h1v1h-1zM451.6,386.4h1v1h-1zM451.7,293.4h1v1h-1zM448.0,324.4h1v1h-1zM455.3,325.9h1v1h-1zM455.3,371.1h1v1h-1zM454.0,389.3h1v1h-1zM450.6,331.2h1v1h-1zM452.7,361.7h1v1h-1zM449.4,337.5h1v1h-1zM455.3,303.6h1v1h-1zM449.1,390.3h1v1h-1zM448.5,346.1h1v1h-1zM455.8,392.4h1v1h-1zM456.4,298.3h1v1h-1zM447.0,367.8h1v1h-1zM451.2,295.3h1v1h-1zM447.0,324.3h1v1h-1zM447.8,320.6h1v1h-1zM449.6,328.7h1v1h-1zM453.4,357.4h1v1h-1zM450.6,351.0h1v1h-1zM448.7,309.8h1v1h-1zM451.7,334.4h1v1h-1zM457.0,387.3h1v1h-1zM448.5,307.5h1v1h-1zM447.5,328.6h1v1h-1zM452.5,319.9h1v1h-1zM450.8,337.3h1v1h-1zM450.1,332.2h1v1h-1zM456.7,321.9h1v1h-1zM453.1,345.4h1v1h-1zM448.8,310.6h1v1h-1zM450.7,318.8h1v1h-1zM455.4,392.2h1v1h-1zM453.9,344.0h1v1h-1zM451.5,338.3h1v1h-1zM450.6,293.0h1v1h-1zM456.7,360.8h1v1h-1zM448.1,304.3h1v1h-1zM456.4,363.9h1v1h-1zM452.3,340.1h1v1h-1zM448.9,374.4h1v1h-1zM453.3,308.8h1v1h-1zM449.1,306.3h1v1h-1zM447.2,333.4h1v1h-1zM450.6,353.6h1v1h-1zM446.6,355.5h1v1h-1zM456.6,340.9h1v1h-1zM455.8,325.4h1v1h-1zM449.1,317.4h1v1h-1zM446.7,331.1h1v1h-1zM450.9,363.1h1v1h-1zM456.2,362.4h1v1h-1zM450.0,296.5h1v1h-1zM448.6,364.0h1v1h-1zM454.3,316.0h1v1h-1zM456.7,314.3h1v1h-1zM448.9,378.3h1v1h-1zM449.6,372.1h1v1h-1zM448.8,320.7h1v1h-1zM456.5,362.2h1v1h-1zM448.7,333.9h1v1h-1zM448.0,337.8h1v1h-1zM450.6,299.3h1v1h-1zM457.0,368.8h1v1h-1zM450.0,309.2h1v1h-1zM454.3,390.3h1v1h-1zM450.5,362.1h1v1h-1zM448.3,327.5h1v1h-1zM450.2,322.1h1v1h-1zM448.7,385.2h1v1h-1zM455.1,378.4h1v1h-1zM451.5,298.1h1v1h-1zM448.5,388.6h1v1h-1zM446.8,386.3h1v1h-1zM454.6,377.4h1v1h-1zM447.2,296.6h1v1h-1zM449.2,384.5h1v1h-1zM449.4,356.4h1v1h-1zM453.0,323.3h1v1h-1zM449.8,367.5h1v1h-1zM454.4,293.4h1v1h-1zM446.8,295.9h1v1h-1zM456.5,342.4h1v1h-1zM451.0,319.1h1v1h-1zM448.4,389.5h1v1h-1zM454.6,333.9h1v1h-1zM450.3,326.2h1v1h-1zM454.4,352.6h1v1h-1zM446.9,299.7h1v1h-1zM456.8,326.9h1v1h-1zM456.9,345.6h1v1h-1zM447.5,301.7h1v1h-1zM451.2,366.8h1v1h-1zM453.0,336.4h1v1h-1zM453.5,336.8h1v1h-1zM449.6,380.5h1v1h-1zM454.2,331.8h1v1h-1zM449.1,318.7h1v1h-1zM452.6,385.0h1v1h-1zM456.9,334.2h1v1h-1zM455.0,317.1h1v1h-1zM455.1,361.0h1v1h-1zM456.1,355.1h1v1h-1zM447.8,323.5h1v1h-1zM452.6,394.2h1v1h-1zM451.2,301.2h1v1h-1zM456.4,373.9h1v1h-1zM453.0,355.0h1v1h-1zM448.0,331.3h1v1h-1zM452.8,319.5h1v1h-1zM448.6,374.9h1v1h-1zM453.6,327.0h1v1h-1zM448.6,325.5h1v1h-1zM447.6,328.4h1v1h-1zM453.2,350.2h1v1h-1zM453.8,310.0h1v1h-1zM449.7,322.5h1v1h-1zM449.8,334.6h1v1h-1zM450.9,330.1h1v1h-1zM448.6,362.1h1v1h-1zM448.6,336.9h1v1h-1zM450.9,386.8h1v1h-1zM446.7,309.9h1v1h-1zM456.1,359.6h1v1h-1zM450.4,357.7h1v1h-1zM449.5,308.2h1v1h-1zM447.6,389.3h1v1h-1zM456.7,376.7h1v1h-1zM456.4,306.2h1v1h-1zM451.6,367.3h1v1h-1zM450.6,389.3h1v1h-1zM448.2,302.1h1v1h-1zM448.8,304.1h1v1h-1zM455.2,381.0h1v1h-1zM450.7,315.7h1v1h-1zM447.8,332.9h1v1h-1zM455.9,368.4h1v1h-1zM454.5,351.5h1v1h-1zM447.7,380.2h1v1h-1zM453.1,350.2h1v1h-1zM452.6,336.7h1v1h-1zM451.2,361.5h1v1h-1zM453.0,295.4h1v1h-1zM454.5,317.5h1v1h-1zM451.5,321.6h1v1h-1zM451.0,306.4h1v1h-1zM451.9,339.0h1v1h-1zM447.4,359.2h1v1h-1zM454.7,341.6h1v1h-1zM451.8,298.6h1v1h-1zM447.9,391.9h1v1h-1zM455.1,379.6h1v1h-1zM451.7,395.1h1v1h-1zM456.1,336.4h1v1h-1zM456.3,375.0h1v1h-1zM454.4,329.5h1v1h-1zM449.4,386.2h1v1h-1zM456.2,356.4h1v1h-1zM451.8,320.3h1v1h-1zM448.4,296.8h1v1h-1zM453.6,390.4h1v1h-1zM448.3,361.5h1v1h-1zM453.2,361.4h1v1h-1zM452.3,383.8h1v1h-1zM447.6,384.8h1v1h-1zM453.1,358.6h1v1h-1zM449.3,376.0h1v1h-1zM454.5,315.7h1v1h-1zM454.3,311.4h1v1h-1zM449.2,378.3h1v1h-1zM456.8,325.9h1v1h-1zM449.8,362.0h1v1h-1zM448.1,296.5h1v1h-1zM455.9,309.0h1v1h-1zM453.4,316.6h1v1h-1zM450.2,293.3h1v1h-1zM448.9,330.1h1v1h-1zM448.6,354.3h1v1h-1zM451.5,350.3h1v1h-1zM449.1,390.4h1v1h-1zM453.2,303.0h1v1h-1zM449.3,342.7h1v1h-1zM452.4,360.1h1v1h-1zM451.2,360.1h1v1h-1zM454.2,311.6h1v1h-1zM447.0,387.0h1v1h-1zM449.0,335.2h1v1h-1zM446.6,374.0h1v1h-1zM448.0,390.9h1v1h-1zM451.8,356.2h1v1h-1zM449.7,343.6h1v1h-1zM455.8,298.0h1v1h-1zM454.0,322.6h1v1h-1zM454.3,380.8h1v1h-1zM451.3,370.1h1v1h-1zM448.9,303.9h1v1h-1zM454.4,327.9h1v1h-1zM449.3,360.5h1v1h-1zM454.8,338.3h1v1h-1zM453.2,320.6h1v1h-1zM448.8,303.5h1v1h-1zM449.0,357.5h1v1h-1zM456.4,339.3h1v1h-1zM449.9,312.5h1v1h-1zM453.1,387.4h1v1h-1zM453.5,384.8h1v1h-1zM455.5,346.9h1v1h-1zM452.5,368.4h1v1h-1zM453.0,315.0h1v1h-1zM448.0,387.7h1v1h-1zM456.3,304.1h1v1h-1zM446.8,307.8h1v1h-1zM453.2,365.0h1v1h-1zM452.7,336.6h1v1h-1zM455.1,378.0h1v1h-1zM447.2,327.8h1v1h-1zM447.6,391.1h1v1h-1zM446.9,304.6h1v1h-1zM455.0,305.4h1v1h-1zM449.5,354.1h1v1h-1zM454.5,303.2h1v1h-1zM450.9,326.2h1v1h-1zM449.5,319.7h1v1h-1zM450.4,304.7h1v1h-1zM451.8,393.3h1v1h-1zM450.8,332.6h1v1h-1zM450.1,373.4h1v1h-1zM452.1,333.0h1v1h-1zM447.5,382.7h1v1h-1zM448.6,338.0h1v1h-1zM456.8,338.6h1v1h-1zM451.7,344.0h1v1h-1zM450.1,349.5h1v1h-1zM449.2,365.2h1v1h-1zM453.8,333.6h1v1h-1zM453.2,304.4h1v1h-1zM453.8,374.9h1v1h-1zM453.1,355.1h1v1h-1zM450.6,334.7h1v1h-1zM446.8,384.1h1v1h-1zM456.0,320.4h1v1h-1zM455.8,332.4h1v1h-1zM452.1,340.9h1v1h-1zM454.4,365.5h1v1h-1zM448.1,324.0h1v1h-1zM453.5,356.2h1v1h-1zM454.6,350.9h1v1h-1zM451.4,306.1h1v1h-1zM449.0,361.9h1v1h-1zM453.9,324.4h1v1h-1zM449.1,345.9h1v1h-1zM448.2,347.3h1v1h-1zM456.7,312.7h1v1h-1zM447.6,349.9h1v1h-1zM456.8,358.0h1v1h-1zM454.2,352.7h1v1h-1zM453.2,313.4h1v1h-1zM450.6,314.5h1v1h-1zM454.8,334.5h1v1h-1zM451.4,300.6h1v1h-1zM450.7,355.8h1v1h-1zM456.0,337.3h1v1h-1zM454.4,352.7h1v1h-1zM454.1,316.8h1v1h-1zM455.5,343.5h1v1h-1zM453.2,297.5h1v1h-1zM453.1,325.6h1v1h-1zM454.7,336.6h1v1h-1zM450.9,323.9h1v1h-1zM450.8,357.6h1v1h-1zM456.3,323.1h1v1h-1zM454.7,361.1h1v1h-1zM456.7,343.9h1v1h-1zM448.2,349.5h1v1h-1zM447.6,366.7h1v1h-1zM454.0,349.3h1v1h-1zM455.2,359.5h1v1h-1zM456.5,335.7h1v1h-1zM450.6,364.2h1v1h-1zM447.8,325.9h1v1h-1zM449.4,331.9h1v1h-1zM450.9,294.4h1v1h-1zM450.2,365.6h1v1h-1zM454.3,316.3h1v1h-1zM452.0,344.4h1v1h-1zM450.6,376.4h1v1h-1zM454.7,306.4h1v1h-1zM452.4,318.0h1v1h-1zM450.2,393.2h1v1h-1zM455.1,315.5h1v1h-1zM452.3,316.1h1v1h-1zM450.2,379.7h1v1h-1zM449.3,341.7h1v1h-1zM451.0,319.4h1v1h-1zM454.1,293.3h1v1h-1zM449.7,318.5h1v1h-1zM453.2,337.6h1v1h-1zM455.5,298.6h1v1h-1zM456.0,379.1h1v1h-1zM448.0,382.9h1v1h-1zM446.6,334.4h1v1h-1zM453.4,334.0h1v1h-1zM448.0,303.6h1v1h-1zM450.1,373.7h1v1h-1zM454.8,387.0h1v1h-1zM452.9,385.7h1v1h-1zM454.8,310.4h1v1h-1zM452.1,365.1h1v1h-1zM449.0,320.5h1v1h-1zM447.1,344.3h1v1h-1zM451.7,308.0h1v1h-1zM455.6,349.1h1v1h-1zM451.4,380.4h1v1h-1zM455.3,362.2h1v1h-1zM456.6,336.6h1v1h-1zM453.2,359.3h1v1h-1zM453.7,356.4h1v1h-1zM450.0,357.7h1v1h-1zM455.9,307.5h1v1h-1zM453.1,367.7h1v1h-1zM450.3,382.6h1v1h-1zM454.6,347.7h1v1h-1zM450.9,338.3h1v1h-1zM449.6,379.0h1v1h-1zM450.7,335.4h1v1h-1zM451.8,321.3h1v1h-1zM450.0,311.4h1v1h-1zM452.7,324.1h1v1h-1zM454.7,299.4h1v1h-1zM455.8,368.2h1v1h-1zM449.7,298.2h1v1h-1zM456.2,312.8h1v1h-1zM456.1,312.3h1v1h-1zM453.0,299.0h1v1h-1zM453.7,325.8h1v1h-1zM451.3,362.4h1v1h-1zM447.6,304.3h1v1h-1zM454.6,296.8h1v1h-1zM455.1,323.5h1v1h-1zM452.4,316.7h1v1h-1zM450.9,324.4h1v1h-1zM453.2,337.8h1v1h-1zM446.9,369.1h1v1h-1zM452.5,377.3h1v1h-1zM451.2,348.7h1v1h-1zM452.7,333.3h1v1h-1zM450.8,366.7h1v1h-1zM448.7,360.0h1v1h-1zM446.6,294.6h1v1h-1zM447.8,333.8h1v1h-1zM447.9,382.0h1v1h-1zM449.0,367.8h1v1h-1zM448.5,365.0h1v1h-1zM454.0,373.5h1v1h-1zM453.1,336.0h1v1h-1zM451.3,326.6h1v1h-1zM454.0,335.7h1v1h-1zM453.3,294.5h1v1h-1zM454.2,325.4h1v1h-1zM451.6,382.5h1v1h-1zM452.5,331.2h1v1h-1zM448.0,363.4h1v1h-1zM453.1,313.0h1v1h-1zM454.8,333.1h1v1h-1zM454.7,365.7h1v1h-1zM447.1,323.4h1v1h-1zM450.0,323.3h1v1h-1zM449.7,354.6h1v1h-1zM450.5,385.4h1v1h-1zM452.8,306.6h1v1h-1zM446.5,344.9h1v1h-1zM452.7,336.9h1v1h-1zM455.8,317.5h1v1h-1zM455.0,379.7h1v1h-1zM455.4,318.7h1v1h-1zM453.7,328.3h1v1h-1zM452.3,331.1h1v1h-1zM448.6,346.4h1v1h-1zM452.9,354.7h1v1h-1zM451.4,329.5h1v1h-1zM454.4,319.5h1v1h-1zM455.0,326.6h1v1h-1zM448.9,340.2h1v1h-1zM455.8,386.3h1v1h-1zM452.7,342.6h1v1h-1zM448.4,313.0h1v1h-1zM450.7,315.6h1v1h-1zM447.0,308.5h1v1h-1zM450.4,362.8h1v1h-1zM454.8,358.8h1v1h-1zM450.1,355.1h1v1h-1zM446.9,295.1h1v1h-1zM452.5,357.4h1v1h-1zM451.0,374.0h1v1h-1zM454.6,315.0h1v1h-1zM446.9,356.8h1v1h-1zM447.4,311.8h1v1h-1zM455.6,351.0h1v1h-1zM456.1,391.5h1v1h-1zM450.7,355.2h1v1h-1zM449.2,392.8h1v1h-1zM456.5,359.6h1v1h-1zM450.6,332.9h1v1h-1zM456.6,309.6h1v1h-1zM449.2,338.7h1v1h-1zM456.0,386.9h1v1h-1zM447.0,344.6h1v1h-1zM456.8,328.0h1v1h-1zM454.4,308.1h1v1h-1zM453.6,301.1h1v1h-1zM454.5,354.5h1v1h-1zM449.2,326.7h1v1h-1zM448.3,343.1h1v1h-1zM453.6,307.9h1v1h-1zM448.5,367.6h1v1h-1zM448.8,389.5h1v1h-1zM448.0,373.9h1v1h-1zM456.3,303.1h1v1h-1zM453.1,296.9h1v1h-1zM455.1,328.3h1v1h-1zM448.0,358.3h1v1h-1zM454.0,298.9h1v1h-1zM455.6,308.0h1v1h-1zM448.1,335.8h1v1h-1zM450.0,380.3h1v1h-1zM449.8,344.1h1v1h-1zM447.1,391.7h1v1h-1zM453.5,384.8h1v1h-1zM449.5,342.7h1v1h-1zM450.3,314.0h1v1h-1zM447.5,396.6h1v1h-1zM447.1,386.2h1v1h-1zM449.6,336.7h1v1h-1zM450.1,384.3h1v1h-1zM455.2,293.2h1v1h-1zM451.1,312.3h1v1h-1zM448.8,342.1h1v1h-1zM448.4,307.4h1v1h-1zM447.3,333.3h1v1h-1zM451.7,356.3h1v1h-1zM452.9,314.4h1v1h-1zM455.0,320.7h1v1h-1zM447.2,314.0h1v1h-1zM447.1,302.6h1v1h-1zM450.0,360.1h1v1h-1zM446.7,357.4h1v1h-1zM451.5,314.6h1v1h-1zM455.2,335.7h1v1h-1zM450.4,310.0h1v1h-1zM452.0,293.5h1v1h-1zM447.8,346.6h1v1h-1zM455.1,354.0h1v1h-1zM450.5,319.7h1v1h-1zM447.1,374.4h1v1h-1zM451.9,366.5h1v1h-1zM446.7,348.9h1v1h-1zM448.8,328.7h1v1h-1zM449.1,303.7h1v1h-1zM453.8,348.9h1v1h-1zM452.8,294.8h1v1h-1zM453.9,347.4h1v1h-1zM454.0,383.4h1v1h-1zM451.7,305.8h1v1h-1zM447.8,322.1h1v1h-1zM452.7,307.2h1v1h-1zM448.0,339.6h1v1h-1zM448.2,370.6h1v1h-1zM450.9,361.2h1v1h-1zM452.0,327.5h1v1h-1zM454.7,390.9h1v1h-1zM450.0,318.0h1v1h-1zM454.9,395.0h1v1h-1zM447.1,357.4h1v1h-1zM456.3,392.6h1v1h-1zM453.1,336.9h1v1h-1zM447.2,348.2h1v1h-1zM446.7,345.5h1v1h-1zM454.7,393.8h1v1h-1zM455.8,357.1h1v1h-1zM449.3,359.7h1v1h-1zM456.2,349.4h1v1h-1zM451.1,337.3h1v1h-1zM449.5,368.9h1v1h-1zM447.8,360.3h1v1h-1zM451.9,392.4h1v1h-1zM452.1,341.5h1v1h-1zM447.9,305.9h1v1h-1zM449.5,335.3h1v1h-1zM452.2,302.1h1v1h-1zM453.3,311.4h1v1h-1zM451.3,366.9h1v1h-1zM451.4,356.7h1v1h-1zM448.8,318.2h1v1h-1zM452.6,332.8h1v1h-1zM455.5,329.7h1v1h-1zM451.7,350.9h1v1h-1zM449.6,395.7h1v1h-1zM448.2,315.9h1v1h-1zM451.1,383.6h1v1h-1zM451.1,333.3h1v1h-1zM456.6,351.8h1v1h-1zM448.1,349.2h1v1h-1zM453.6,329.7h1v1h-1zM451.9,365.8h1v1h-1zM454.3,298.4h1v1h-1zM456.1,344.5h1v1h-1zM446.5,383.6h1v1h-1zM456.6,311.2h1v1h-1zM454.7,336.5h1v1h-1zM452.9,321.7h1v1h-1zM451.3,340.0h1v1h-1zM452.3,330.5h1v1h-1zM454.8,326.5h1v1h-1zM451.7,362.3h1v1h-1zM449.7,312.2h1v1h-1zM452.6,352.8h1v1h-1zM449.9,388.7h1v1h-1zM448.6,371.9h1v1h-1zM446.6,387.7h1v1h-1zM451.7,351.8h1v1h-1zM453.7,346.8h1v1h-1zM452.7,330.2h1v1h-1zM453.6,391.6h1v1h-1zM450.4,303.3h1v1h-1zM452.5,351.4h1v1h-1zM456.6,315.1h1v1h-1zM453.1,338.8h1v1h-1zM455.1,319.7h1v1h-1zM456.8,326.1h1v1h-1zM451.9,364.0h1v1h-1zM453.7,386.0h1v1h-1zM450.9,391.7h1v1h-1zM451.9,323.2h1v1h-1zM448.4,312.6h1v1h-1zM452.8,334.1h1v1h-1zM453.2,396.3h1v1h-1zM454.8,335.8h1v1h-1zM446.5,364.8h1v1h-1zM452.7,380.6h1v1h-1zM452.3,347.4h1v1h-1zM452.1,360.3h1v1h-1zM452.5,366.2h1v1h-1zM448.1,305.6h1v1h-1zM448.3,346.8h1v1h-1zM452.9,378.6h1v1h-1zM447.2,344.8h1v1h-1zM449.9,373.1h1v1h-1zM449.3,327.8h1v1h-1zM452.6,387.0h1v1h-1zM450.5,339.8h1v1h-1zM452.6,385.6h1v1h-1zM451.1,350.0h1v1h-1zM456.3,337.4h1v1h-1zM449.8,345.2h1v1h-1zM452.8,346.3h1v1h-1zM451.7,317.1h1v1h-1zM454.0,338.5h1v1h-1zM455.7,325.2h1v1h-1zM449.1,375.4h1v1h-1zM448.5,330.3h1v1h-1zM449.6,363.2h1v1h-1zM452.1,304.9h1v1h-1zM447.2,334.9h1v1h-1zM450.2,378.9h1v1h-1zM449.5,312.9h1v1h-1zM453.5,296.6h1v1h-1zM453.9,309.2h1v1h-1zM455.3,321.0h1v1h-1zM455.3,339.1h1v1h-1zM454.1,350.5h1v1h-1zM448.7,392.7h1v1h-1zM451.8,357.8h1v1h-1zM447.9,340.1h1v1h-1zM452.7,333.6h1v1h-1zM452.9,318.6h1v1h-1zM447.8,383.7h1v1h-1zM449.3,349.4h1v1h-1zM450.5,393.0h1v1h-1zM450.6,317.0h1v1h-1zM455.4,311.4h1v1h-1zM447.6,361.9h1v1h-1zM451.8,330.6h1v1h-1zM449.8,299.9h1v1h-1zM454.0,306.1h1v1h-1zM456.0,335.0h1v1h-1zM455.8,328.1h1v1h-1zM446.8,351.5h1v1h-1zM453.5,352.8h1v1h-1zM453.4,335.9h1v1h-1zM450.2,337.9h1v1h-1zM448.4,387.8h1v1h-1zM454.2,387.9h1v1h-1zM448.2,344.6h1v1h-1zM450.5,324.5h1v1h-1zM453.2,325.3h1v1h-1zM452.5,380.3h1v1h-1zM449.2,339.3h1v1h-1zM450.2,364.2h1v1h-1zM454.7,379.8h1v1h-1zM455.5,297.5h1v1h-1zM447.7,356.0h1v1h-1zM448.7,343.1h1v1h-1zM453.8,337.4h1v1h-1zM455.2,370.7h1v1h-1zM456.4,302.4h1v1h-1zM453.8,389.7h1v1h-1zM455.2,326.4h1v1h-1zM453.8,329.1h1v1h-1zM456.2,346.2h1v1h-1zM447.0,372.2h1v1h-1zM455.0,339.9h1v1h-1zM456.7,349.8h1v1h-1zM447.1,318.4h1v1h-1zM448.6,335.8h1v1h-1zM453.9,307.2h1v1h-1zM449.0,332.0h1v1h-1zM451.2,346.6h1v1h-1zM455.8,324.3h1v1h-1zM450.0,351.6h1v1h-1zM452.3,355.0h1v1h-1zM452.8,356.1h1v1h-1zM455.2,372.7h1v1h-1zM450.3,323.1h1v1h-1zM449.4,299.3h1v1h-1zM451.2,366.0h1v1h-1zM451.4,326.7h1v1h-1zM447.3,310.5h1v1h-1zM454.4,396.2h1v1h-1zM456.8,367.6h1v1h-1zM451.6,304.3h1v1h-1zM452.2,312.7h1v1h-1zM453.3,388.6h1v1h-1zM456.3,371.1h1v1h-1zM448.0,337.2h1v1h-1zM455.3,373.5h1v1h-1zM453.2,312.3h1v1h-1zM456.2,356.9h1v1h-1zM455.2,374.6h1v1h-1zM455.2,329.7h1v1h-1zM452.3,331.3h1v1h-1zM449.0,379.5h1v1h-1zM453.1,352.0h1v1h-1zM453.9,352.1h1v1h-1zM451.7,366.0h1v1h-1zM452.6,324.2h1v1h-1zM448.2,364.6h1v1h-1zM447.4,393.9h1v1h-1zM448.5,338.7h1v1h-1zM446.5,327.1h1v1h-1zM451.0,365.5h1v1h-1zM451.9,361.8h1v1h-1zM451.1,328.2h1v1h-1zM455.2,301.3h1v1h-1zM451.2,348.5h1v1h-1zM448.6,329.2h1v1h-1zM451.3,326.7h1v1h-1zM456.0,356.1h1v1h-1zM455.0,326.7h1v1h-1zM452.9,363.4h1v1h-1zM456.5,352.4h1v1h-1zM449.6,360.3h1v1h-1zM446.8,385.1h1v1h-1zM451.2,363.6h1v1h-1zM450.4,361.7h1v1h-1zM452.1,336.3h1v1h-1zM447.7,334.2h1v1h-1zM452.3,385.6h1v1h-1zM449.2,382.7h1v1h-1zM449.1,348.2h1v1h-1zM448.9,350.6h1v1h-1zM451.9,304.8h1v1h-1zM450.8,301.3h1v1h-1zM455.6,338.7h1v1h-1zM454.4,367.3h1v1h-1zM454.1,396.0h1v1h-1zM450.6,379.3h1v1h-1zM452.4,392.8h1v1h-1zM447.1,366.8h1v1h-1zM446.7,331.7h1v1h-1zM449.6,315.2h1v1h-1zM451.0,371.5h1v1h-1zM452.4,299.2h1v1h-1zM455.6,301.0h1v1h-1zM450.1,370.5h1v1h-1zM447.8,316.9h1v1h-1zM456.5,369.7h1v1h-1zM447.0,293.4h1v1h-1zM454.9,364.0h1v1h-1zM453.6,389.2h1v1h-1zM451.2,313.1h1v1h-1zM452.6,356.6h1v1h-1zM447.7,295.2h1v1h-1zM449.5,350.5h1v1h-1zM450.5,367.8h1v1h-1zM452.2,384.0h1v1h-1zM446.6,360.1h1v1h-1zM451.8,308.7h1v1h-1zM455.1,353.5h1v1h-1zM450.6,341.0h1v1h-1zM455.4,309.5h1v1h-1zM452.9,383.8h1v1h-1zM448.8,327.2h1v1h-1zM448.3,330.8h1v1h-1zM452.6,341.6h1v1h-1zM446.6,329.8h1v1h-1zM446.7,327.7h1v1h-1zM447.0,395.6h1v1h-1zM449.4,362.8h1v1h-1zM449.3,345.0h1v1h-1zM456.5,347.9h1v1h-1zM446.9,333.3h1v1h-1zM455.7,373.2h1v1h-1zM450.3,312.7h1v1h-1zM455.7,375.7h1v1h-1zM453.7,310.0h1v1h-1zM454.3,372.4h1v1h-1zM450.2,359.1h1v1h-1zM447.1,335.2h1v1h-1zM456.9,326.6h1v1h-1zM449.1,331.2h1v1h-1zM447.9,329.3h1v1h-1zM451.3,383.6h1v1h-1zM449.7,352.1h1v1h-1zM449.7,299.9h1v1h-1zM452.3,368.6h1v1h-1zM452.6,305.8h1v1h-1zM452.6,311.6h1v1h-1zM450.2,386.8h1v1h-1zM455.9,343.4h1v1h-1zM446.7,319.8h1v1h-1zM453.9,320.9h1v1h-1zM448.6,334.6h1v1h-1zM455.6,360.2h1v1h-1zM456.6,351.3h1v1h-1zM447.3,377.4h1v1h-1zM447.9,354.2h1v1h-1zM455.7,348.8h1v1h-1zM456.2,320.7h1v1h-1zM454.4,327.0h1v1h-1zM450.0,304.9h1v1h-1zM447.0,336.1h1v1h-1zM450.0,359.4h1v1h-1zM449.2,355.2h1v1h-1zM456.2,294.4h1v1h-1zM447.1,395.7h1v1h-1zM447.5,333.6h1v1h-1zM454.6,307.8h1v1h-1zM450.9,377.7h1v1h-1zM452.3,354.2h1v1h-1zM452.8,314.5h1v1h-1zM449.2,370.1h1v1h-1zM449.7,341.2h1v1h-1zM452.0,317.3h1v1h-1zM447.9,343.5h1v1h-1zM453.4,342.5h1v1h-1zM447.4,371.7h1v1h-1zM447.1,307.0h1v1h-1zM448.4,350.7h1v1h-1zM448.4,308.5h1v1h-1zM446.8,351.0h1v1h-1zM449.0,330.1h1v1h-1zM450.1,300.4h1v1h-1zM451.3,337.6h1v1h-1zM447.6,387.0h1v1h-1zM450.7,371.7h1v1h-1zM447.1,352.4h1v1h-1zM456.2,335.6h1v1h-1zM449.1,324.5h1v1h-1zM448.9,338.1h1v1h-1zM453.2,372.0h1v1h-1zM448.8,396.4h1v1h-1zM455.6,309.3h1v1h-1zM449.3,324.1h1v1h-1zM450.0,346.8h1v1h-1zM448.2,385.7h1v1h-1zM452.8,318.4h1v1h-1zM455.8,353.2h1v1h-1zM450.3,384.9h1v1h-1zM455.6,348.2h1v1h-1zM449.6,324.9h1v1h-1zM456.7,304.6h1v1h-1zM448.1,387.8h1v1h-1zM453.7,350.3h1v1h-1zM456.1,328.3h1v1h-1zM455.8,346.5h1v1h-1zM454.8,356.0h1v1h-1zM446.9,341.3h1v1h-1zM451.0,317.1h1v1h-1zM456.9,295.1h1v1h-1zM447.8,384.4h1v1h-1zM451.0,307.1h1v1h-1zM448.1,364.3h1v1h-1zM450.2,324.7h1v1h-1zM450.2,388.5h1v1h-1zM455.8,393.6h1v1h-1zM449.4,337.3h1v1h-1zM447.2,320.5h1v1h-1zM450.8,345.9h1v1h-1zM446.6,330.7h1v1h-1zM452.3,318.8h1v1h-1zM456.8,310.7h1v1h-1zM449.8,332.1h1v1h-1zM450.6,394.2h1v1h-1zM448.0,335.6h1v1h-1zM446.6,311.7h1v1h-1zM452.9,355.2h1v1h-1zM448.6,318.0h1v1h-1zM454.7,380.7h1v1h-1zM447.0,328.5h1v1h-1zM452.3,320.5h1v1h-1zM446.5,394.0h1v1h-1zM455.5,370.9h1v1h-1zM456.9,354.6h1v1h-1zM454.3,358.5h1v1h-1zM450.6,367.1h1v1h-1zM453.6,356.7h1v1h-1zM452.2,358.4h1v1h-1zM449.3,356.7h1v1h-1zM452.0,296.4h1v1h-1zM448.0,316.0h1v1h-1zM452.1,344.3h1v1h-1zM455.0,347.9h1v1h-1zM455.1,310.9h1v1h-1zM455.2,359.6h1v1h-1zM450.5,342.6h1v1h-1zM455.1,331.7h1v1h-1zM449.1,309.0h1v1h-1zM454.9,330.1h1v1h-1zM447.4,340.1h1v1h-1zM453.8,396.7h1v1h-1zM454.9,342.7h1v1h-1zM450.4,360.5h1v1h-1zM450.4,317.7h1v1h-1zM446.7,332.6h1v1h-1zM447.1,352.3h1v1h-1zM449.4,367.7h1v1h-1zM455.3,318.2h1v1h-1zM455.5,359.2h1v1h-1zM454.8,337.0h1v1h-1zM450.4,369.1h1v1h-1zM450.4,339.0h1v1h-1zM453.3,329.9h1v1h-1zM450.2,363.0h1v1h-1zM456.2,353.2h1v1h-1zM454.0,394.0h1v1h-1zM450.0,362.2h1v1h-1zM450.5,371.6h1v1h-1zM456.0,344.6h1v1h-1zM451.4,371.8h1v1h-1zM450.9,380.3h1v1h-1zM451.1,385.6h1v1h-1zM455.2,346.2h1v1h-1zM454.3,343.0h1v1h-1zM453.6,297.2h1v1h-1zM454.6,373.0h1v1h-1zM447.3,316.0h1v1h-1zM454.4,346.4h1v1h-1zM453.7,298.7h1v1h-1zM451.6,344.1h1v1h-1zM450.9,364.9h1v1h-1zM455.1,396.8h1v1h-1zM451.9,351.7h1v1h-1zM449.4,395.8h1v1h-1zM449.2,325.6h1v1h-1zM452.3,356.0h1v1h-1zM447.0,336.7h1v1h-1zM454.9,383.1h1v1h-1zM447.0,336.6h1v1h-1zM451.4,331.9h1v1h-1zM450.3,353.7h1v1h-1zM448.6,354.8h1v1h-1zM449.8,329.5h1v1h-1zM452.4,335.5h1v1h-1zM454.9,321.4h1v1h-1zM454.9,366.9h1v1h-1zM456.3,340.3h1v1h-1zM447.1,384.3h1v1h-1zM447.0,359.5h1v1h-1zM447.3,334.5h1v1h-1zM456.2,311.7h1v1h-1zM451.7,376.3h1v1h-1zM448.7,327.5h1v1h-1zM448.0,318.0h1v1h-1zM447.5,340.6h1v1h-1zM456.5,349.0h1v1h-1zM449.2,361.5h1v1h-1zM447.1,331.5h1v1h-1zM446.9,323.5h1v1h-1zM452.6,332.3h1v1h-1zM448.1,351.3h1v1h-1zM449.9,355.6h1v1h-1zM456.8,364.3h1v1h-1zM450.5,296.4h1v1h-1zM448.8,375.4h1v1h-1zM451.4,302.7h1v1h-1zM447.7,302.0h1v1h-1zM447.8,354.1h1v1h-1z" fill="#62c09c" fill-opacity="0.75"/>
<line x1="445.5" y1="293.7" x2="445.5" y2="398.2" stroke="#555" stroke-width="0.7"/>
<line x1="441.5" y1="293.7" x2="449.5" y2="293.7" stroke="#555" stroke-width="0.7"/>
<line x1="441.5" y1="398.2" x2="449.5" y2="398.2" stroke="#555" stroke-width="0.7"/>
<rect x="438.6" y="321.3" width="13.9" height="33.9" fill="none" stroke="#444" stroke-width="0.8"/>
<line x1="438.6" y1="337.4" x2="452.5" y2="337.4" stroke="#555" stroke-width="0.7"/>
<path d="M442.8,337.8L447.2,342.2M447.2,337.8L442.8,342.2" stroke="#000" stroke-width="2.3" stroke-linecap="round"/>
<path d="M494.5,297.6 L494.4,299.1 L494.3,301.2 L494.2,303.6 L493.9,305.9 L493.6,307.9 L493.1,309.4 L492.5,310.6 L491.8,311.7 L491.1,312.8 L490.5,314.0 L490.0,315.2 L489.6,316.4 L489.2,317.6 L488.7,318.9 L488.2,320.4 L487.6,322.0 L486.9,323.8 L486.1,325.6 L485.3,327.5 L484.4,329.5 L483.4,331.6 L482.3,333.8 L481.1,336.0 L480.1,338.2 L479.1,340.2 L478.3,342.0 L477.5,343.8 L476.8,345.4 L476.2,347.0 L475.8,348.5 L475.6,350.0 L475.5,351.5 L475.5,353.0 L475.7,354.3 L476.0,355.3 L476.4,356.0 L476.9,356.3 L477.6,356.5 L478.3,356.9 L479.1,357.6 L480.1,358.8 L481.2,360.3 L482.3,361.9 L483.4,363.6 L484.4,365.2 L485.2,366.6 L485.8,367.9 L486.4,369.2 L486.9,370.8 L487.5,372.8 L488.1,375.4 L488.7,378.4 L489.4,381.7 L489.9,384.9 L490.5,388.0 L491.0,390.8 L491.5,393.6 L492.0,396.3 L492.4,399.0 L492.8,401.7 L493.2,404.6 L493.6,407.8 L494.0,410.8 L494.3,413.5 L494.5,415.3Z" fill="#e9936f" stroke="#555" stroke-width="0.6"/>
<path d="M499.2,334.8h1v1h-1zM500.7,350.6h1v1h-1zM504.6,375.8h1v1h-1zM496.4,359.5h1v1h-1zM504.9,332.8h1v1h-1zM497.9,367.7h1v1h-1zM505.7,384.8h1v1h-1zM502.4,399.5h1v1h-1zM500.2,339.0h1v1h-1zM497.4,379.5h1v1h-1zM498.6,358.8h1v1h-1zM496.5,361.4h1v1h-1zM501.8,384.0h1v1h-1zM500.9,309.3h1v1h-1zM496.9,370.0h1v1h-1zM499.4,340.9h1v1h-1zM505.4,359.8h1v1h-1zM504.7,389.4h1v1h-1zM496.5,320.8h1v1h-1zM496.7,364.9h1v1h-1zM496.7,359.1h1v1h-1zM501.1,322.2h1v1h-1zM497.6,342.3h1v1h-1zM496.8,326.1h1v1h-1zM500.8,392.3h1v1h-1zM501.5,384.3h1v1h-1zM497.9,357.6h1v1h-1zM495.8,363.0h1v1h-1zM498.6,357.3h1v1h-1zM496.4,367.9h1v1h-1zM501.8,329.2h1v1h-1zM498.1,349.8h1v1h-1zM495.9,403.3h1v1h-1zM502.8,343.4h1v1h-1zM500.3,327.3h1v1h-1zM495.6,389.8h1v1h-1zM496.4,330.5h1v1h-1zM502.6,378.6h1v1h-1zM497.0,340.1h1v1h-1zM499.0,327.7h1v1h-1zM506.0,365.3h1v1h-1zM503.7,323.2h1v1h-1zM503.4,355.7h1v1h-1zM504.4,362.9h1v1h-1zM496.5,384.9h1v1h-1zM505.6,343.4h1v1h-1zM503.3,364.0h1v1h-1zM505.3,388.0h1v1h-1zM503.9,350.5h1v1h-1zM504.2,349.1h1v1h-1zM501.1,332.9h1v1h-1zM503.8,401.9h1v1h-1zM497.9,389.0h1v1h-1zM498.0,351.3h1v1h-1zM502.7,395.9h1v1h-1zM503.8,318.3h1v1h-1zM505.4,379.2h1v1h-1zM502.4,343.2h1v1h-1zM499.1,357.9h1v1h-1zM503.8,388.8h1v1h-1zM495.7,354.4h1v1h-1zM499.9,386.4h1v1h-1zM497.7,330.4h1v1h-1zM502.0,389.6h1v1h-1zM498.3,314.7h1v1h-1zM500.1,357.9h1v1h-1zM502.7,356.4h1v1h-1zM497.4,387.5h1v1h-1zM499.3,400.8h1v1h-1zM501.9,394.1h1v1h-1zM499.6,340.2h1v1h-1zM500.8,400.6h1v1h-1zM497.2,369.3h1v1h-1zM497.3,306.0h1v1h-1zM500.3,395.3h1v1h-1zM496.6,351.9h1v1h-1zM500.9,391.4h1v1h-1zM504.9,397.9h1v1h-1zM496.3,375.1h1v1h-1zM502.1,371.5h1v1h-1zM502.6,357.7h1v1h-1zM500.7,373.4h1v1h-1zM496.1,402.6h1v1h-1zM500.2,339.2h1v1h-1zM504.9,323.1h1v1h-1zM498.9,352.0h1v1h-1zM504.9,400.3h1v1h-1zM501.6,364.2h1v1h-1zM503.3,344.8h1v1h-1zM498.4,345.4h1v1h-1zM499.9,344.1h1v1h-1zM502.3,382.0h1v1h-1zM505.6,341.2h1v1h-1zM502.8,330.3h1v1h-1zM501.5,322.0h1v1h-1zM497.0,358.2h1v1h-1zM497.2,392.9h1v1h-1zM497.3,330.0h1v1h-1zM498.6,311.3h1v1h-1zM505.6,401.7h1v1h-1zM505.4,336.6h1v1h-1zM500.1,337.8h1v1h-1zM499.6,331.8h1v1h-1zM498.3,401.4h1v1h-1zM500.2,396.0h1v1h-1zM498.8,324.0h1v1h-1zM500.4,381.0h1v1h-1zM503.4,372.4h1v1h-1zM505.1,341.9h1v1h-1zM502.1,334.5h1v1h-1zM495.9,382.4h1v1h-1zM501.4,319.4h1v1h-1zM498.3,399.1h1v1h-1zM501.3,312.9h1v1h-1zM504.0,340.8h1v1h-1zM502.3,336.4h1v1h-1zM502.2,329.0h1v1h-1zM505.4,355.8h1v1h-1zM499.1,327.5h1v1h-1zM499.2,385.8h1v1h-1zM501.1,392.3h1v1h-1zM505.0,372.3h1v1h-1zM496.2,339.5h1v1h-1zM504.4,355.7h1v1h-1zM501.5,329.8h1v1h-1zM503.8,389.6h1v1h-1zM497.1,340.2h1v1h-1zM504.9,352.8h1v1h-1zM503.3,322.8h1v1h-1zM496.9,321.8h1v1h-1zM502.9,311.1h1v1h-1zM501.8,350.6h1v1h-1zM498.4,361.1h1v1h-1zM496.5,328.2h1v1h-1zM499.3,396.0h1v1h-1zM496.3,345.0h1v1h-1zM502.1,351.1h1v1h-1zM496.1,333.2h1v1h-1zM504.0,360.9h1v1h-1zM496.7,387.9h1v1h-1zM499.1,368.3h1v1h-1zM497.8,362.3h1v1h-1zM497.7,353.8h1v1h-1zM495.8,363.1h1v1h-1zM495.8,323.4h1v1h-1zM496.2,348.0h1v1h-1zM499.7,346.8h1v1h-1zM497.9,364.3h1v1h-1zM506.0,319.6h1v1h-1zM505.9,373.5h1v1h-1zM496.9,353.3h1v1h-1zM502.9,373.6h1v1h-1zM497.5,339.8h1v1h-1zM497.5,334.0h1v1h-1zM500.9,346.7h1v1h-1zM502.9,325.6h1v1h-1zM501.4,332.3h1v1h-1zM505.5,392.5h1v1h-1zM503.1,345.1h1v1h-1zM495.6,367.5h1v1h-1zM503.1,358.4h1v1h-1zM497.2,350.0h1v1h-1zM505.9,375.1h1v1h-1zM497.3,310.4h1v1h-1zM503.9,395.0h1v1h-1zM496.6,316.1h1v1h-1zM500.4,383.0h1v1h-1zM500.5,389.4h1v1h-1zM496.8,328.8h1v1h-1zM500.8,361.8h1v1h-1zM495.7,330.9h1v1h-1zM505.8,337.2h1v1h-1zM499.5,378.5h1v1h-1zM497.7,354.7h1v1h-1zM495.6,343.5h1v1h-1zM503.8,355.0h1v1h-1zM504.8,310.3h1v1h-1zM498.9,313.0h1v1h-1zM502.2,373.4h1v1h-1zM505.0,330.1h1v1h-1zM501.7,316.3h1v1h-1zM500.3,325.8h1v1h-1zM502.9,369.0h1v1h-1zM503.1,312.7h1v1h-1zM499.7,352.6h1v1h-1zM503.0,333.2h1v1h-1zM502.8,370.3h1v1h-1zM505.0,320.0h1v1h-1zM498.0,312.2h1v1h-1zM503.8,355.3h1v1h-1zM502.2,376.5h1v1h-1zM505.7,362.7h1v1h-1zM495.9,354.6h1v1h-1zM505.3,329.8h1v1h-1zM505.3,372.5h1v1h-1zM497.1,368.9h1v1h-1zM496.6,381.0h1v1h-1zM503.0,342.6h1v1h-1zM497.2,385.9h1v1h-1zM503.8,316.5h1v1h-1zM504.4,353.4h1v1h-1zM500.8,387.3h1v1h-1zM501.7,351.2h1v1h-1zM501.2,359.3h1v1h-1zM495.6,345.3h1v1h-1zM495.8,355.9h1v1h-1zM496.8,362.3h1v1h-1zM497.7,326.6h1v1h-1zM505.8,316.9h1v1h-1zM496.5,340.9h1v1h-1zM496.6,380.2h1v1h-1zM503.5,336.0h1v1h-1zM505.8,366.0h1v1h-1zM495.6,313.1h1v1h-1zM502.8,317.3h1v1h-1zM500.3,357.5h1v1h-1zM502.3,366.5h1v1h-1zM505.1,347.2h1v1h-1zM503.0,308.1h1v1h-1zM504.4,373.4h1v1h-1zM497.4,392.9h1v1h-1zM498.2,315.8h1v1h-1zM498.9,340.5h1v1h-1zM505.8,349.8h1v1h-1zM505.3,365.9h1v1h-1zM503.4,393.3h1v1h-1zM499.8,330.7h1v1h-1zM504.8,328.8h1v1h-1zM503.6,382.3h1v1h-1zM496.6,360.4h1v1h-1zM498.8,322.7h1v1h-1zM505.6,331.4h1v1h-1zM502.3,358.6h1v1h-1zM499.8,398.9h1v1h-1zM502.7,374.8h1v1h-1zM498.5,366.5h1v1h-1zM495.6,361.1h1v1h-1zM505.9,376.9h1v1h-1zM502.7,349.4h1v1h-1zM498.1,351.0h1v1h-1zM502.8,308.7h1v1h-1zM505.6,331.7h1v1h-1zM501.7,310.6h1v1h-1zM498.7,320.8h1v1h-1zM495.7,312.6h1v1h-1zM496.7,320.1h1v1h-1zM502.7,402.0h1v1h-1zM497.4,382.2h1v1h-1zM499.8,336.0h1v1h-1zM500.2,330.0h1v1h-1zM499.1,399.5h1v1h-1zM495.8,384.2h1v1h-1zM503.9,359.2h1v1h-1zM498.4,400.1h1v1h-1zM505.0,324.8h1v1h-1zM501.7,371.3h1v1h-1zM496.5,357.8h1v1h-1zM499.5,364.5h1v1h-1zM496.2,336.1h1v1h-1zM496.9,390.4h1v1h-1zM499.3,344.5h1v1h-1zM498.1,380.1h1v1h-1zM496.7,357.8h1v1h-1zM498.5,384.8h1v1h-1zM497.9,381.7h1v1h-1zM499.5,327.7h1v1h-1zM500.5,369.5h1v1h-1zM496.0,385.3h1v1h-1zM495.8,361.4h1v1h-1zM500.3,317.5h1v1h-1zM496.5,336.5h1v1h-1zM497.3,353.5h1v1h-1zM496.7,349.6h1v1h-1zM500.4,341.8h1v1h-1zM497.8,343.0h1v1h-1zM501.4,348.8h1v1h-1zM496.7,399.5h1v1h-1zM501.0,340.6h1v1h-1zM504.6,322.9h1v1h-1zM498.3,314.2h1v1h-1zM496.3,313.1h1v1h-1zM497.7,337.5h1v1h-1zM499.3,361.8h1v1h-1zM500.6,403.4h1v1h-1zM502.4,307.1h1v1h-1zM500.4,308.4h1v1h-1zM500.7,334.4h1v1h-1zM502.3,347.8h1v1h-1zM505.4,385.6h1v1h-1zM505.0,366.8h1v1h-1zM501.8,328.5h1v1h-1zM496.4,333.5h1v1h-1zM500.1,309.6h1v1h-1zM503.4,325.0h1v1h-1zM499.7,399.0h1v1h-1zM500.9,353.2h1v1h-1zM500.7,356.8h1v1h-1zM504.3,339.5h1v1h-1zM500.3,405.0h1v1h-1zM498.9,401.2h1v1h-1zM502.5,340.0h1v1h-1zM497.2,343.0h1v1h-1zM495.5,340.1h1v1h-1zM501.4,350.7h1v1h-1zM496.9,379.2h1v1h-1zM505.6,317.9h1v1h-1zM501.0,319.6h1v1h-1zM496.1,393.8h1v1h-1zM501.6,322.6h1v1h-1zM504.8,346.5h1v1h-1zM498.3,391.6h1v1h-1zM505.1,311.1h1v1h-1zM498.5,307.7h1v1h-1zM504.6,401.7h1v1h-1zM504.4,358.4h1v1h-1zM496.7,335.1h1v1h-1zM501.7,371.2h1v1h-1zM504.9,327.6h1v1h-1zM504.9,355.5h1v1h-1zM502.8,324.0h1v1h-1zM499.3,329.4h1v1h-1zM496.3,373.1h1v1h-1zM502.1,361.2h1v1h-1zM503.9,372.5h1v1h-1zM502.6,353.1h1v1h-1zM505.6,342.6h1v1h-1zM497.9,339.5h1v1h-1zM497.7,400.8h1v1h-1zM505.0,401.2h1v1h-1zM499.3,378.8h1v1h-1zM497.8,353.4h1v1h-1zM495.9,332.3h1v1h-1zM499.9,346.2h1v1h-1zM505.4,363.7h1v1h-1zM502.9,341.2h1v1h-1zM500.6,323.4h1v1h-1zM497.2,372.9h1v1h-1zM503.6,401.3h1v1h-1zM502.2,339.1h1v1h-1zM497.6,334.0h1v1h-1zM504.1,331.3h1v1h-1zM501.7,381.6h1v1h-1zM501.1,307.5h1v1h-1zM498.4,311.1h1v1h-1zM497.3,306.5h1v1h-1zM498.3,369.9h1v1h-1zM505.9,352.4h1v1h-1zM505.3,317.3h1v1h-1zM501.0,365.3h1v1h-1zM500.5,347.3h1v1h-1zM496.4,311.4h1v1h-1zM502.1,315.0h1v1h-1zM498.3,370.0h1v1h-1zM500.7,349.0h1v1h-1zM501.4,398.0h1v1h-1zM502.8,321.2h1v1h-1zM497.9,377.0h1v1h-1zM503.9,329.6h1v1h-1zM497.5,364.0h1v1h-1zM497.9,366.6h1v1h-1zM501.4,371.7h1v1h-1zM501.6,325.1h1v1h-1zM498.0,368.8h1v1h-1zM501.1,347.9h1v1h-1zM495.8,310.7h1v1h-1zM502.2,355.7h1v1h-1zM502.0,372.2h1v1h-1zM502.5,358.0h1v1h-1zM497.9,321.6h1v1h-1zM504.2,372.5h1v1h-1zM498.8,394.5h1v1h-1zM496.1,377.4h1v1h-1zM496.4,340.7h1v1h-1zM497.1,356.9h1v1h-1zM497.6,371.8h1v1h-1zM501.0,356.2h1v1h-1zM501.1,376.9h1v1h-1zM496.6,332.8h1v1h-1zM500.6,344.3h1v1h-1zM497.8,372.2h1v1h-1zM503.0,353.2h1v1h-1zM505.2,333.4h1v1h-1zM502.0,371.4h1v1h-1zM502.2,351.1h1v1h-1zM505.8,309.7h1v1h-1zM502.0,371.1h1v1h-1zM503.4,312.8h1v1h-1zM500.1,372.1h1v1h-1zM496.5,345.0h1v1h-1zM503.6,371.4h1v1h-1zM496.2,316.5h1v1h-1zM504.2,358.7h1v1h-1zM503.5,323.2h1v1h-1zM496.8,339.5h1v1h-1zM496.7,402.2h1v1h-1zM504.9,379.3h1v1h-1zM500.5,358.5h1v1h-1zM500.4,335.8h1v1h-1zM503.2,339.6h1v1h-1zM505.6,325.2h1v1h-1zM499.1,386.5h1v1h-1zM500.4,331.3h1v1h-1zM498.9,380.9h1v1h-1zM499.1,379.7h1v1h-1zM504.1,347.4h1v1h-1zM501.5,391.0h1v1h-1zM501.9,381.6h1v1h-1zM504.4,373.0h1v1h-1zM498.3,345.5h1v1h-1zM499.2,343.1h1v1h-1zM497.9,316.9h1v1h-1zM504.8,322.2h1v1h-1zM498.1,370.7h1v1h-1zM503.1,377.3h1v1h-1zM499.5,351.3h1v1h-1zM496.9,388.1h1v1h-1zM504.1,339.3h1v1h-1zM504.4,389.5h1v1h-1zM503.3,389.5h1v1h-1zM502.4,396.8h1v1h-1zM501.3,392.1h1v1h-1zM503.7,339.6h1v1h-1zM499.1,363.7h1v1h-1zM498.9,315.9h1v1h-1zM497.9,384.9h1v1h-1zM503.3,312.7h1v1h-1zM499.7,351.7h1v1h-1zM505.5,339.5h1v1h-1zM504.9,368.6h1v1h-1zM503.2,395.1h1v1h-1zM501.5,392.5h1v1h-1zM504.2,364.2h1v1h-1zM499.9,353.9h1v1h-1zM499.3,343.4h1v1h-1zM502.8,400.9h1v1h-1zM495.9,396.5h1v1h-1zM503.0,348.8h1v1h-1zM501.0,315.1h1v1h-1zM503.8,337.4h1v1h-1zM503.3,328.0h1v1h-1zM505.9,361.9h1v1h-1zM503.0,343.7h1v1h-1zM497.6,402.3h1v1h-1zM503.2,338.6h1v1h-1zM500.8,360.1h1v1h-1zM506.0,390.5h1v1h-1zM497.4,384.7h1v1h-1zM501.3,400.6h1v1h-1zM505.2,367.9h1v1h-1zM500.8,308.3h1v1h-1zM505.0,334.8h1v1h-1zM502.1,320.2h1v1h-1zM500.0,348.1h1v1h-1zM499.9,350.9h1v1h-1zM496.5,352.4h1v1h-1zM503.0,339.7h1v1h-1zM498.0,371.9h1v1h-1zM497.3,357.2h1v1h-1zM501.6,365.7h1v1h-1zM503.4,342.6h1v1h-1zM504.3,347.2h1v1h-1zM496.1,332.9h1v1h-1zM496.2,342.2h1v1h-1zM502.6,355.7h1v1h-1zM502.2,351.5h1v1h-1zM498.1,330.3h1v1h-1zM499.8,322.0h1v1h-1zM498.7,388.2h1v1h-1zM496.4,327.6h1v1h-1zM500.8,337.3h1v1h-1zM500.1,353.5h1v1h-1zM501.7,325.6h1v1h-1zM496.3,322.7h1v1h-1zM505.7,357.1h1v1h-1zM500.0,341.1h1v1h-1zM499.6,374.4h1v1h-1zM501.5,391.6h1v1h-1zM503.1,390.1h1v1h-1zM505.2,368.4h1v1h-1zM498.6,348.8h1v1h-1zM503.2,371.6h1v1h-1zM504.4,366.4h1v1h-1zM501.7,370.7h1v1h-1zM501.3,320.1h1v1h-1zM496.7,324.1h1v1h-1zM503.9,402.3h1v1h-1zM500.5,338.0h1v1h-1zM504.9,342.0h1v1h-1zM505.3,358.7h1v1h-1zM499.6,330.0h1v1h-1zM503.8,355.2h1v1h-1zM499.6,342.7h1v1h-1zM501.2,396.4h1v1h-1zM504.1,338.9h1v1h-1zM495.7,374.3h1v1h-1zM504.0,311.9h1v1h-1zM496.1,328.6h1v1h-1zM503.1,378.6h1v1h-1zM505.2,381.6h1v1h-1zM500.1,397.6h1v1h-1zM504.5,380.1h1v1h-1zM504.7,315.2h1v1h-1zM501.8,341.8h1v1h-1zM496.8,360.2h1v1h-1zM502.1,376.1h1v1h-1zM497.4,322.0h1v1h-1zM502.6,354.0h1v1h-1zM500.1,307.9h1v1h-1zM497.9,331.1h1v1h-1zM505.9,404.8h1v1h-1zM497.1,359.1h1v1h-1zM496.1,379.0h1v1h-1zM495.9,373.4h1v1h-1zM501.5,384.3h1v1h-1zM501.8,393.3h1v1h-1zM505.4,345.2h1v1h-1zM505.1,365.9h1v1h-1zM497.3,320.1h1v1h-1zM495.5,374.4h1v1h-1zM495.6,358.7h1v1h-1zM499.8,323.0h1v1h-1zM499.8,315.8h1v1h-1zM505.5,335.0h1v1h-1zM499.5,335.8h1v1h-1zM503.8,395.5h1v1h-1zM504.1,337.7h1v1h-1zM503.5,343.8h1v1h-1zM497.2,366.5h1v1h-1zM500.6,332.0h1v1h-1zM496.4,397.4h1v1h-1zM503.5,352.6h1v1h-1zM501.7,395.8h1v1h-1zM496.4,398.4h1v1h-1zM496.6,337.9h1v1h-1zM504.6,317.3h1v1h-1zM498.2,377.9h1v1h-1zM500.7,345.3h1v1h-1zM497.8,343.0h1v1h-1zM505.2,347.8h1v1h-1zM506.0,375.4h1v1h-1zM504.0,362.6h1v1h-1zM500.5,400.1h1v1h-1zM497.0,380.2h1v1h-1zM496.1,365.4h1v1h-1zM496.9,312.7h1v1h-1zM499.5,341.7h1v1h-1zM495.8,386.7h1v1h-1zM504.4,314.6h1v1h-1zM500.4,379.0h1v1h-1zM503.2,357.9h1v1h-1zM497.4,398.3h1v1h-1zM496.8,386.7h1v1h-1zM499.0,355.5h1v1h-1zM500.5,398.1h1v1h-1zM497.8,351.9h1v1h-1zM502.1,393.8h1v1h-1zM500.2,390.6h1v1h-1zM504.0,396.5h1v1h-1zM503.3,344.3h1v1h-1zM504.1,351.9h1v1h-1zM502.7,365.0h1v1h-1zM497.3,346.1h1v1h-1zM500.7,352.6h1v1h-1zM501.3,342.4h1v1h-1zM501.7,345.2h1v1h-1zM499.4,393.7h1v1h-1zM501.6,365.5h1v1h-1zM499.5,350.4h1v1h-1zM495.8,337.1h1v1h-1zM498.5,318.3h1v1h-1zM499.3,328.8h1v1h-1zM504.6,331.4h1v1h-1zM499.3,328.9h1v1h-1zM498.1,331.7h1v1h-1zM501.3,307.0h1v1h-1zM496.7,356.2h1v1h-1zM505.2,333.7h1v1h-1zM502.6,319.2h1v1h-1zM500.0,359.9h1v1h-1zM498.8,352.1h1v1h-1zM499.9,306.9h1v1h-1zM495.6,312.9h1v1h-1zM504.2,323.7h1v1h-1zM498.3,398.3h1v1h-1zM500.9,327.4h1v1h-1zM499.8,401.7h1v1h-1zM505.8,394.5h1v1h-1zM498.3,379.9h1v1h-1zM502.4,342.1h1v1h-1zM505.9,371.1h1v1h-1zM497.2,326.2h1v1h-1zM501.3,326.8h1v1h-1zM498.2,395.1h1v1h-1zM497.1,321.7h1v1h-1zM497.2,385.3h1v1h-1zM501.4,362.9h1v1h-1zM495.7,359.8h1v1h-1zM498.0,347.8h1v1h-1zM498.0,354.3h1v1h-1zM499.6,353.3h1v1h-1zM497.8,381.7h1v1h-1zM504.3,398.1h1v1h-1zM505.2,355.8h1v1h-1zM496.4,356.0h1v1h-1zM502.3,314.8h1v1h-1zM500.9,336.5h1v1h-1zM498.1,360.5h1v1h-1zM498.9,336.2h1v1h-1zM497.2,344.9h1v1h-1zM504.4,318.1h1v1h-1zM497.1,326.8h1v1h-1zM499.0,379.5h1v1h-1zM503.0,379.5h1v1h-1zM502.5,322.6h1v1h-1zM496.5,371.5h1v1h-1zM495.5,362.6h1v1h-1zM497.6,345.4h1v1h-1zM505.9,374.1h1v1h-1zM502.5,332.4h1v1h-1zM502.7,345.7h1v1h-1zM496.2,321.4h1v1h-1zM505.2,404.1h1v1h-1zM500.6,355.7h1v1h-1zM500.7,372.3h1v1h-1zM504.1,337.0h1v1h-1zM500.6,320.0h1v1h-1zM502.8,373.9h1v1h-1zM496.0,402.7h1v1h-1zM496.1,368.6h1v1h-1zM499.2,377.6h1v1h-1zM499.4,366.2h1v1h-1zM500.1,340.5h1v1h-1zM503.1,315.1h1v1h-1zM503.0,380.1h1v1h-1zM502.6,343.7h1v1h-1zM499.2,310.2h1v1h-1zM506.0,393.6h1v1h-1zM503.8,396.0h1v1h-1zM505.5,317.6h1v1h-1zM500.9,325.5h1v1h-1zM499.4,339.4h1v1h-1zM497.8,364.2h1v1h-1zM500.8,355.8h1v1h-1zM497.4,371.8h1v1h-1zM503.6,333.3h1v1h-1zM498.1,357.8h1v1h-1zM500.9,322.7h1v1h-1zM499.7,334.7h1v1h-1zM503.2,363.9h1v1h-1zM499.3,350.8h1v1h-1zM503.4,341.6h1v1h-1zM497.7,326.2h1v1h-1zM502.4,383.7h1v1h-1zM498.4,326.9h1v1h-1zM495.8,341.7h1v1h-1zM501.0,323.4h1v1h-1zM497.9,395.7h1v1h-1zM503.9,316.7h1v1h-1zM500.6,342.7h1v1h-1zM500.6,332.7h1v1h-1zM504.6,390.1h1v1h-1zM498.8,347.7h1v1h-1zM497.4,322.6h1v1h-1zM505.2,333.8h1v1h-1zM504.9,328.3h1v1h-1zM503.6,325.0h1v1h-1zM505.0,317.8h1v1h-1zM501.8,345.4h1v1h-1zM499.6,308.0h1v1h-1zM499.4,307.1h1v1h-1zM499.0,394.2h1v1h-1zM495.7,340.7h1v1h-1zM501.9,340.7h1v1h-1zM504.5,325.8h1v1h-1zM501.5,355.4h1v1h-1zM498.9,309.6h1v1h-1zM501.8,384.7h1v1h-1zM497.7,318.1h1v1h-1zM499.3,347.2h1v1h-1zM498.1,390.8h1v1h-1zM495.9,343.3h1v1h-1zM504.0,400.3h1v1h-1zM500.5,382.8h1v1h-1zM497.9,374.8h1v1h-1zM503.7,360.1h1v1h-1zM503.9,328.6h1v1h-1zM503.4,331.7h1v1h-1zM496.5,404.3h1v1h-1zM495.5,327.0h1v1h-1zM499.4,315.0h1v1h-1zM498.5,356.3h1v1h-1zM500.9,344.7h1v1h-1zM500.7,366.4h1v1h-1zM497.7,391.3h1v1h-1zM499.3,377.9h1v1h-1zM501.4,366.9h1v1h-1zM505.5,314.4h1v1h-1zM502.4,317.3h1v1h-1zM498.9,338.4h1v1h-1zM505.5,338.4h1v1h-1zM497.2,345.8h1v1h-1zM502.5,373.8h1v1h-1zM497.9,346.2h1v1h-1zM499.4,306.9h1v1h-1zM495.8,364.4h1v1h-1zM502.7,401.1h1v1h-1zM497.6,324.0h1v1h-1zM502.8,369.9h1v1h-1zM496.9,369.8h1v1h-1zM497.3,352.5h1v1h-1zM501.3,337.1h1v1h-1zM502.0,353.9h1v1h-1zM502.6,336.6h1v1h-1zM503.7,367.1h1v1h-1zM500.1,328.0h1v1h-1zM499.3,314.2h1v1h-1zM504.1,402.0h1v1h-1zM496.6,335.2h1v1h-1zM503.1,363.9h1v1h-1zM497.4,389.7h1v1h-1zM504.8,347.6h1v1h-1zM502.7,388.2h1v1h-1zM497.6,391.4h1v1h-1zM499.1,351.4h1v1h-1zM496.2,339.3h1v1h-1zM496.8,367.8h1v1h-1zM498.4,335.0h1v1h-1zM505.9,393.4h1v1h-1zM498.4,384.8h1v1h-1zM504.0,324.0h1v1h-1zM505.2,353.5h1v1h-1zM504.6,366.6h1v1h-1zM500.4,375.2h1v1h-1zM500.3,362.7h1v1h-1zM498.5,400.7h1v1h-1zM502.8,361.1h1v1h-1zM497.8,328.2h1v1h-1zM499.4,335.7h1v1h-1zM495.8,355.6h1v1h-1zM499.2,350.5h1v1h-1zM503.2,340.4h1v1h-1zM497.1,357.9h1v1h-1zM503.8,323.0h1v1h-1zM499.2,377.5h1v1h-1zM496.5,357.2h1v1h-1zM500.6,368.9h1v1h-1zM497.8,363.3h1v1h-1zM503.9,306.2h1v1h-1zM501.3,388.2h1v1h-1zM503.7,343.0h1v1h-1zM503.8,391.4h1v1h-1zM504.1,342.9h1v1h-1zM505.5,372.7h1v1h-1zM499.8,316.0h1v1h-1zM497.8,320.8h1v1h-1zM497.4,341.3h1v1h-1zM500.5,324.8h1v1h-1zM500.8,349.5h1v1h-1zM495.7,361.1h1v1h-1zM503.6,354.2h1v1h-1zM497.8,359.3h1v1h-1zM498.7,358.6h1v1h-1zM502.3,356.4h1v1h-1zM496.2,353.5h1v1h-1zM502.8,384.0h1v1h-1zM503.2,360.5h1v1h-1zM504.6,389.1h1v1h-1zM496.4,330.6h1v1h-1zM500.6,314.5h1v1h-1zM500.3,335.7h1v1h-1zM503.1,384.1h1v1h-1zM495.6,328.1h1v1h-1zM502.8,316.7h1v1h-1zM495.9,368.9h1v1h-1zM499.8,351.6h1v1h-1zM496.3,335.3h1v1h-1zM500.9,365.4h1v1h-1zM503.6,349.3h1v1h-1zM499.8,336.7h1v1h-1zM499.8,354.3h1v1h-1zM501.5,326.4h1v1h-1zM504.6,361.2h1v1h-1zM504.7,342.5h1v1h-1zM495.6,341.9h1v1h-1zM500.4,319.8h1v1h-1zM503.0,335.7h1v1h-1zM497.6,316.9h1v1h-1zM495.7,332.0h1v1h-1zM501.8,338.2h1v1h-1zM502.5,318.7h1v1h-1zM498.7,384.3h1v1h-1zM496.7,386.0h1v1h-1zM496.2,321.8h1v1h-1zM499.4,391.2h1v1h-1zM500.8,345.1h1v1h-1zM501.0,318.1h1v1h-1zM499.5,401.8h1v1h-1zM505.7,328.6h1v1h-1zM504.2,370.0h1v1h-1zM498.4,380.8h1v1h-1zM500.2,310.2h1v1h-1zM497.6,358.3h1v1h-1zM498.4,381.5h1v1h-1zM500.0,357.4h1v1h-1zM501.4,366.6h1v1h-1zM500.2,309.4h1v1h-1zM498.7,341.0h1v1h-1zM496.2,376.3h1v1h-1zM503.0,368.2h1v1h-1zM496.8,343.2h1v1h-1zM497.1,307.6h1v1h-1zM496.5,314.1h1v1h-1zM496.9,357.2h1v1h-1zM499.9,365.3h1v1h-1zM504.3,329.9h1v1h-1zM496.5,379.5h1v1h-1zM504.6,324.0h1v1h-1zM502.8,312.3h1v1h-1zM498.4,377.4h1v1h-1zM500.1,324.5h1v1h-1zM498.6,364.0h1v1h-1zM496.4,369.6h1v1h-1zM500.7,370.2h1v1h-1zM500.8,317.4h1v1h-1zM499.4,377.2h1v1h-1zM498.4,394.4h1v1h-1zM501.9,386.6h1v1h-1zM502.3,404.8h1v1h-1zM504.6,342.6h1v1h-1zM502.0,331.7h1v1h-1zM503.0,351.8h1v1h-1zM496.6,371.4h1v1h-1zM502.7,370.3h1v1h-1zM505.6,324.9h1v1h-1zM499.4,348.1h1v1h-1zM503.3,348.4h1v1h-1zM500.9,325.7h1v1h-1zM505.6,400.0h1v1h-1zM505.9,370.5h1v1h-1zM498.0,389.1h1v1h-1zM504.3,339.2h1v1h-1zM500.5,384.0h1v1h-1zM503.9,342.5h1v1h-1zM497.3,372.6h1v1h-1zM497.7,362.2h1v1h-1zM497.1,316.1h1v1h-1zM497.8,321.5h1v1h-1zM498.7,329.1h1v1h-1zM495.6,345.1h1v1h-1zM495.6,343.6h1v1h-1zM499.4,394.3h1v1h-1zM497.9,401.1h1v1h-1zM496.5,308.4h1v1h-1zM498.1,326.5h1v1h-1zM499.4,402.0h1v1h-1zM504.8,337.6h1v1h-1zM495.7,390.0h1v1h-1zM501.3,366.0h1v1h-1zM497.1,316.5h1v1h-1zM499.7,332.3h1v1h-1zM501.5,376.1h1v1h-1zM505.2,328.8h1v1h-1zM501.5,327.9h1v1h-1zM499.4,397.9h1v1h-1zM502.9,339.0h1v1h-1zM505.3,329.8h1v1h-1zM500.2,323.1h1v1h-1zM498.8,381.2h1v1h-1zM504.0,367.3h1v1h-1zM504.9,373.7h1v1h-1zM500.7,319.4h1v1h-1zM506.0,400.0h1v1h-1zM502.1,384.5h1v1h-1zM497.3,402.2h1v1h-1zM495.7,350.8h1v1h-1zM505.5,346.8h1v1h-1zM503.7,390.1h1v1h-1zM498.7,329.5h1v1h-1zM502.3,345.1h1v1h-1zM501.9,338.0h1v1h-1zM495.6,358.6h1v1h-1zM499.9,311.5h1v1h-1zM502.8,373.4h1v1h-1zM501.6,369.1h1v1h-1zM498.2,344.0h1v1h-1zM496.2,323.9h1v1h-1zM500.7,343.2h1v1h-1zM503.2,316.1h1v1h-1zM501.8,342.0h1v1h-1zM505.9,344.9h1v1h-1zM502.5,400.7h1v1h-1zM504.2,397.1h1v1h-1zM498.1,366.4h1v1h-1zM498.6,343.5h1v1h-1zM501.2,335.5h1v1h-1zM501.5,337.1h1v1h-1zM501.3,351.5h1v1h-1zM505.7,320.9h1v1h-1zM501.1,317.2h1v1h-1zM505.4,356.8h1v1h-1zM504.7,337.7h1v1h-1zM495.8,384.2h1v1h-1zM499.5,357.7h1v1h-1zM501.1,375.8h1v1h-1zM498.9,334.7h1v1h-1zM503.7,400.5h1v1h-1zM499.5,352.5h1v1h-1zM497.3,385.5h1v1h-1zM505.3,382.6h1v1h-1zM500.7,332.8h1v1h-1zM497.2,381.8h1v1h-1zM505.2,327.1h1v1h-1zM497.1,338.6h1v1h-1zM502.9,336.1h1v1h-1zM503.9,318.1h1v1h-1zM504.1,320.2h1v1h-1zM497.8,370.8h1v1h-1zM495.5,358.6h1v1h-1zM504.2,335.4h1v1h-1zM503.6,381.9h1v1h-1zM498.9,387.5h1v1h-1zM502.7,337.4h1v1h-1zM501.5,386.6h1v1h-1zM501.2,330.9h1v1h-1zM504.8,391.1h1v1h-1zM502.6,375.0h1v1h-1zM503.5,383.1h1v1h-1zM498.5,315.7h1v1h-1zM497.2,307.5h1v1h-1zM504.7,340.6h1v1h-1zM503.4,313.3h1v1h-1zM496.4,372.1h1v1h-1zM504.7,371.7h1v1h-1zM495.8,350.5h1v1h-1zM503.8,330.0h1v1h-1zM503.7,361.4h1v1h-1zM496.8,375.2h1v1h-1zM498.5,335.0h1v1h-1zM498.5,356.9h1v1h-1zM502.2,373.4h1v1h-1zM505.2,343.6h1v1h-1zM504.6,321.6h1v1h-1zM496.6,331.6h1v1h-1zM497.1,382.1h1v1h-1zM500.6,404.1h1v1h-1zM504.9,389.1h1v1h-1zM502.2,318.2h1v1h-1zM505.2,362.0h1v1h-1zM498.5,341.4h1v1h-1zM505.1,352.3h1v1h-1zM505.2,379.8h1v1h-1zM497.0,401.5h1v1h-1zM499.8,320.0h1v1h-1zM495.8,313.2h1v1h-1zM504.2,362.1h1v1h-1zM500.4,380.5h1v1h-1zM503.9,325.5h1v1h-1zM496.4,330.3h1v1h-1zM499.9,356.3h1v1h-1zM505.4,394.1h1v1h-1zM499.3,375.6h1v1h-1zM500.9,312.8h1v1h-1zM505.8,350.3h1v1h-1zM499.9,340.7h1v1h-1zM501.7,399.0h1v1h-1zM498.1,348.2h1v1h-1zM500.2,354.9h1v1h-1zM496.1,336.5h1v1h-1zM503.7,340.2h1v1h-1zM498.0,345.5h1v1h-1zM501.1,323.3h1v1h-1zM502.5,312.6h1v1h-1zM499.5,363.0h1v1h-1zM496.2,360.9h1v1h-1zM497.9,370.8h1v1h-1zM495.9,354.2h1v1h-1zM502.1,333.0h1v1h-1zM497.9,350.1h1v1h-1zM504.1,324.0h1v1h-1zM499.1,376.8h1v1h-1zM499.6,322.3h1v1h-1zM505.7,324.9h1v1h-1zM501.1,331.6h1v1h-1zM497.9,370.1h1v1h-1zM495.6,365.1h1v1h-1zM503.7,392.0h1v1h-1zM502.9,346.3h1v1h-1zM499.2,377.6h1v1h-1zM501.5,369.1h1v1h-1zM505.9,376.0h1v1h-1zM495.8,392.9h1v1h-1zM503.6,344.4h1v1h-1zM503.7,326.6h1v1h-1zM500.6,380.8h1v1h-1zM497.8,382.3h1v1h-1zM498.2,306.1h1v1h-1zM503.5,349.8h1v1h-1zM502.5,314.3h1v1h-1zM501.8,359.0h1v1h-1zM497.6,366.0h1v1h-1zM496.5,340.0h1v1h-1zM501.6,378.2h1v1h-1zM496.7,378.4h1v1h-1zM498.1,358.7h1v1h-1zM504.8,332.7h1v1h-1zM498.5,360.9h1v1h-1zM498.2,341.4h1v1h-1zM505.5,322.1h1v1h-1zM498.9,338.7h1v1h-1zM504.9,348.6h1v1h-1zM498.7,388.7h1v1h-1zM498.4,395.1h1v1h-1zM499.4,317.6h1v1h-1zM498.1,323.8h1v1h-1zM498.7,350.2h1v1h-1zM503.1,382.6h1v1h-1zM503.8,396.9h1v1h-1zM499.0,353.1h1v1h-1zM501.9,393.7h1v1h-1zM504.8,397.6h1v1h-1zM498.0,375.4h1v1h-1zM499.2,388.6h1v1h-1zM497.5,371.9h1v1h-1zM495.9,376.4h1v1h-1zM497.1,317.7h1v1h-1zM503.8,323.3h1v1h-1zM504.5,367.7h1v1h-1zM503.5,327.5h1v1h-1zM499.0,398.3h1v1h-1zM499.1,400.8h1v1h-1zM504.9,383.9h1v1h-1zM505.4,360.0h1v1h-1zM503.6,390.0h1v1h-1zM505.6,342.8h1v1h-1zM503.1,383.6h1v1h-1zM499.8,373.8h1v1h-1zM496.0,345.3h1v1h-1zM500.5,318.6h1v1h-1zM498.7,381.6h1v1h-1zM500.6,308.5h1v1h-1zM502.6,391.1h1v1h-1zM505.4,402.5h1v1h-1zM503.1,385.6h1v1h-1zM495.7,371.1h1v1h-1zM504.1,321.2h1v1h-1zM505.2,308.9h1v1h-1zM496.9,310.1h1v1h-1zM503.3,364.5h1v1h-1zM504.9,320.5h1v1h-1zM499.8,340.6h1v1h-1zM495.5,345.5h1v1h-1zM506.0,311.6h1v1h-1zM504.3,400.4h1v1h-1zM500.7,388.8h1v1h-1zM500.9,320.4h1v1h-1zM496.9,362.0h1v1h-1zM498.0,334.9h1v1h-1zM501.5,370.1h1v1h-1zM500.9,361.4h1v1h-1zM497.8,403.9h1v1h-1zM498.8,338.5h1v1h-1zM495.9,347.4h1v1h-1zM503.2,357.0h1v1h-1zM497.7,339.3h1v1h-1zM503.6,364.9h1v1h-1zM504.2,340.1h1v1h-1zM505.8,389.9h1v1h-1zM496.6,326.8h1v1h-1zM503.7,351.0h1v1h-1zM505.2,361.7h1v1h-1zM502.4,316.2h1v1h-1z" fill="#f58c62" fill-opacity="0.75"/>
<line x1="494.5" y1="307.9" x2="494.5" y2="401.7" stroke="#555" stroke-width="0.7"/>
<line x1="490.5" y1="307.9" x2="498.5" y2="307.9" stroke="#555" stroke-width="0.7"/>
<line x1="490.5" y1="401.7" x2="498.5" y2="401.7" stroke="#555" stroke-width="0.7"/>
<rect x="487" y="340.2" width="14.9" height="24.2" fill="none" stroke="#444" stroke-width="0.8"/>
<line x1="487" y1="352" x2="501.9" y2="352" stroke="#555" stroke-width="0.7"/>
<path d="M492.1,351.3L496.5,355.7M496.5,351.3L492.1,355.7" stroke="#000" stroke-width="2.3" stroke-linecap="round"/>
<path d="M571.4,310.0 L571.2,311.4 L570.9,313.3 L570.5,315.5 L570.0,318.0 L569.3,320.5 L568.5,323.1 L567.5,325.9 L566.5,328.9 L565.3,331.8 L564.1,334.7 L562.8,337.6 L561.3,340.4 L559.8,343.3 L558.4,346.0 L557.2,348.6 L556.2,350.9 L555.3,353.0 L554.5,355.0 L553.9,357.0 L553.3,359.0 L552.8,361.1 L552.4,363.3 L552.0,365.4 L551.8,367.6 L551.8,369.8 L551.9,372.0 L552.2,374.3 L552.5,376.6 L553.1,378.7 L553.7,380.8 L554.5,382.7 L555.5,384.4 L556.7,386.1 L557.8,387.8 L558.9,389.5 L560.0,391.3 L561.0,393.1 L562.1,394.8 L563.1,396.6 L564.1,398.2 L565.0,399.7 L565.9,401.2 L566.8,402.6 L567.6,403.9 L568.4,405.1 L569.1,406.2 L569.8,407.3 L570.5,408.2 L571.0,408.9 L571.4,409.5Z" fill="#62aa8e" stroke="#555" stroke-width="0.6"/>
<path d="M580.8,357.5h1v1h-1zM577.2,328.3h1v1h-1zM578.7,352.6h1v1h-1zM577.2,349.3h1v1h-1zM573.5,395.8h1v1h-1zM576.8,375.7h1v1h-1zM576.5,365.3h1v1h-1zM582.1,319.2h1v1h-1zM576.1,362.4h1v1h-1zM581.7,389.4h1v1h-1zM580.2,338.4h1v1h-1zM577.7,389.2h1v1h-1zM581.3,336.7h1v1h-1zM579.0,373.6h1v1h-1zM580.4,359.7h1v1h-1zM573.2,329.6h1v1h-1zM577.7,382.6h1v1h-1zM573.6,392.6h1v1h-1zM575.2,351.7h1v1h-1zM580.5,356.0h1v1h-1zM576.3,336.3h1v1h-1zM577.3,344.0h1v1h-1zM576.1,380.7h1v1h-1zM583.0,396.4h1v1h-1zM573.7,366.5h1v1h-1zM579.5,367.9h1v1h-1zM573.9,320.7h1v1h-1zM575.9,331.7h1v1h-1zM575.3,386.9h1v1h-1zM581.1,340.1h1v1h-1zM577.3,339.0h1v1h-1zM574.3,353.3h1v1h-1zM574.9,328.5h1v1h-1zM580.9,349.6h1v1h-1zM576.9,356.0h1v1h-1zM582.6,384.7h1v1h-1zM578.3,396.2h1v1h-1zM576.7,355.4h1v1h-1zM582.2,328.8h1v1h-1zM577.6,373.9h1v1h-1zM574.4,334.5h1v1h-1zM578.5,372.5h1v1h-1zM577.3,374.9h1v1h-1zM574.8,338.8h1v1h-1zM575.2,350.5h1v1h-1zM576.3,340.4h1v1h-1zM581.2,361.9h1v1h-1zM573.7,389.2h1v1h-1zM575.3,331.1h1v1h-1zM578.9,383.8h1v1h-1zM583.3,337.4h1v1h-1zM576.3,348.1h1v1h-1zM575.3,396.6h1v1h-1zM576.4,389.0h1v1h-1zM575.8,387.0h1v1h-1zM581.4,333.9h1v1h-1zM575.6,348.5h1v1h-1zM583.3,324.9h1v1h-1zM576.3,367.0h1v1h-1zM582.7,352.9h1v1h-1zM579.4,331.2h1v1h-1zM578.1,343.7h1v1h-1zM573.7,387.9h1v1h-1zM578.2,337.3h1v1h-1zM580.5,362.3h1v1h-1zM581.6,361.7h1v1h-1zM574.1,343.4h1v1h-1zM581.1,368.6h1v1h-1zM581.9,341.5h1v1h-1zM581.2,391.1h1v1h-1zM579.7,330.4h1v1h-1zM574.3,328.7h1v1h-1zM576.7,328.2h1v1h-1zM576.9,362.2h1v1h-1zM573.5,386.6h1v1h-1zM582.0,392.7h1v1h-1zM581.2,369.8h1v1h-1zM575.3,327.4h1v1h-1zM576.0,388.0h1v1h-1zM573.6,361.1h1v1h-1zM581.3,342.7h1v1h-1zM574.1,380.2h1v1h-1zM580.1,355.5h1v1h-1zM574.2,345.5h1v1h-1zM576.2,331.9h1v1h-1zM580.7,359.1h1v1h-1zM576.4,376.4h1v1h-1zM580.9,334.7h1v1h-1zM575.5,347.0h1v1h-1zM581.3,390.0h1v1h-1zM574.6,324.8h1v1h-1zM578.4,362.3h1v1h-1zM573.5,362.6h1v1h-1zM573.6,376.3h1v1h-1zM579.5,371.8h1v1h-1zM573.1,351.1h1v1h-1zM581.1,337.0h1v1h-1zM581.0,360.5h1v1h-1zM582.4,360.2h1v1h-1zM576.9,324.2h1v1h-1zM583.1,340.2h1v1h-1zM580.6,360.2h1v1h-1zM576.5,381.9h1v1h-1zM580.0,352.0h1v1h-1zM581.4,363.0h1v1h-1zM572.6,394.8h1v1h-1zM581.8,362.2h1v1h-1zM580.4,345.0h1v1h-1zM576.6,344.8h1v1h-1zM573.9,363.8h1v1h-1zM576.0,363.6h1v1h-1zM573.4,353.8h1v1h-1zM581.7,362.5h1v1h-1zM575.9,353.6h1v1h-1zM583.0,336.3h1v1h-1zM576.3,376.5h1v1h-1zM583.3,351.8h1v1h-1zM583.0,372.1h1v1h-1zM572.8,335.7h1v1h-1zM578.3,322.5h1v1h-1zM578.7,371.9h1v1h-1zM580.6,342.0h1v1h-1zM577.6,362.4h1v1h-1zM577.6,321.2h1v1h-1zM574.5,345.4h1v1h-1zM581.5,395.8h1v1h-1zM575.5,332.1h1v1h-1zM583.3,340.4h1v1h-1zM576.4,318.5h1v1h-1zM573.7,365.8h1v1h-1zM576.1,344.4h1v1h-1zM583.1,332.1h1v1h-1zM573.2,384.0h1v1h-1zM583.3,376.6h1v1h-1zM583.5,347.9h1v1h-1zM575.3,394.6h1v1h-1zM575.4,393.7h1v1h-1zM578.9,346.8h1v1h-1zM572.7,383.7h1v1h-1zM575.3,393.5h1v1h-1zM575.1,364.5h1v1h-1zM579.7,354.0h1v1h-1zM573.3,391.6h1v1h-1zM573.4,360.9h1v1h-1zM581.3,376.5h1v1h-1zM583.2,381.6h1v1h-1zM578.2,351.7h1v1h-1zM580.5,364.1h1v1h-1zM578.6,378.7h1v1h-1zM574.7,350.3h1v1h-1zM578.8,391.9h1v1h-1zM577.3,391.8h1v1h-1zM579.0,350.9h1v1h-1zM573.5,318.2h1v1h-1zM574.0,371.2h1v1h-1zM582.0,382.6h1v1h-1zM580.8,368.3h1v1h-1zM572.7,347.2h1v1h-1zM579.0,337.0h1v1h-1zM574.8,369.2h1v1h-1zM573.7,373.6h1v1h-1zM583.3,353.1h1v1h-1zM577.7,343.3h1v1h-1zM580.2,350.2h1v1h-1zM574.5,381.7h1v1h-1zM577.5,368.2h1v1h-1zM579.9,393.6h1v1h-1zM579.2,328.3h1v1h-1zM577.7,387.7h1v1h-1zM579.2,372.9h1v1h-1zM577.6,332.9h1v1h-1zM583.4,389.7h1v1h-1zM575.0,344.3h1v1h-1zM580.1,366.3h1v1h-1zM576.8,352.3h1v1h-1zM582.0,340.6h1v1h-1zM583.3,345.6h1v1h-1zM577.7,342.5h1v1h-1zM579.4,378.7h1v1h-1zM573.3,366.9h1v1h-1zM572.8,352.5h1v1h-1zM574.7,368.6h1v1h-1zM577.0,366.4h1v1h-1zM578.5,350.0h1v1h-1zM572.5,380.4h1v1h-1zM582.2,343.7h1v1h-1zM575.8,320.9h1v1h-1zM581.4,389.1h1v1h-1zM576.8,380.3h1v1h-1zM577.3,351.7h1v1h-1zM580.2,345.6h1v1h-1zM581.6,320.8h1v1h-1zM575.4,355.6h1v1h-1zM578.4,354.7h1v1h-1zM576.3,345.2h1v1h-1zM582.4,396.2h1v1h-1zM573.7,388.2h1v1h-1zM581.4,368.0h1v1h-1zM572.6,370.0h1v1h-1zM581.6,385.4h1v1h-1zM581.9,336.8h1v1h-1zM572.5,344.0h1v1h-1zM577.1,357.6h1v1h-1zM583.4,375.8h1v1h-1zM582.7,342.4h1v1h-1zM575.0,396.4h1v1h-1zM583.4,345.3h1v1h-1zM573.9,352.8h1v1h-1zM578.0,383.8h1v1h-1zM576.2,333.5h1v1h-1zM580.2,377.6h1v1h-1zM575.9,363.1h1v1h-1zM577.0,365.3h1v1h-1zM573.6,324.1h1v1h-1zM573.0,327.9h1v1h-1zM580.5,341.4h1v1h-1zM581.6,376.2h1v1h-1zM576.8,363.2h1v1h-1zM582.0,329.9h1v1h-1zM575.4,378.6h1v1h-1zM575.8,322.7h1v1h-1zM582.5,356.5h1v1h-1zM578.9,369.0h1v1h-1zM576.5,362.4h1v1h-1zM581.2,396.4h1v1h-1zM574.9,327.0h1v1h-1zM577.9,370.1h1v1h-1zM576.7,338.7h1v1h-1zM575.4,318.2h1v1h-1zM577.1,343.9h1v1h-1zM572.7,343.9h1v1h-1zM580.6,370.3h1v1h-1zM575.1,318.2h1v1h-1zM581.5,354.3h1v1h-1zM573.8,371.0h1v1h-1zM573.8,362.9h1v1h-1zM579.9,367.5h1v1h-1zM573.3,353.2h1v1h-1zM582.0,385.0h1v1h-1zM573.3,354.0h1v1h-1zM574.7,376.1h1v1h-1zM581.5,383.7h1v1h-1zM575.4,332.9h1v1h-1zM575.1,371.9h1v1h-1zM581.3,326.0h1v1h-1zM575.6,328.9h1v1h-1zM580.8,328.7h1v1h-1zM574.4,360.8h1v1h-1zM573.3,329.8h1v1h-1zM579.7,388.9h1v1h-1zM579.0,335.5h1v1h-1zM573.5,320.1h1v1h-1zM573.4,366.1h1v1h-1zM575.1,361.3h1v1h-1zM576.2,360.4h1v1h-1zM578.4,350.8h1v1h-1zM583.4,380.2h1v1h-1zM579.5,336.6h1v1h-1zM583.2,359.8h1v1h-1zM577.3,372.8h1v1h-1zM574.9,380.5h1v1h-1zM577.9,392.8h1v1h-1zM580.5,374.5h1v1h-1zM578.0,371.5h1v1h-1zM577.4,367.2h1v1h-1zM577.7,320.1h1v1h-1zM573.7,342.7h1v1h-1zM574.4,323.6h1v1h-1zM578.0,345.9h1v1h-1zM574.0,349.1h1v1h-1zM583.2,362.8h1v1h-1zM576.0,346.1h1v1h-1zM572.6,331.8h1v1h-1zM576.6,334.5h1v1h-1zM583.1,348.8h1v1h-1zM583.1,364.0h1v1h-1zM579.0,368.9h1v1h-1zM583.0,364.7h1v1h-1zM573.2,364.6h1v1h-1zM576.6,372.1h1v1h-1zM576.6,358.0h1v1h-1zM574.9,389.5h1v1h-1zM583.3,357.0h1v1h-1zM581.3,334.8h1v1h-1zM581.1,351.1h1v1h-1zM577.7,383.1h1v1h-1zM577.8,395.6h1v1h-1zM578.0,330.1h1v1h-1zM582.1,331.1h1v1h-1zM574.2,387.1h1v1h-1zM573.7,355.5h1v1h-1zM580.5,391.7h1v1h-1zM582.0,366.8h1v1h-1zM582.1,362.1h1v1h-1zM574.0,337.2h1v1h-1zM577.6,364.6h1v1h-1zM580.4,329.3h1v1h-1zM581.7,342.7h1v1h-1zM582.6,363.8h1v1h-1zM577.4,385.4h1v1h-1zM582.5,377.5h1v1h-1zM583.1,358.5h1v1h-1zM577.5,375.7h1v1h-1zM578.2,354.5h1v1h-1zM583.3,373.7h1v1h-1zM573.5,366.9h1v1h-1zM577.2,382.3h1v1h-1zM575.0,374.2h1v1h-1zM573.3,324.9h1v1h-1zM576.4,395.8h1v1h-1zM578.4,359.3h1v1h-1zM577.4,364.4h1v1h-1zM580.1,384.4h1v1h-1zM573.1,326.5h1v1h-1zM583.2,368.9h1v1h-1zM581.2,374.2h1v1h-1zM577.7,359.6h1v1h-1zM574.9,359.2h1v1h-1zM579.4,366.8h1v1h-1zM572.6,361.6h1v1h-1zM575.4,395.8h1v1h-1zM573.7,387.3h1v1h-1zM579.2,387.9h1v1h-1zM579.3,366.5h1v1h-1zM578.2,351.9h1v1h-1zM579.7,335.8h1v1h-1zM575.3,326.5h1v1h-1zM583.1,349.4h1v1h-1zM578.7,337.1h1v1h-1zM576.6,362.0h1v1h-1zM583.4,364.2h1v1h-1zM576.0,378.5h1v1h-1zM572.7,375.0h1v1h-1zM579.1,343.1h1v1h-1zM577.6,391.4h1v1h-1zM578.1,363.7h1v1h-1zM580.9,335.9h1v1h-1zM575.3,346.4h1v1h-1zM582.4,382.3h1v1h-1zM579.4,367.5h1v1h-1zM580.0,386.5h1v1h-1zM580.0,353.3h1v1h-1zM581.2,347.2h1v1h-1zM578.9,375.1h1v1h-1zM575.3,335.4h1v1h-1zM578.8,369.2h1v1h-1zM577.7,325.2h1v1h-1zM577.6,340.5h1v1h-1zM577.9,352.4h1v1h-1zM574.7,346.3h1v1h-1zM582.7,344.7h1v1h-1zM573.5,366.1h1v1h-1zM579.1,374.1h1v1h-1zM577.5,362.0h1v1h-1zM579.1,367.4h1v1h-1zM582.5,328.0h1v1h-1zM580.3,331.2h1v1h-1zM581.4,386.5h1v1h-1zM581.4,355.1h1v1h-1zM582.0,329.5h1v1h-1zM572.6,345.8h1v1h-1zM583.0,362.6h1v1h-1zM578.8,374.1h1v1h-1zM574.1,344.6h1v1h-1zM579.7,321.7h1v1h-1zM582.5,360.8h1v1h-1zM577.9,392.9h1v1h-1zM574.4,374.3h1v1h-1zM578.4,385.8h1v1h-1zM579.8,349.6h1v1h-1zM577.6,368.2h1v1h-1zM580.4,351.6h1v1h-1zM577.8,330.6h1v1h-1zM583.2,381.9h1v1h-1zM575.9,379.8h1v1h-1zM582.1,356.9h1v1h-1zM573.0,373.9h1v1h-1zM579.8,350.8h1v1h-1zM580.2,332.6h1v1h-1zM581.9,342.8h1v1h-1zM580.3,358.9h1v1h-1zM578.6,348.7h1v1h-1zM572.9,346.1h1v1h-1zM582.5,351.6h1v1h-1zM575.6,388.8h1v1h-1zM575.4,341.4h1v1h-1zM578.5,347.2h1v1h-1zM577.0,375.6h1v1h-1zM582.1,324.2h1v1h-1zM577.9,354.4h1v1h-1zM573.3,388.4h1v1h-1zM578.4,372.9h1v1h-1zM575.0,338.7h1v1h-1zM582.4,341.9h1v1h-1zM573.6,359.2h1v1h-1zM578.0,324.0h1v1h-1zM575.5,368.9h1v1h-1zM573.1,348.4h1v1h-1zM583.0,372.1h1v1h-1zM576.8,361.5h1v1h-1zM578.3,366.7h1v1h-1zM572.6,381.5h1v1h-1zM579.6,356.5h1v1h-1zM582.4,374.5h1v1h-1zM583.2,355.8h1v1h-1z" fill="#62c09c" fill-opacity="0.75"/>
<line x1="571.4" y1="320.5" x2="571.4" y2="398.2" stroke="#555" stroke-width="0.7"/>
<line x1="567.4" y1="320.5" x2="575.4" y2="320.5" stroke="#555" stroke-width="0.7"/>
<line x1="567.4" y1="398.2" x2="575.4" y2="398.2" stroke="#555" stroke-width="0.7"/>
<rect x="563.6" y="353.8" width="14.7" height="25.0" fill="none" stroke="#444" stroke-width="0.8"/>
<line x1="563.6" y1="367.4" x2="578.3" y2="367.4" stroke="#555" stroke-width="0.7"/>
<path d="M568.5,363.8L572.9000000000001,368.2M572.9000000000001,363.8L568.5,368.2" stroke="#000" stroke-width="2.3" stroke-linecap="round"/>
<path d="M620.7,326.1 L620.5,327.6 L620.4,329.7 L620.1,332.1 L619.5,334.6 L618.6,336.8 L617.1,338.7 L615.2,340.6 L613.0,342.4 L610.9,344.2 L609.1,346.0 L607.5,347.8 L606.0,349.5 L604.6,351.2 L603.4,353.0 L602.5,354.7 L601.9,356.4 L601.6,358.2 L601.5,359.9 L601.4,361.7 L601.3,363.4 L601.2,365.1 L601.1,366.6 L601.0,368.2 L601.0,370.0 L601.0,372.1 L601.0,374.7 L601.0,377.7 L601.1,380.8 L601.1,383.7 L601.2,386.0 L601.2,387.7 L601.2,388.8 L601.2,389.8 L601.3,390.6 L601.6,391.7 L602.1,392.9 L602.8,394.2 L603.7,395.5 L604.6,396.8 L605.6,398.2 L606.7,399.6 L607.8,401.1 L609.1,402.6 L610.3,404.0 L611.5,405.4 L612.7,406.6 L613.9,407.8 L615.2,408.9 L616.3,410.1 L617.3,411.2 L618.2,412.5 L619.0,413.8 L619.7,415.1 L620.3,416.2 L620.7,417.0Z" fill="#e9936f" stroke="#555" stroke-width="0.6"/>
<path d="M622.7,380.4h1v1h-1zM623.7,387.9h1v1h-1zM632.7,377.6h1v1h-1zM629.9,385.5h1v1h-1zM630.9,394.2h1v1h-1zM625.6,381.5h1v1h-1zM630.6,389.2h1v1h-1zM622.7,406.6h1v1h-1zM622.8,357.9h1v1h-1zM631.4,362.9h1v1h-1zM626.8,380.0h1v1h-1zM625.1,403.9h1v1h-1zM623.6,368.9h1v1h-1zM630.8,371.0h1v1h-1zM632.3,338.3h1v1h-1zM622.5,398.6h1v1h-1zM623.6,388.3h1v1h-1zM630.3,364.8h1v1h-1zM626.4,364.5h1v1h-1zM632.5,354.5h1v1h-1zM628.0,343.7h1v1h-1zM622.4,386.7h1v1h-1zM625.3,346.8h1v1h-1zM627.9,357.2h1v1h-1zM626.5,382.9h1v1h-1zM625.2,405.8h1v1h-1zM629.9,374.7h1v1h-1zM623.2,367.3h1v1h-1zM624.0,347.4h1v1h-1zM625.7,377.6h1v1h-1zM624.0,375.7h1v1h-1zM628.4,383.8h1v1h-1zM629.4,393.2h1v1h-1zM629.2,378.4h1v1h-1zM626.0,340.7h1v1h-1zM626.1,387.9h1v1h-1zM631.5,401.0h1v1h-1zM627.6,361.2h1v1h-1zM623.4,349.3h1v1h-1zM627.6,390.9h1v1h-1zM631.2,365.6h1v1h-1zM632.7,343.5h1v1h-1zM626.8,355.4h1v1h-1zM628.0,344.6h1v1h-1zM631.6,342.9h1v1h-1zM625.2,398.0h1v1h-1zM631.1,354.2h1v1h-1zM628.1,381.3h1v1h-1zM627.4,339.8h1v1h-1zM624.2,393.7h1v1h-1zM630.8,356.3h1v1h-1zM622.4,380.3h1v1h-1zM627.5,385.7h1v1h-1zM632.3,368.5h1v1h-1zM626.6,374.7h1v1h-1zM631.7,337.2h1v1h-1zM625.1,359.3h1v1h-1zM631.3,402.2h1v1h-1zM628.1,378.0h1v1h-1zM630.1,336.4h1v1h-1zM622.2,375.2h1v1h-1zM629.2,346.0h1v1h-1zM632.9,357.4h1v1h-1zM632.5,371.4h1v1h-1zM622.5,396.6h1v1h-1zM627.2,373.9h1v1h-1zM622.8,363.6h1v1h-1zM629.7,350.0h1v1h-1zM628.8,384.4h1v1h-1zM629.5,388.8h1v1h-1zM631.1,399.3h1v1h-1zM628.6,369.6h1v1h-1zM632.7,400.3h1v1h-1zM629.5,356.5h1v1h-1zM630.8,403.1h1v1h-1zM630.8,362.8h1v1h-1zM622.3,338.3h1v1h-1zM623.1,367.9h1v1h-1zM623.0,365.2h1v1h-1zM630.3,375.8h1v1h-1zM626.5,384.0h1v1h-1zM632.4,374.4h1v1h-1zM627.1,373.4h1v1h-1zM623.2,384.4h1v1h-1zM628.0,402.1h1v1h-1zM623.0,341.1h1v1h-1zM631.5,398.2h1v1h-1zM630.9,388.7h1v1h-1zM624.1,396.7h1v1h-1zM630.0,371.5h1v1h-1zM631.5,356.1h1v1h-1zM624.5,364.6h1v1h-1zM626.0,385.6h1v1h-1zM627.4,360.9h1v1h-1zM625.2,404.3h1v1h-1zM624.3,404.0h1v1h-1zM623.7,349.0h1v1h-1zM625.0,369.0h1v1h-1zM625.4,346.7h1v1h-1zM626.9,373.7h1v1h-1zM623.2,377.6h1v1h-1zM623.0,381.3h1v1h-1zM630.2,356.6h1v1h-1zM624.0,395.3h1v1h-1zM630.9,385.4h1v1h-1zM625.1,364.4h1v1h-1zM628.2,397.7h1v1h-1zM630.4,360.9h1v1h-1zM626.1,379.2h1v1h-1zM629.3,372.7h1v1h-1zM623.8,395.2h1v1h-1zM632.8,396.0h1v1h-1zM622.4,403.5h1v1h-1zM630.4,375.8h1v1h-1zM622.1,388.9h1v1h-1zM622.9,360.1h1v1h-1zM630.1,359.3h1v1h-1zM631.3,404.5h1v1h-1zM631.8,401.0h1v1h-1zM623.9,372.5h1v1h-1zM624.2,350.1h1v1h-1zM625.6,378.9h1v1h-1zM623.0,343.7h1v1h-1zM627.6,359.1h1v1h-1zM626.5,376.3h1v1h-1zM628.4,402.4h1v1h-1zM630.3,355.9h1v1h-1zM628.0,380.1h1v1h-1zM627.2,364.4h1v1h-1zM622.8,392.6h1v1h-1zM628.5,353.0h1v1h-1zM624.5,349.1h1v1h-1zM630.1,349.7h1v1h-1zM622.1,374.4h1v1h-1zM628.9,402.7h1v1h-1zM627.4,371.9h1v1h-1zM628.8,364.5h1v1h-1zM631.7,393.8h1v1h-1zM631.5,385.9h1v1h-1zM624.7,395.1h1v1h-1zM631.9,366.4h1v1h-1zM632.9,355.5h1v1h-1zM629.4,347.7h1v1h-1zM627.6,370.4h1v1h-1zM631.3,353.1h1v1h-1zM629.7,361.1h1v1h-1zM629.3,350.5h1v1h-1zM632.7,366.4h1v1h-1zM622.9,368.1h1v1h-1zM622.4,394.2h1v1h-1zM630.8,372.8h1v1h-1zM626.1,372.4h1v1h-1zM628.0,403.4h1v1h-1zM624.9,334.3h1v1h-1zM624.7,394.1h1v1h-1zM629.8,369.1h1v1h-1zM622.8,372.5h1v1h-1zM630.7,363.6h1v1h-1zM625.7,384.4h1v1h-1zM630.1,357.7h1v1h-1zM624.6,343.8h1v1h-1zM622.5,335.1h1v1h-1zM631.8,343.8h1v1h-1zM630.7,388.7h1v1h-1zM632.9,373.6h1v1h-1zM624.9,336.5h1v1h-1zM625.4,406.7h1v1h-1zM629.2,357.0h1v1h-1zM632.9,370.0h1v1h-1zM627.6,363.6h1v1h-1zM630.6,393.6h1v1h-1zM629.4,389.7h1v1h-1zM625.0,368.9h1v1h-1zM627.9,358.2h1v1h-1zM625.1,399.0h1v1h-1zM623.2,347.5h1v1h-1zM632.1,386.4h1v1h-1zM631.9,360.3h1v1h-1zM624.7,338.9h1v1h-1zM624.8,335.1h1v1h-1zM623.7,383.8h1v1h-1zM623.0,358.1h1v1h-1zM630.8,341.5h1v1h-1zM622.5,366.6h1v1h-1zM625.3,389.0h1v1h-1zM622.9,352.3h1v1h-1zM624.4,403.7h1v1h-1zM623.0,374.4h1v1h-1zM623.6,368.6h1v1h-1zM627.2,368.1h1v1h-1zM628.9,397.6h1v1h-1zM628.8,362.6h1v1h-1zM630.6,398.7h1v1h-1zM627.4,377.1h1v1h-1zM627.7,359.9h1v1h-1zM627.7,334.4h1v1h-1zM629.9,371.3h1v1h-1zM628.4,371.1h1v1h-1zM627.6,367.6h1v1h-1zM630.6,390.4h1v1h-1zM623.3,359.4h1v1h-1zM625.9,356.9h1v1h-1zM633.0,355.5h1v1h-1zM632.2,354.8h1v1h-1zM632.5,379.9h1v1h-1zM630.8,398.1h1v1h-1zM630.9,344.5h1v1h-1zM627.1,359.6h1v1h-1zM631.8,394.8h1v1h-1zM626.1,375.5h1v1h-1zM625.7,348.6h1v1h-1zM623.4,368.8h1v1h-1zM626.5,363.0h1v1h-1zM625.6,384.1h1v1h-1zM630.3,395.2h1v1h-1zM629.7,370.4h1v1h-1zM629.2,404.6h1v1h-1zM625.1,337.8h1v1h-1zM623.6,405.6h1v1h-1zM632.7,339.7h1v1h-1zM630.9,388.0h1v1h-1zM622.4,380.1h1v1h-1zM624.1,339.9h1v1h-1zM630.7,401.2h1v1h-1zM623.8,404.9h1v1h-1zM630.9,361.8h1v1h-1zM628.0,391.6h1v1h-1zM625.7,386.6h1v1h-1zM630.0,341.2h1v1h-1zM624.2,389.8h1v1h-1zM631.4,349.4h1v1h-1zM622.4,390.8h1v1h-1zM630.4,352.8h1v1h-1zM629.5,398.6h1v1h-1zM629.0,337.1h1v1h-1zM626.0,376.3h1v1h-1zM632.2,381.5h1v1h-1zM627.4,343.2h1v1h-1zM626.6,374.0h1v1h-1zM624.4,362.8h1v1h-1zM631.7,388.5h1v1h-1zM623.4,395.7h1v1h-1zM630.6,388.3h1v1h-1zM632.6,346.3h1v1h-1zM629.2,371.2h1v1h-1zM628.3,342.3h1v1h-1zM629.3,399.0h1v1h-1zM623.5,346.7h1v1h-1zM628.4,361.4h1v1h-1zM623.0,347.8h1v1h-1zM624.8,370.3h1v1h-1zM629.0,390.1h1v1h-1zM623.0,347.5h1v1h-1zM627.9,399.8h1v1h-1zM629.3,364.6h1v1h-1zM622.8,376.4h1v1h-1zM623.3,392.1h1v1h-1zM624.3,389.8h1v1h-1zM626.6,350.0h1v1h-1zM632.3,368.0h1v1h-1zM626.7,403.6h1v1h-1zM622.3,393.3h1v1h-1zM623.3,393.0h1v1h-1zM627.8,372.4h1v1h-1zM629.4,342.1h1v1h-1zM627.3,340.7h1v1h-1zM622.5,407.0h1v1h-1zM628.1,339.5h1v1h-1zM630.6,374.3h1v1h-1zM625.9,373.4h1v1h-1zM624.8,367.7h1v1h-1zM626.2,372.4h1v1h-1zM626.6,340.6h1v1h-1zM626.4,350.4h1v1h-1zM630.9,389.0h1v1h-1zM624.2,353.2h1v1h-1zM622.2,393.8h1v1h-1zM625.9,346.8h1v1h-1zM632.4,403.4h1v1h-1zM631.2,379.2h1v1h-1zM622.4,340.3h1v1h-1zM629.1,385.9h1v1h-1zM627.8,378.8h1v1h-1zM629.6,380.4h1v1h-1zM632.7,375.5h1v1h-1zM632.6,393.8h1v1h-1zM627.1,356.6h1v1h-1zM625.1,339.4h1v1h-1zM626.0,399.7h1v1h-1zM628.2,381.3h1v1h-1zM626.9,397.2h1v1h-1zM625.4,375.2h1v1h-1zM622.5,356.9h1v1h-1zM628.0,364.2h1v1h-1zM632.9,390.4h1v1h-1zM632.5,403.9h1v1h-1zM624.2,375.1h1v1h-1zM632.1,343.5h1v1h-1zM629.6,377.1h1v1h-1zM627.1,343.6h1v1h-1zM632.8,347.2h1v1h-1zM626.8,343.9h1v1h-1zM624.5,378.3h1v1h-1zM632.2,380.5h1v1h-1zM628.4,386.2h1v1h-1zM622.1,364.8h1v1h-1zM625.7,372.2h1v1h-1zM630.9,355.4h1v1h-1zM627.4,404.1h1v1h-1zM623.3,395.6h1v1h-1zM627.4,334.9h1v1h-1zM632.2,403.8h1v1h-1zM623.2,370.2h1v1h-1zM631.6,363.3h1v1h-1zM627.2,348.1h1v1h-1zM623.5,373.0h1v1h-1zM625.7,391.8h1v1h-1zM625.4,387.7h1v1h-1zM623.1,375.9h1v1h-1zM622.6,342.1h1v1h-1zM623.3,349.9h1v1h-1zM628.3,387.7h1v1h-1zM622.7,354.9h1v1h-1zM632.6,374.8h1v1h-1zM624.3,353.7h1v1h-1zM628.9,348.0h1v1h-1zM630.5,371.8h1v1h-1zM629.4,357.0h1v1h-1zM623.5,394.3h1v1h-1zM626.7,380.8h1v1h-1zM628.4,352.0h1v1h-1zM630.8,405.1h1v1h-1zM632.1,341.6h1v1h-1zM632.3,401.4h1v1h-1zM628.6,350.7h1v1h-1zM630.2,339.8h1v1h-1zM628.1,343.1h1v1h-1zM631.6,353.1h1v1h-1zM630.2,355.4h1v1h-1zM626.8,355.9h1v1h-1zM631.7,390.8h1v1h-1zM624.4,385.9h1v1h-1zM630.5,384.0h1v1h-1zM629.9,406.6h1v1h-1zM631.3,389.5h1v1h-1zM626.8,400.6h1v1h-1zM627.8,361.6h1v1h-1zM622.7,355.5h1v1h-1zM629.9,382.0h1v1h-1zM622.2,345.6h1v1h-1zM628.1,335.3h1v1h-1zM627.8,350.6h1v1h-1zM632.6,336.6h1v1h-1zM622.8,396.1h1v1h-1zM631.2,351.6h1v1h-1zM632.4,373.1h1v1h-1zM631.0,382.1h1v1h-1zM630.7,401.2h1v1h-1zM630.3,369.7h1v1h-1zM630.6,372.2h1v1h-1zM628.2,373.4h1v1h-1zM630.1,360.7h1v1h-1zM631.9,383.8h1v1h-1zM627.3,372.4h1v1h-1zM625.0,395.2h1v1h-1zM629.2,362.7h1v1h-1zM627.5,405.4h1v1h-1zM626.2,370.6h1v1h-1zM632.8,340.6h1v1h-1zM622.3,367.5h1v1h-1zM629.1,358.6h1v1h-1zM625.0,369.4h1v1h-1zM627.7,384.2h1v1h-1zM628.9,376.5h1v1h-1zM627.3,381.9h1v1h-1zM631.4,390.0h1v1h-1zM622.1,381.5h1v1h-1zM626.9,367.8h1v1h-1zM626.1,370.3h1v1h-1zM628.9,384.5h1v1h-1zM632.2,353.7h1v1h-1zM628.4,355.4h1v1h-1zM632.8,403.2h1v1h-1zM623.9,350.4h1v1h-1zM629.4,354.7h1v1h-1zM623.2,378.1h1v1h-1zM626.7,343.8h1v1h-1zM632.6,387.1h1v1h-1zM626.6,376.1h1v1h-1zM631.7,391.2h1v1h-1zM623.5,392.8h1v1h-1zM629.7,399.8h1v1h-1zM622.3,397.4h1v1h-1zM630.7,384.7h1v1h-1zM630.1,334.2h1v1h-1zM625.6,361.6h1v1h-1zM632.7,362.3h1v1h-1zM633.0,350.1h1v1h-1zM625.4,366.3h1v1h-1zM631.4,394.7h1v1h-1zM630.8,364.8h1v1h-1zM630.3,372.0h1v1h-1zM632.5,393.4h1v1h-1zM622.1,362.3h1v1h-1zM622.0,359.9h1v1h-1zM625.4,338.1h1v1h-1zM630.6,391.5h1v1h-1zM629.4,376.0h1v1h-1zM631.1,340.7h1v1h-1zM630.8,351.1h1v1h-1zM627.3,368.7h1v1h-1zM630.1,377.6h1v1h-1zM626.1,390.7h1v1h-1zM632.3,346.2h1v1h-1zM626.2,401.5h1v1h-1zM628.7,365.6h1v1h-1zM632.2,373.8h1v1h-1zM628.3,399.1h1v1h-1zM630.3,369.4h1v1h-1zM631.4,342.6h1v1h-1zM629.9,345.6h1v1h-1zM627.7,370.5h1v1h-1zM627.0,369.7h1v1h-1zM632.0,339.4h1v1h-1zM626.2,390.3h1v1h-1zM630.1,375.1h1v1h-1zM626.1,383.5h1v1h-1zM627.4,338.6h1v1h-1zM622.1,389.1h1v1h-1zM627.8,374.0h1v1h-1zM626.2,392.9h1v1h-1zM626.3,340.7h1v1h-1zM626.6,382.8h1v1h-1zM626.5,359.0h1v1h-1zM622.7,359.2h1v1h-1zM629.1,380.2h1v1h-1zM631.6,389.8h1v1h-1zM624.4,370.4h1v1h-1zM629.1,396.2h1v1h-1zM624.0,380.7h1v1h-1zM628.3,360.1h1v1h-1zM625.6,373.6h1v1h-1zM626.0,388.0h1v1h-1zM630.2,351.7h1v1h-1zM631.3,336.3h1v1h-1zM629.5,376.3h1v1h-1zM622.1,400.2h1v1h-1zM632.0,360.4h1v1h-1zM628.6,361.8h1v1h-1zM626.5,379.5h1v1h-1zM623.5,394.6h1v1h-1zM622.4,369.1h1v1h-1zM627.8,353.5h1v1h-1zM623.9,387.2h1v1h-1zM629.0,361.2h1v1h-1zM623.7,382.9h1v1h-1zM630.0,376.3h1v1h-1zM629.4,337.5h1v1h-1zM629.6,401.6h1v1h-1zM622.6,363.9h1v1h-1zM631.7,359.7h1v1h-1zM628.4,374.8h1v1h-1zM627.5,381.9h1v1h-1zM625.3,395.1h1v1h-1zM632.6,383.6h1v1h-1zM626.4,365.6h1v1h-1zM630.7,359.9h1v1h-1zM625.1,368.9h1v1h-1zM623.3,390.4h1v1h-1zM629.1,347.7h1v1h-1zM624.4,348.3h1v1h-1z" fill="#f58c62" fill-opacity="0.75"/>
<line x1="620.7" y1="336.8" x2="620.7" y2="405.4" stroke="#555" stroke-width="0.7"/>
<line x1="616.7" y1="336.8" x2="624.7" y2="336.8" stroke="#555" stroke-width="0.7"/>
<line x1="616.7" y1="405.4" x2="624.7" y2="405.4" stroke="#555" stroke-width="0.7"/>
<rect x="613.4" y="357.8" width="14.8" height="32.5" fill="none" stroke="#444" stroke-width="0.8"/>
<line x1="613.4" y1="374.3" x2="628.2" y2="374.3" stroke="#555" stroke-width="0.7"/>
<path d="M618.5,371.6L622.9000000000001,376.0M622.9000000000001,371.6L618.5,376.0" stroke="#000" stroke-width="2.3" stroke-linecap="round"/>
</svg></body></html>
